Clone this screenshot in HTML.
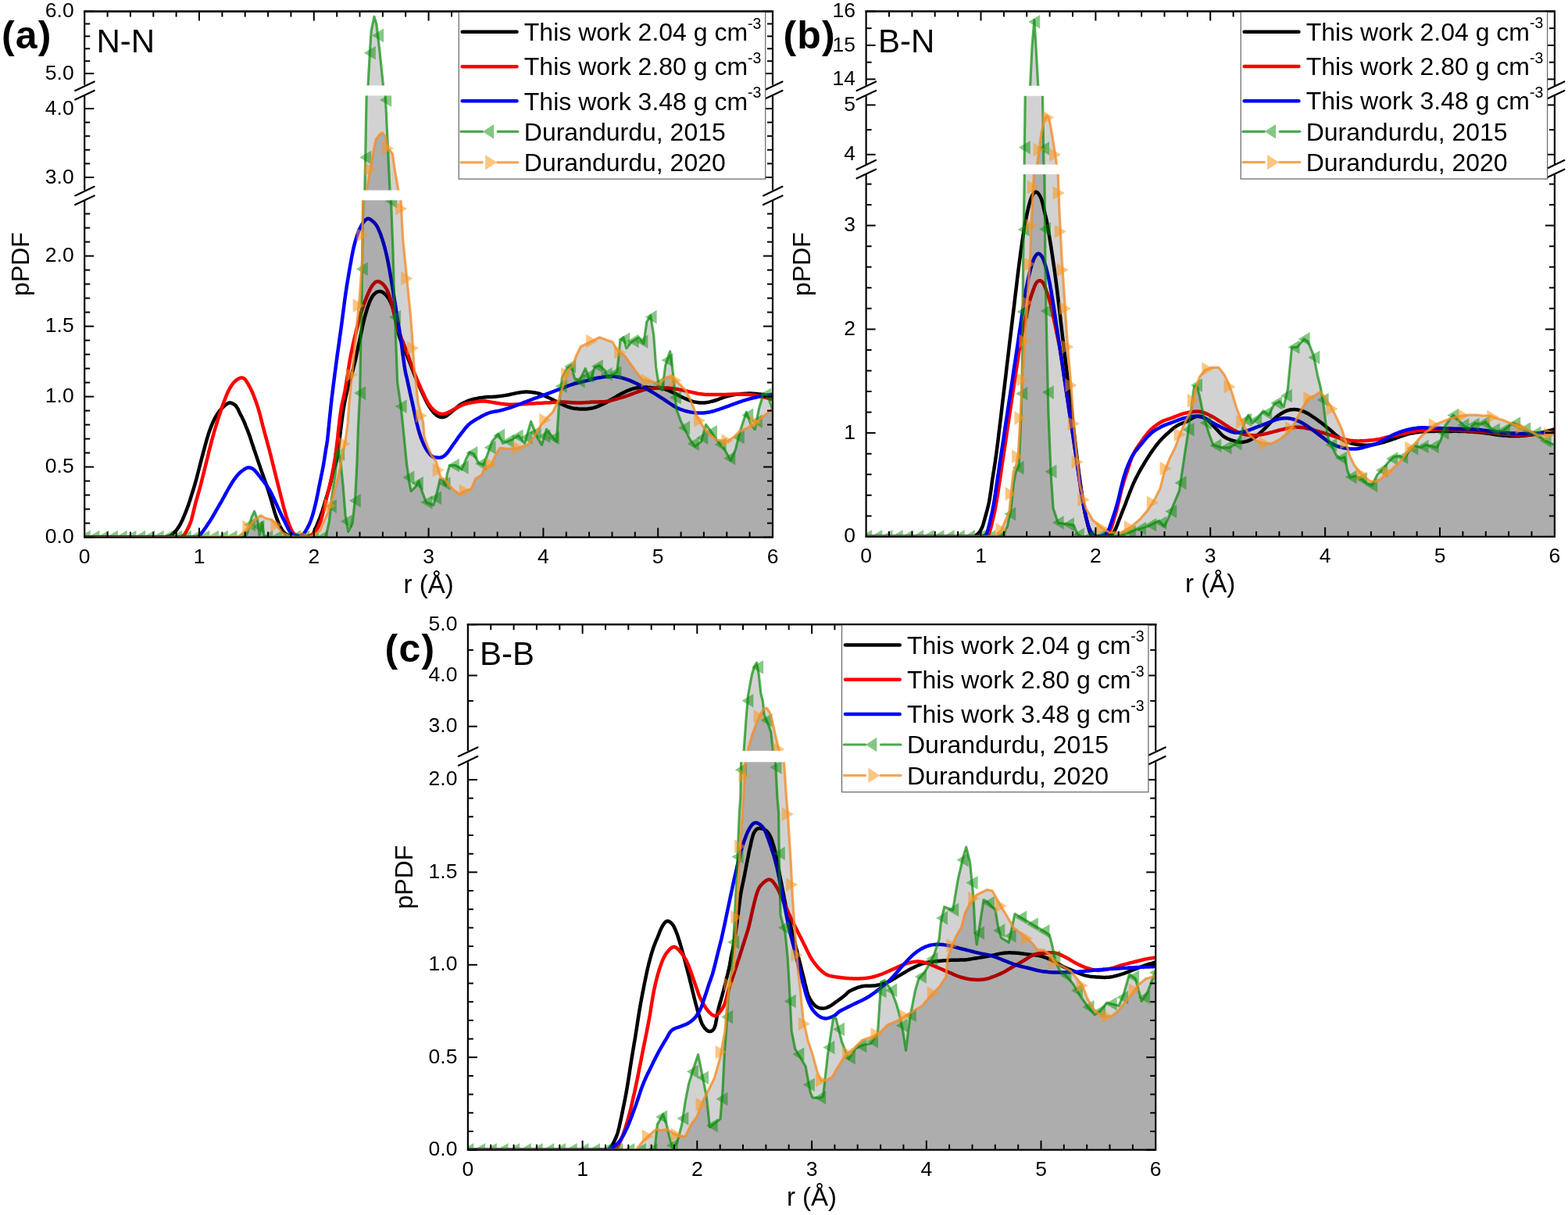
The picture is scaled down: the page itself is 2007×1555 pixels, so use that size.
<!DOCTYPE html><html><head><meta charset="utf-8"><style>html,body{margin:0;padding:0;background:#fff;}svg{display:block}</style></head><body>
<svg width="2007" height="1555" viewBox="0 0 2007 1555" font-family="'Liberation Sans', Arial, sans-serif">
<rect width="2007" height="1555" fill="#fff"/>
<clipPath id="clip0"><rect x="108.2" y="14.6" width="880.8" height="673.0"/></clipPath>
<g clip-path="url(#clip0)">
<polyline fill="none" stroke="#000000" stroke-width="4.5" stroke-linejoin="round" stroke-linecap="round" points="108.2,687.6 115.8,687.6 126.6,687.6 139.4,687.6 153.3,687.6 167.4,687.6 180.5,687.6 191.7,687.6 200.0,687.6 205.4,687.6 208.7,687.5 210.6,687.5 211.3,687.4 211.4,687.4 211.2,687.3 211.3,687.2 212.0,687.0 213.1,686.9 214.1,686.8 214.9,686.8 215.7,686.7 216.5,686.5 217.3,686.1 218.2,685.6 219.2,684.9 220.3,684.0 221.6,682.9 222.9,681.7 224.2,680.3 225.6,678.8 226.9,677.0 228.3,675.1 229.6,673.0 230.9,670.7 232.2,668.1 233.5,665.4 234.8,662.5 236.1,659.4 237.4,656.2 238.7,652.9 240.0,649.4 241.3,645.8 242.6,641.9 243.9,637.9 245.2,633.7 246.5,629.5 247.8,625.3 249.1,621.0 250.3,616.8 251.5,612.6 252.6,608.3 253.7,604.0 254.8,599.7 255.9,595.4 257.0,591.1 258.1,586.9 259.2,582.8 260.3,578.7 261.4,574.6 262.5,570.5 263.6,566.5 264.7,562.6 265.8,558.8 266.9,555.1 268.1,551.7 269.3,548.4 270.5,545.3 271.7,542.3 273.0,539.5 274.3,536.8 275.6,534.2 277.0,531.8 278.4,529.5 280.0,527.3 281.6,525.2 283.4,523.2 285.2,521.4 286.9,519.7 288.7,518.3 290.3,517.1 291.7,516.2 293.0,515.7 294.2,515.5 295.4,515.6 296.4,515.9 297.4,516.3 298.4,516.8 299.2,517.3 300.0,517.8 300.7,518.2 301.3,518.7 301.8,519.2 302.2,519.8 302.6,520.4 303.0,521.0 303.4,521.7 303.9,522.5 304.4,523.3 304.9,524.2 305.3,525.2 305.8,526.2 306.3,527.2 306.7,528.2 307.2,529.2 307.7,530.2 308.2,531.2 308.7,532.1 309.2,533.0 309.7,534.0 310.1,534.9 310.6,535.9 311.1,536.9 311.6,537.9 312.1,539.0 312.6,540.1 313.0,541.2 313.5,542.4 314.0,543.6 314.4,544.8 314.9,546.0 315.4,547.2 315.9,548.4 316.4,549.6 316.9,550.8 317.4,552.1 317.8,553.3 318.3,554.6 318.8,555.9 319.3,557.2 319.8,558.6 320.3,560.0 320.7,561.4 321.2,562.9 321.7,564.4 322.1,565.9 322.6,567.3 323.1,568.8 323.6,570.2 324.1,571.6 324.5,573.0 325.0,574.5 325.5,575.9 326.0,577.3 326.5,578.8 327.0,580.3 327.5,581.8 328.0,583.4 328.5,584.9 329.1,586.5 329.6,588.1 330.2,589.8 330.8,591.6 331.4,593.4 332.1,595.3 332.8,597.3 333.5,599.4 334.3,601.6 335.0,603.7 335.8,605.9 336.6,608.1 337.3,610.2 338.0,612.3 338.8,614.4 339.5,616.5 340.3,618.6 341.0,620.6 341.7,622.7 342.4,624.8 343.1,626.9 343.8,629.0 344.4,631.1 345.0,633.2 345.7,635.2 346.3,637.3 346.9,639.4 347.5,641.5 348.1,643.6 348.7,645.7 349.3,647.9 350.0,650.0 350.6,652.2 351.2,654.3 351.8,656.4 352.5,658.4 353.1,660.3 353.7,662.1 354.4,663.8 355.0,665.5 355.7,667.1 356.3,668.7 356.9,670.1 357.6,671.6 358.2,672.9 358.8,674.2 359.4,675.4 360.0,676.5 360.7,677.6 361.3,678.6 361.9,679.5 362.5,680.4 363.2,681.2 363.9,681.9 364.6,682.6 365.4,683.2 366.1,683.7 366.8,684.2 367.6,684.6 368.3,685.0 369.0,685.4 369.6,685.7 370.2,686.1 370.8,686.3 371.4,686.5 372.0,686.7 372.6,686.9 373.3,687.1 374.0,687.2 374.8,687.3 375.6,687.4 376.5,687.5 377.4,687.5 378.4,687.5 379.4,687.6 380.4,687.6 381.5,687.6 382.7,687.6 383.9,687.6 385.2,687.7 386.6,687.7 387.9,687.7 389.2,687.7 390.4,687.6 391.5,687.6 392.5,687.6 393.4,687.5 394.2,687.5 394.9,687.5 395.6,687.4 396.3,687.3 396.9,687.2 397.5,687.0 398.0,686.8 398.5,686.5 398.8,686.2 399.2,685.9 399.5,685.5 399.8,685.1 400.1,684.6 400.5,684.0 400.9,683.3 401.2,682.6 401.6,681.8 401.9,680.9 402.3,680.0 402.7,679.1 403.1,678.0 403.5,677.0 404.0,675.9 404.5,674.7 405.0,673.5 405.5,672.2 406.1,670.9 406.6,669.6 407.2,668.3 407.7,667.0 408.2,665.7 408.7,664.5 409.2,663.3 409.7,662.0 410.2,660.7 410.7,659.3 411.2,657.8 411.8,656.2 412.4,654.4 413.0,652.4 413.6,650.3 414.3,648.2 415.0,646.0 415.6,643.7 416.3,641.5 416.9,639.4 417.5,637.3 418.2,635.3 418.8,633.3 419.4,631.3 420.0,629.3 420.7,627.2 421.3,625.0 421.9,622.7 422.5,620.3 423.2,617.7 423.8,615.0 424.4,612.2 425.1,609.5 425.7,606.8 426.3,604.2 426.9,601.8 427.5,599.8 428.0,598.3 428.5,597.1 429.0,595.8 429.6,594.2 430.1,592.1 430.8,589.2 431.5,585.1 432.3,579.6 433.2,572.7 434.2,565.0 435.3,556.7 436.3,548.3 437.3,540.2 438.3,532.8 439.2,526.6 440.0,521.4 440.8,516.9 441.6,512.9 442.3,509.3 443.0,506.1 443.7,503.0 444.4,500.0 445.1,497.0 445.8,494.1 446.5,491.5 447.2,489.1 447.9,486.9 448.5,484.7 449.2,482.6 449.8,480.4 450.5,478.0 451.1,475.6 451.8,473.2 452.4,470.8 453.0,468.3 453.6,465.8 454.3,463.3 454.9,460.7 455.5,458.0 456.1,455.2 456.7,452.4 457.3,449.6 457.9,446.6 458.5,443.6 459.2,440.5 459.9,437.3 460.6,433.9 461.4,430.3 462.2,426.4 463.1,422.4 463.9,418.3 464.8,414.2 465.8,410.1 466.7,406.3 467.7,402.8 468.7,399.5 469.7,396.2 470.7,393.0 471.8,389.9 472.8,387.1 473.9,384.5 475.1,382.1 476.2,380.1 477.4,378.4 478.6,376.9 479.8,375.7 481.1,374.7 482.3,373.9 483.6,373.4 484.9,373.1 486.1,373.0 487.4,373.1 488.6,373.5 489.9,374.1 491.2,375.0 492.4,376.0 493.7,377.2 494.9,378.6 496.0,380.1 497.1,381.7 498.2,383.5 499.2,385.4 500.2,387.5 501.2,389.8 502.1,392.3 503.1,395.0 504.0,398.0 504.9,401.4 505.8,405.3 506.7,409.5 507.5,413.8 508.3,418.2 509.2,422.4 510.1,426.4 511.0,429.9 511.9,432.9 512.9,435.6 513.8,438.0 514.8,440.2 515.8,442.4 516.8,444.7 517.9,447.1 519.0,449.8 520.2,452.8 521.4,455.9 522.6,459.2 523.9,462.5 525.2,465.9 526.5,469.2 527.7,472.5 529.0,475.7 530.2,478.8 531.5,481.9 532.8,485.0 534.0,488.0 535.2,491.0 536.5,493.9 537.8,496.8 539.0,499.6 540.3,502.3 541.5,505.1 542.8,507.7 544.0,510.4 545.3,512.9 546.5,515.3 547.8,517.5 549.0,519.6 550.2,521.5 551.5,523.4 552.7,525.1 554.0,526.7 555.2,528.1 556.4,529.4 557.7,530.5 558.9,531.5 560.1,532.3 561.4,532.9 562.6,533.4 563.8,533.7 565.1,533.9 566.3,533.9 567.6,533.8 568.9,533.5 570.2,533.0 571.6,532.2 573.0,531.2 574.4,530.1 575.8,528.9 577.2,527.7 578.6,526.6 579.9,525.5 581.2,524.5 582.4,523.5 583.6,522.4 584.7,521.4 585.9,520.4 587.1,519.4 588.5,518.4 589.9,517.5 591.4,516.6 593.1,515.8 594.7,515.0 596.5,514.2 598.3,513.4 600.1,512.7 601.9,512.1 603.8,511.5 605.7,511.0 607.7,510.5 609.7,510.1 611.7,509.7 613.7,509.3 615.8,509.0 617.8,508.8 619.8,508.5 621.8,508.3 623.8,508.1 625.9,508.0 627.9,507.9 629.9,507.9 631.9,507.8 633.8,507.7 635.7,507.5 637.5,507.3 639.3,507.1 641.1,506.9 642.8,506.6 644.5,506.4 646.3,506.1 648.0,505.8 649.7,505.5 651.5,505.2 653.2,504.8 655.0,504.4 656.8,504.0 658.5,503.6 660.3,503.2 662.0,502.9 663.6,502.6 665.2,502.4 666.7,502.1 668.2,502.0 669.6,501.8 671.0,501.7 672.5,501.6 674.0,501.6 675.6,501.6 677.2,501.7 678.9,501.8 680.7,502.0 682.4,502.2 684.2,502.4 686.0,502.8 687.7,503.1 689.5,503.6 691.3,504.2 693.0,504.8 694.8,505.5 696.6,506.3 698.4,507.1 700.1,507.9 701.8,508.7 703.5,509.5 705.1,510.2 706.6,511.0 708.0,511.7 709.5,512.5 710.9,513.2 712.3,514.0 713.8,514.7 715.4,515.5 717.1,516.3 718.8,517.1 720.5,517.9 722.3,518.8 724.1,519.5 725.9,520.3 727.6,520.9 729.4,521.5 731.1,522.0 732.9,522.4 734.6,522.7 736.4,522.9 738.1,523.1 739.8,523.3 741.6,523.4 743.3,523.5 745.0,523.5 746.8,523.6 748.5,523.5 750.3,523.4 752.1,523.3 753.8,523.1 755.6,522.8 757.3,522.5 759.1,522.1 760.9,521.6 762.7,521.0 764.5,520.3 766.2,519.6 767.9,518.9 769.6,518.2 771.2,517.5 772.7,516.8 774.0,516.1 775.3,515.4 776.6,514.7 777.9,513.9 779.2,513.2 780.5,512.3 782.0,511.5 783.6,510.6 785.3,509.6 787.0,508.6 788.8,507.6 790.5,506.5 792.3,505.5 794.1,504.5 795.9,503.6 797.6,502.7 799.4,501.9 801.1,501.0 802.9,500.2 804.7,499.5 806.4,498.8 808.2,498.1 809.9,497.6 811.6,497.1 813.4,496.7 815.1,496.4 816.9,496.2 818.6,496.0 820.3,495.8 822.1,495.7 823.8,495.6 825.6,495.6 827.3,495.6 829.1,495.8 830.9,495.9 832.7,496.1 834.4,496.3 836.1,496.5 837.8,496.6 839.4,496.7 840.9,496.7 842.3,496.8 843.7,496.8 845.2,496.9 846.6,497.0 848.1,497.2 849.7,497.6 851.4,498.1 853.1,498.8 854.9,499.5 856.7,500.3 858.5,501.1 860.3,502.0 862.0,502.8 863.7,503.6 865.3,504.3 866.8,505.1 868.2,505.9 869.7,506.6 871.1,507.4 872.5,508.1 874.0,508.8 875.6,509.5 877.3,510.2 879.0,510.9 880.8,511.6 882.6,512.3 884.4,513.0 886.2,513.6 887.9,514.1 889.6,514.5 891.2,514.8 892.7,515.1 894.1,515.3 895.6,515.5 897.0,515.6 898.4,515.6 899.9,515.6 901.5,515.5 903.2,515.3 904.9,515.1 906.6,514.8 908.4,514.4 910.2,513.9 912.0,513.5 913.7,513.0 915.5,512.5 917.2,512.0 919.0,511.3 920.7,510.7 922.5,510.0 924.2,509.3 925.9,508.6 927.7,508.0 929.4,507.5 931.1,507.0 932.8,506.6 934.6,506.2 936.3,505.8 938.0,505.5 939.8,505.1 941.6,504.9 943.4,504.6 945.3,504.4 947.3,504.2 949.3,504.0 951.4,503.9 953.4,503.7 955.4,503.7 957.4,503.6 959.3,503.6 961.1,503.6 962.9,503.7 964.6,503.7 966.3,503.9 968.0,504.0 969.7,504.2 971.5,504.4 973.3,504.6 975.3,504.9 977.5,505.3 979.8,505.7 982.1,506.1 984.3,506.5 986.3,506.9 988.0,507.3 989.2,507.5"/>
<polyline fill="none" stroke="#ff0000" stroke-width="4.5" stroke-linejoin="round" stroke-linecap="round" points="108.2,687.6 117.9,687.6 131.7,687.6 148.2,687.7 166.0,687.7 184.0,687.7 200.6,687.7 214.8,687.7 225.0,687.6 231.3,687.5 234.9,687.4 236.5,687.2 236.5,687.1 235.7,686.8 234.6,686.6 233.8,686.2 234.0,685.8 234.8,685.3 235.4,684.8 236.0,684.2 236.4,683.6 236.9,682.9 237.4,682.0 237.9,681.1 238.5,680.0 239.2,678.8 239.9,677.5 240.6,676.1 241.4,674.6 242.1,672.9 242.9,671.1 243.7,669.2 244.4,667.1 245.1,664.8 245.8,662.2 246.5,659.5 247.2,656.6 247.9,653.7 248.6,650.7 249.3,647.8 250.0,645.0 250.7,642.3 251.5,639.6 252.3,637.0 253.0,634.4 253.8,631.7 254.6,628.9 255.5,625.9 256.3,622.8 257.2,619.5 258.1,615.9 259.0,612.2 259.9,608.5 260.9,604.6 261.8,600.8 262.8,597.0 263.7,593.2 264.6,589.5 265.6,585.7 266.5,581.9 267.4,578.1 268.3,574.4 269.3,570.7 270.2,567.1 271.1,563.6 272.0,560.2 273.0,556.9 273.9,553.7 274.8,550.5 275.7,547.4 276.7,544.4 277.6,541.4 278.5,538.4 279.4,535.5 280.4,532.5 281.3,529.7 282.2,526.8 283.1,524.1 284.0,521.4 285.0,518.7 285.9,516.2 286.8,513.7 287.8,511.3 288.7,508.9 289.6,506.6 290.5,504.4 291.4,502.3 292.4,500.3 293.3,498.5 294.2,496.8 295.2,495.2 296.1,493.8 297.0,492.5 297.9,491.2 298.9,490.1 299.8,489.1 300.7,488.1 301.6,487.2 302.6,486.4 303.5,485.8 304.5,485.2 305.4,484.7 306.3,484.3 307.2,483.9 308.0,483.7 308.7,483.5 309.4,483.5 310.0,483.5 310.6,483.6 311.2,483.8 311.8,484.1 312.4,484.5 313.0,485.0 313.7,485.7 314.4,486.5 315.1,487.5 315.8,488.6 316.5,489.7 317.2,490.8 317.9,492.0 318.5,493.1 319.1,494.2 319.7,495.3 320.3,496.5 320.9,497.6 321.5,498.8 322.0,500.0 322.6,501.2 323.1,502.4 323.6,503.6 324.1,504.8 324.6,506.0 325.1,507.3 325.6,508.5 326.0,509.8 326.5,511.1 327.0,512.4 327.5,513.8 328.0,515.2 328.5,516.6 329.0,518.1 329.5,519.6 330.0,521.1 330.5,522.5 330.9,524.0 331.3,525.5 331.7,526.9 332.1,528.4 332.5,529.8 332.9,531.2 333.3,532.7 333.6,534.1 334.0,535.6 334.4,537.1 334.8,538.5 335.1,540.0 335.5,541.4 335.9,542.9 336.2,544.3 336.6,545.8 337.0,547.2 337.4,548.6 337.8,550.1 338.2,551.5 338.5,553.0 338.9,554.4 339.3,555.8 339.7,557.3 340.1,558.7 340.5,560.1 340.9,561.6 341.3,563.0 341.7,564.5 342.0,565.9 342.4,567.4 342.8,568.8 343.2,570.3 343.6,571.8 344.0,573.2 344.4,574.7 344.8,576.1 345.2,577.6 345.5,579.0 345.9,580.5 346.3,581.9 346.7,583.3 347.0,584.7 347.3,586.0 347.6,587.3 348.0,588.7 348.3,590.2 348.7,591.7 349.1,593.4 349.6,595.2 350.1,597.2 350.6,599.3 351.1,601.5 351.7,603.7 352.2,605.9 352.8,608.1 353.3,610.2 353.8,612.3 354.4,614.4 354.9,616.5 355.4,618.6 355.9,620.6 356.4,622.7 357.0,624.8 357.5,626.9 358.0,629.0 358.6,631.1 359.1,633.2 359.6,635.4 360.1,637.5 360.7,639.5 361.2,641.6 361.7,643.6 362.2,645.6 362.7,647.5 363.2,649.5 363.7,651.4 364.3,653.3 364.8,655.1 365.3,656.9 365.8,658.7 366.3,660.4 366.8,662.1 367.4,663.7 367.9,665.3 368.4,666.9 368.9,668.4 369.5,669.8 370.0,671.2 370.5,672.5 371.1,673.8 371.6,675.1 372.1,676.3 372.6,677.5 373.1,678.5 373.7,679.5 374.2,680.4 374.7,681.2 375.2,681.9 375.7,682.4 376.2,683.0 376.7,683.4 377.2,683.8 377.8,684.2 378.4,684.6 379.0,685.0 379.7,685.3 380.4,685.6 381.1,685.8 381.8,686.0 382.6,686.2 383.4,686.4 384.2,686.5 385.1,686.6 386.0,686.7 387.0,686.7 387.9,686.7 388.9,686.7 389.9,686.7 390.9,686.6 391.8,686.5 392.7,686.4 393.6,686.2 394.5,686.0 395.3,685.8 396.2,685.6 397.0,685.3 397.8,685.0 398.5,684.6 399.2,684.2 399.9,683.8 400.5,683.4 401.1,682.9 401.7,682.4 402.3,681.8 402.9,681.1 403.5,680.4 404.1,679.6 404.8,678.8 405.4,677.9 406.0,676.9 406.6,675.9 407.2,674.7 407.9,673.4 408.5,672.0 409.1,670.4 409.8,668.7 410.4,666.8 411.0,664.9 411.6,662.8 412.2,660.7 412.9,658.5 413.5,656.2 414.1,653.8 414.8,651.2 415.4,648.6 416.1,645.8 416.7,643.1 417.3,640.4 417.9,637.8 418.5,635.3 419.1,633.0 419.6,630.9 420.1,628.9 420.7,626.9 421.2,624.9 421.7,622.9 422.2,620.8 422.7,618.5 423.2,616.1 423.8,613.6 424.3,611.0 424.9,608.3 425.4,605.6 425.9,602.9 426.4,600.2 426.9,597.6 427.3,595.2 427.7,593.1 428.1,591.0 428.4,589.0 428.8,586.7 429.2,584.0 429.7,580.7 430.2,576.7 430.8,571.7 431.5,565.7 432.3,559.2 433.0,552.2 433.8,545.2 434.6,538.4 435.4,532.1 436.2,526.6 436.9,522.0 437.7,517.9 438.4,514.3 439.2,511.0 439.9,507.7 440.6,504.4 441.4,500.9 442.1,497.0 442.8,492.7 443.6,488.0 444.3,483.2 445.1,478.3 445.8,473.4 446.6,468.7 447.3,464.2 448.0,460.0 448.7,456.2 449.4,452.8 450.0,449.5 450.7,446.4 451.3,443.4 452.0,440.3 452.7,437.2 453.5,433.9 454.3,430.4 455.2,426.8 456.0,423.1 456.9,419.4 457.9,415.8 458.8,412.2 459.7,408.8 460.6,405.6 461.5,402.6 462.3,399.7 463.2,397.0 464.1,394.4 464.9,391.8 465.8,389.3 466.7,386.9 467.7,384.4 468.7,381.9 469.7,379.3 470.8,376.7 471.9,374.2 473.0,371.8 474.1,369.6 475.2,367.7 476.2,366.0 477.2,364.6 478.2,363.4 479.1,362.4 480.1,361.6 481.0,360.9 482.0,360.5 483.0,360.3 484.0,360.3 485.1,360.5 486.3,360.9 487.4,361.6 488.6,362.4 489.8,363.4 491.0,364.6 492.1,366.0 493.2,367.4 494.2,368.9 495.1,370.5 495.9,372.2 496.7,374.1 497.5,376.2 498.4,378.6 499.3,381.3 500.2,384.4 501.2,388.0 502.2,392.2 503.3,396.8 504.4,401.6 505.5,406.5 506.7,411.3 507.8,415.8 509.0,419.9 510.2,423.6 511.4,427.0 512.7,430.2 513.9,433.3 515.2,436.4 516.5,439.4 517.7,442.5 519.0,445.8 520.2,449.2 521.5,452.7 522.8,456.3 524.0,459.9 525.2,463.4 526.5,467.0 527.8,470.4 529.0,473.7 530.2,476.9 531.5,480.0 532.8,483.1 534.0,486.1 535.2,489.1 536.5,492.0 537.8,494.8 539.0,497.6 540.3,500.4 541.5,503.1 542.8,505.8 544.0,508.5 545.3,511.0 546.5,513.4 547.8,515.6 549.0,517.6 550.2,519.4 551.5,521.0 552.7,522.4 554.0,523.7 555.2,524.9 556.4,525.9 557.7,526.8 558.9,527.6 560.1,528.3 561.3,528.9 562.5,529.3 563.7,529.6 564.9,529.8 566.2,529.9 567.5,529.8 568.9,529.6 570.4,529.2 572.0,528.6 573.6,527.9 575.3,527.1 577.0,526.1 578.6,525.2 580.3,524.3 581.9,523.5 583.4,522.7 584.9,521.9 586.4,521.1 587.8,520.3 589.3,519.5 590.8,518.8 592.3,518.1 593.9,517.5 595.6,517.0 597.3,516.5 599.1,516.1 600.8,515.7 602.6,515.3 604.4,515.0 606.1,514.8 607.8,514.5 609.4,514.3 610.9,514.0 612.4,513.8 613.8,513.7 615.2,513.6 616.7,513.5 618.2,513.5 619.8,513.5 621.4,513.6 623.1,513.8 624.9,514.0 626.6,514.3 628.4,514.6 630.2,514.9 631.9,515.2 633.7,515.5 635.4,515.8 637.1,516.0 638.9,516.3 640.6,516.6 642.3,516.9 644.1,517.1 645.9,517.3 647.7,517.5 649.6,517.6 651.5,517.7 653.5,517.7 655.5,517.7 657.5,517.7 659.6,517.6 661.6,517.6 663.6,517.5 665.6,517.4 667.5,517.3 669.4,517.2 671.4,517.1 673.3,516.9 675.3,516.8 677.4,516.6 679.6,516.5 681.9,516.4 684.3,516.2 686.8,516.1 689.3,516.0 691.9,515.9 694.4,515.8 697.0,515.6 699.5,515.5 702.0,515.4 704.5,515.2 707.0,515.0 709.4,514.9 711.9,514.7 714.4,514.6 716.9,514.5 719.4,514.5 721.9,514.5 724.4,514.7 726.9,514.8 729.4,515.0 731.9,515.2 734.4,515.3 736.9,515.5 739.4,515.5 741.9,515.5 744.5,515.4 747.1,515.2 749.6,515.1 752.1,514.9 754.6,514.8 757.0,514.6 759.3,514.5 761.5,514.4 763.6,514.4 765.7,514.4 767.7,514.3 769.6,514.3 771.5,514.3 773.3,514.2 775.0,514.0 776.6,513.8 778.0,513.6 779.3,513.3 780.6,513.0 781.8,512.6 783.1,512.3 784.4,511.9 785.9,511.5 787.5,511.1 789.1,510.6 790.8,510.2 792.6,509.7 794.4,509.2 796.2,508.7 798.0,508.1 799.9,507.5 801.8,506.8 803.8,506.1 805.8,505.3 807.9,504.6 809.9,503.8 811.9,503.0 813.9,502.3 815.8,501.6 817.6,501.0 819.4,500.4 821.2,499.8 822.9,499.3 824.6,498.8 826.4,498.3 828.1,497.9 829.8,497.6 831.6,497.3 833.3,497.1 835.1,497.0 836.9,496.9 838.6,496.8 840.4,496.7 842.1,496.7 843.7,496.6 845.3,496.5 846.8,496.5 848.3,496.4 849.7,496.4 851.1,496.4 852.6,496.4 854.1,496.5 855.7,496.6 857.3,496.7 859.0,496.9 860.8,497.2 862.5,497.4 864.3,497.7 866.1,498.0 867.8,498.3 869.6,498.6 871.3,498.9 873.0,499.3 874.8,499.7 876.5,500.0 878.2,500.4 880.0,500.8 881.8,501.2 883.6,501.6 885.5,502.0 887.3,502.4 889.2,502.8 891.2,503.3 893.2,503.7 895.2,504.0 897.3,504.3 899.5,504.6 901.8,504.8 904.2,504.9 906.7,505.0 909.2,505.1 911.8,505.1 914.4,505.1 917.0,505.1 919.5,505.1 922.0,505.1 924.5,505.0 927.0,504.9 929.5,504.9 931.9,504.8 934.4,504.7 936.9,504.6 939.4,504.6 941.9,504.6 944.5,504.6 947.0,504.6 949.6,504.7 952.1,504.7 954.6,504.8 957.0,504.9 959.3,505.1 961.5,505.3 963.6,505.5 965.7,505.8 967.7,506.1 969.6,506.4 971.5,506.7 973.4,507.1 975.3,507.5 977.2,508.0 979.2,508.5 981.3,509.1 983.2,509.6 985.1,510.2 986.8,510.7 988.1,511.2 989.2,511.5"/>
<polyline fill="none" stroke="#0000ff" stroke-width="4.5" stroke-linejoin="round" stroke-linecap="round" points="108.2,687.6 119.6,687.6 135.8,687.6 155.1,687.7 176.0,687.7 197.0,687.7 216.5,687.7 233.0,687.7 245.0,687.6 252.3,687.5 256.3,687.6 257.8,687.6 257.7,687.6 256.5,687.4 255.1,687.1 254.3,686.5 254.7,685.6 256.1,684.4 257.5,682.8 258.9,681.1 260.4,679.1 261.9,677.0 263.5,674.8 265.0,672.5 266.6,670.1 268.2,667.7 269.8,665.1 271.5,662.3 273.2,659.5 274.9,656.6 276.5,653.7 278.2,650.8 279.9,647.9 281.6,644.9 283.4,641.8 285.2,638.5 287.0,635.3 288.7,632.2 290.4,629.2 291.9,626.5 293.2,624.2 294.3,622.3 295.3,620.6 296.1,619.3 296.8,618.1 297.5,617.0 298.1,616.0 298.8,615.1 299.5,614.0 300.3,612.9 301.0,611.9 301.8,610.9 302.5,609.9 303.3,609.0 304.0,608.1 304.8,607.3 305.5,606.5 306.2,605.7 307.0,605.0 307.8,604.4 308.5,603.7 309.2,603.1 310.0,602.6 310.8,602.0 311.5,601.5 312.2,601.0 313.0,600.5 313.8,600.0 314.5,599.6 315.2,599.2 316.0,598.9 316.8,598.6 317.5,598.5 318.3,598.4 319.0,598.5 319.8,598.6 320.5,598.7 321.3,598.9 322.0,599.2 322.8,599.6 323.5,600.0 324.2,600.4 324.8,600.9 325.4,601.4 326.0,602.0 326.6,602.7 327.3,603.5 328.1,604.4 329.0,605.5 330.1,606.8 331.3,608.3 332.6,610.0 334.0,611.8 335.4,613.6 336.8,615.4 338.0,617.0 339.1,618.5 340.0,619.8 340.9,620.9 341.6,621.9 342.3,622.9 343.0,623.8 343.6,624.8 344.2,625.8 344.9,626.9 345.6,628.1 346.2,629.3 346.9,630.5 347.5,631.7 348.1,633.0 348.7,634.3 349.4,635.6 350.0,636.9 350.6,638.2 351.3,639.6 351.9,640.9 352.5,642.3 353.1,643.7 353.8,645.1 354.4,646.4 355.0,647.8 355.6,649.2 356.2,650.5 356.9,651.9 357.5,653.3 358.1,654.7 358.8,656.0 359.4,657.4 360.0,658.7 360.6,660.0 361.2,661.3 361.9,662.5 362.5,663.8 363.1,665.0 363.8,666.2 364.4,667.5 365.0,668.7 365.6,670.0 366.3,671.3 366.9,672.7 367.6,674.0 368.2,675.3 368.8,676.6 369.4,677.7 370.0,678.7 370.6,679.6 371.1,680.4 371.6,681.1 372.0,681.7 372.5,682.3 373.0,682.8 373.6,683.3 374.2,683.7 374.9,684.1 375.5,684.5 376.3,684.8 377.0,685.0 377.8,685.2 378.5,685.4 379.3,685.5 380.1,685.6 380.9,685.6 381.8,685.7 382.6,685.7 383.5,685.6 384.4,685.5 385.2,685.3 386.0,685.0 386.8,684.6 387.5,684.1 388.2,683.6 388.8,682.9 389.4,682.2 390.0,681.4 390.6,680.6 391.2,679.7 391.8,678.7 392.4,677.7 393.1,676.5 393.7,675.4 394.3,674.1 395.0,672.8 395.6,671.5 396.2,670.1 396.8,668.7 397.4,667.3 397.9,665.9 398.4,664.4 399.0,662.9 399.5,661.3 400.0,659.7 400.5,658.0 401.0,656.2 401.5,654.3 402.0,652.4 402.5,650.4 403.0,648.3 403.6,646.2 404.1,644.0 404.6,641.7 405.1,639.4 405.6,637.0 406.1,634.5 406.7,631.9 407.2,629.2 407.7,626.5 408.2,623.8 408.8,621.1 409.3,618.5 409.8,615.9 410.4,613.3 410.9,610.7 411.4,608.0 412.0,605.4 412.5,602.8 413.0,600.2 413.5,597.6 414.0,595.0 414.4,592.3 414.9,589.6 415.3,586.9 415.7,584.2 416.1,581.6 416.5,579.1 416.9,576.7 417.2,574.6 417.5,573.0 417.8,571.5 418.0,570.1 418.3,568.4 418.6,566.3 419.0,563.6 419.4,560.0 419.9,555.5 420.4,550.2 421.0,544.4 421.6,538.1 422.3,531.5 423.0,524.8 423.7,518.2 424.4,511.8 425.2,505.4 426.0,498.8 426.8,492.1 427.7,485.4 428.5,478.7 429.4,472.2 430.2,465.9 431.0,460.0 431.7,454.4 432.5,449.2 433.2,444.1 433.9,439.3 434.5,434.5 435.2,429.7 435.9,424.8 436.6,419.7 437.3,414.5 438.0,409.1 438.7,403.6 439.4,398.2 440.1,392.8 440.8,387.5 441.5,382.3 442.2,377.3 442.9,372.5 443.6,367.8 444.3,363.2 445.1,358.7 445.8,354.3 446.5,350.1 447.2,345.9 447.9,341.9 448.6,338.0 449.3,334.2 449.9,330.5 450.6,326.9 451.3,323.4 452.0,320.0 452.7,316.7 453.5,313.6 454.3,310.5 455.1,307.6 456.0,304.7 456.9,302.0 457.8,299.4 458.7,296.9 459.6,294.6 460.6,292.4 461.6,290.4 462.7,288.4 463.7,286.6 464.9,284.9 466.0,283.5 467.0,282.2 468.1,281.2 469.1,280.4 470.1,279.9 471.0,279.8 471.9,279.9 472.7,280.2 473.6,280.6 474.5,281.2 475.3,281.8 476.2,282.5 477.1,283.2 478.0,283.9 478.9,284.8 479.8,285.7 480.6,286.8 481.5,288.0 482.4,289.4 483.3,291.0 484.2,292.8 485.1,294.8 486.0,297.0 486.9,299.3 487.8,301.8 488.6,304.3 489.5,306.8 490.3,309.4 491.1,312.0 491.8,314.6 492.5,317.2 493.2,319.9 493.9,322.7 494.6,325.6 495.3,328.7 496.0,332.0 496.7,335.5 497.4,339.1 498.1,342.9 498.8,346.8 499.5,350.8 500.2,354.9 500.9,359.0 501.6,363.2 502.3,367.4 503.0,371.7 503.7,376.1 504.4,380.6 505.2,385.1 505.9,389.6 506.6,394.1 507.3,398.5 508.0,402.9 508.7,407.3 509.5,411.7 510.2,416.2 510.9,420.6 511.6,425.0 512.3,429.4 513.0,433.9 513.7,438.5 514.3,443.3 514.9,448.1 515.5,452.9 516.2,457.6 516.8,462.1 517.3,466.3 517.9,470.0 518.4,473.2 518.9,475.9 519.4,478.3 519.9,480.4 520.4,482.5 520.9,484.6 521.4,486.9 522.0,489.6 522.6,492.5 523.3,495.6 524.0,498.8 524.7,502.1 525.5,505.5 526.3,509.0 527.1,512.5 527.9,516.2 528.8,520.1 529.6,524.2 530.6,528.5 531.5,532.9 532.5,537.2 533.4,541.3 534.4,545.3 535.3,548.8 536.2,552.0 537.1,555.0 538.0,557.8 538.9,560.4 539.8,562.8 540.7,565.1 541.7,567.3 542.7,569.5 543.8,571.6 544.9,573.6 546.0,575.5 547.2,577.3 548.3,578.9 549.5,580.4 550.6,581.7 551.6,582.8 552.6,583.7 553.5,584.3 554.3,584.7 555.2,585.0 556.0,585.2 556.9,585.3 557.7,585.4 558.6,585.5 559.5,585.6 560.4,585.7 561.4,585.8 562.3,585.7 563.3,585.7 564.2,585.5 565.1,585.3 566.0,585.0 566.8,584.6 567.6,584.2 568.4,583.6 569.1,583.0 569.9,582.3 570.7,581.6 571.5,580.7 572.3,579.8 573.2,578.8 574.1,577.6 574.9,576.4 575.9,575.1 576.8,573.7 577.8,572.3 578.8,570.8 579.9,569.3 581.0,567.7 582.2,566.0 583.5,564.3 584.8,562.4 586.0,560.6 587.3,558.8 588.6,557.1 589.9,555.4 591.1,553.8 592.4,552.2 593.6,550.6 594.8,549.0 596.0,547.5 597.3,546.1 598.6,544.7 599.9,543.4 601.3,542.2 602.7,541.1 604.1,540.1 605.6,539.1 607.1,538.1 608.6,537.2 610.2,536.3 611.8,535.4 613.5,534.5 615.2,533.5 616.9,532.6 618.7,531.6 620.5,530.8 622.3,529.9 624.0,529.2 625.8,528.5 627.5,527.9 629.3,527.5 631.0,527.1 632.8,526.8 634.5,526.5 636.2,526.2 638.0,525.9 639.7,525.5 641.4,525.1 643.1,524.6 644.9,524.2 646.6,523.7 648.3,523.2 650.1,522.7 651.9,522.1 653.7,521.5 655.6,520.8 657.5,520.1 659.5,519.4 661.5,518.6 663.6,517.8 665.6,517.0 667.6,516.3 669.6,515.5 671.6,514.7 673.6,514.0 675.6,513.2 677.5,512.5 679.5,511.7 681.5,511.0 683.5,510.2 685.5,509.5 687.5,508.8 689.5,508.0 691.5,507.3 693.5,506.6 695.5,505.8 697.5,505.1 699.5,504.3 701.5,503.6 703.5,502.9 705.5,502.1 707.5,501.4 709.5,500.6 711.4,499.9 713.4,499.1 715.4,498.4 717.4,497.6 719.4,496.8 721.4,496.1 723.4,495.3 725.4,494.5 727.4,493.7 729.4,493.0 731.4,492.3 733.4,491.6 735.4,491.0 737.4,490.5 739.4,490.0 741.4,489.5 743.3,489.0 745.3,488.6 747.3,488.1 749.3,487.6 751.3,487.1 753.3,486.6 755.3,486.0 757.2,485.5 759.2,485.0 761.2,484.5 763.3,484.0 765.3,483.6 767.4,483.2 769.5,482.9 771.6,482.5 773.8,482.2 775.9,482.0 778.0,481.8 780.0,481.6 782.0,481.6 783.9,481.6 785.7,481.7 787.4,481.9 789.1,482.2 790.8,482.5 792.5,482.8 794.2,483.2 795.9,483.6 797.6,484.1 799.4,484.6 801.1,485.2 802.9,485.8 804.7,486.4 806.4,487.1 808.2,487.9 809.9,488.6 811.6,489.4 813.4,490.2 815.1,491.0 816.9,491.9 818.6,492.8 820.3,493.7 822.1,494.7 823.8,495.6 825.5,496.5 827.3,497.5 829.0,498.5 830.8,499.5 832.6,500.5 834.3,501.5 836.1,502.6 837.8,503.6 839.5,504.7 841.3,505.8 843.0,506.9 844.7,508.0 846.5,509.1 848.2,510.2 850.0,511.4 851.7,512.5 853.4,513.6 855.2,514.8 856.9,516.0 858.7,517.2 860.5,518.4 862.2,519.5 864.0,520.6 865.7,521.5 867.4,522.3 869.2,523.1 870.9,523.8 872.7,524.4 874.4,525.0 876.1,525.6 877.9,526.0 879.6,526.5 881.3,526.9 883.1,527.3 884.8,527.6 886.6,527.9 888.4,528.1 890.1,528.3 891.9,528.4 893.6,528.5 895.3,528.5 897.1,528.5 898.8,528.5 900.6,528.4 902.3,528.2 904.0,528.0 905.8,527.8 907.5,527.5 909.2,527.2 911.0,526.7 912.7,526.3 914.5,525.8 916.3,525.2 918.0,524.6 919.8,524.1 921.5,523.5 923.2,522.9 925.0,522.3 926.7,521.7 928.5,521.1 930.2,520.4 931.9,519.8 933.7,519.1 935.4,518.5 937.1,517.9 938.9,517.2 940.6,516.6 942.4,515.9 944.2,515.3 945.9,514.7 947.7,514.1 949.4,513.5 951.1,512.9 952.9,512.4 954.6,511.9 956.4,511.4 958.1,510.9 959.8,510.4 961.6,509.9 963.3,509.5 965.1,509.1 966.8,508.7 968.6,508.3 970.4,507.9 972.1,507.5 973.9,507.1 975.6,506.8 977.2,506.5 978.9,506.2 980.6,505.9 982.4,505.6 984.1,505.4 985.7,505.1 987.1,504.9 988.3,504.7 989.2,504.6"/>
<polygon fill="#000" fill-opacity="0.175" points="108.2,687.6 108.2,687.6 312.0,687.6 316.0,684.0 322.0,662.0 325.6,654.5 329.5,664.7 332.2,685.0 335.5,668.5 338.0,686.0 342.0,687.6 415.0,687.6 417.0,686.3 421.4,667.1 424.4,637.5 428.8,607.9 432.5,575.4 436.2,593.1 439.2,622.7 442.1,659.7 445.8,680.4 451.0,670.1 454.7,637.5 456.9,593.1 458.4,548.8 460.6,504.4 461.4,460.0 461.8,434.0 462.7,405.6 463.5,334.9 464.9,256.0 466.9,243.0 469.1,121.9 471.0,109.5 473.5,64.5 475.2,39.4 479.0,21.4 481.8,30.5 485.9,64.5 490.5,109.5 493.3,121.9 499.0,243.0 500.5,256.0 503.0,320.7 504.5,377.3 506.6,433.9 508.0,470.0 508.7,489.6 513.1,519.2 517.6,563.6 520.5,593.1 523.5,615.3 526.2,628.7 531.6,623.3 536.2,615.6 540.1,628.7 545.5,642.6 554.7,646.5 557.8,636.5 563.2,613.3 566.3,614.1 570.2,621.0 572.5,605.6 575.6,595.6 583.3,595.6 591.0,601.0 596.4,587.8 601.0,578.6 606.4,580.9 612.6,592.5 618.8,594.8 623.4,583.2 629.7,565.3 637.7,555.4 643.7,567.3 653.7,563.3 663.6,557.4 671.6,567.3 679.6,539.4 687.5,559.4 693.5,569.3 699.5,549.4 707.5,559.4 712.4,565.3 715.4,519.5 719.4,483.6 725.4,471.7 731.4,467.7 735.4,483.6 741.3,487.6 749.3,471.7 755.3,487.6 761.3,469.7 767.3,467.7 774.0,473.7 778.0,483.6 784.0,479.6 789.9,475.7 793.9,435.8 797.9,431.8 801.9,445.8 807.9,437.8 817.8,431.8 823.8,439.8 827.8,411.9 832.8,403.9 836.8,429.8 839.7,469.7 843.7,495.6 847.7,499.6 851.7,467.7 857.7,449.7 861.7,479.6 865.7,523.5 871.6,539.4 877.6,551.4 883.6,563.3 889.6,571.3 897.5,565.3 903.5,543.4 909.5,551.4 917.5,563.3 927.4,575.3 935.4,589.2 941.4,575.3 947.4,551.4 955.3,527.5 961.3,543.4 966.3,549.4 971.3,523.5 977.2,503.6 983.2,507.5 989.2,525.5 989.0,687.6"/>
<polygon fill="#000" fill-opacity="0.175" points="108.2,687.6 108.2,687.6 300.0,687.6 306.4,686.6 314.7,678.4 322.9,668.5 333.8,659.7 339.3,663.0 347.5,665.2 353.0,670.7 361.3,681.7 369.5,686.0 377.7,687.3 395.0,687.6 399.2,686.3 409.6,678.9 419.9,655.3 425.9,637.5 430.3,619.8 434.7,602.0 439.2,578.3 442.1,563.6 445.1,541.4 446.6,519.2 449.5,489.6 452.5,460.0 455.0,433.9 458.5,398.5 460.6,377.3 463.5,334.9 464.5,256.0 469.4,243.0 477.7,195.2 481.0,178.7 485.9,172.1 489.2,169.7 493.3,175.4 495.8,188.6 502.4,196.8 505.7,219.9 509.8,243.0 513.0,256.0 515.8,306.6 520.0,349.0 522.9,377.3 525.7,405.6 527.8,433.9 530.0,470.0 532.4,489.6 535.3,516.2 539.8,534.0 541.6,540.0 543.1,559.3 547.0,570.9 552.4,583.2 557.8,589.4 560.9,600.2 564.0,611.0 570.2,614.1 574.0,620.2 580.2,626.4 587.9,632.6 594.1,628.7 603.3,625.6 608.7,612.5 616.4,607.9 620.3,598.6 628.0,595.6 635.7,580.1 639.7,573.3 649.7,574.3 663.6,573.3 675.6,569.3 683.6,559.4 691.5,545.4 699.5,535.4 707.5,527.5 715.4,511.5 721.4,491.6 727.4,473.7 733.4,467.7 737.4,455.7 743.3,443.8 751.3,439.8 759.3,435.8 767.3,431.8 778.0,435.8 784.0,437.8 789.9,447.8 799.9,455.7 809.9,469.7 821.8,485.6 831.8,487.6 843.7,491.6 851.7,483.6 859.7,481.6 867.6,489.6 877.6,499.6 883.6,511.5 891.6,531.5 899.5,545.4 907.5,555.4 917.5,563.3 931.4,564.3 939.4,559.4 947.4,551.4 957.3,547.4 969.3,539.4 981.2,529.5 989.2,522.5 989.0,687.6"/>
<polyline fill="none" stroke="rgb(0,135,0)" stroke-opacity="0.68" stroke-width="3.2" stroke-linejoin="round" points="108.2,687.6 312.0,687.6 316.0,684.0 322.0,662.0 325.6,654.5 329.5,664.7 332.2,685.0 335.5,668.5 338.0,686.0 342.0,687.6 415.0,687.6 417.0,686.3 421.4,667.1 424.4,637.5 428.8,607.9 432.5,575.4 436.2,593.1 439.2,622.7 442.1,659.7 445.8,680.4 451.0,670.1 454.7,637.5 456.9,593.1 458.4,548.8 460.6,504.4 461.4,460.0 461.8,434.0 462.7,405.6 463.5,334.9 464.9,256.0 466.9,243.0 469.1,121.9 471.0,109.5 473.5,64.5 475.2,39.4 479.0,21.4 481.8,30.5 485.9,64.5 490.5,109.5 493.3,121.9 499.0,243.0 500.5,256.0 503.0,320.7 504.5,377.3 506.6,433.9 508.0,470.0 508.7,489.6 513.1,519.2 517.6,563.6 520.5,593.1 523.5,615.3 526.2,628.7 531.6,623.3 536.2,615.6 540.1,628.7 545.5,642.6 554.7,646.5 557.8,636.5 563.2,613.3 566.3,614.1 570.2,621.0 572.5,605.6 575.6,595.6 583.3,595.6 591.0,601.0 596.4,587.8 601.0,578.6 606.4,580.9 612.6,592.5 618.8,594.8 623.4,583.2 629.7,565.3 637.7,555.4 643.7,567.3 653.7,563.3 663.6,557.4 671.6,567.3 679.6,539.4 687.5,559.4 693.5,569.3 699.5,549.4 707.5,559.4 712.4,565.3 715.4,519.5 719.4,483.6 725.4,471.7 731.4,467.7 735.4,483.6 741.3,487.6 749.3,471.7 755.3,487.6 761.3,469.7 767.3,467.7 774.0,473.7 778.0,483.6 784.0,479.6 789.9,475.7 793.9,435.8 797.9,431.8 801.9,445.8 807.9,437.8 817.8,431.8 823.8,439.8 827.8,411.9 832.8,403.9 836.8,429.8 839.7,469.7 843.7,495.6 847.7,499.6 851.7,467.7 857.7,449.7 861.7,479.6 865.7,523.5 871.6,539.4 877.6,551.4 883.6,563.3 889.6,571.3 897.5,565.3 903.5,543.4 909.5,551.4 917.5,563.3 927.4,575.3 935.4,589.2 941.4,575.3 947.4,551.4 955.3,527.5 961.3,543.4 966.3,549.4 971.3,523.5 977.2,503.6 983.2,507.5 989.2,525.5"/>
<g fill="rgb(0,140,0)" fill-opacity="0.48"><polygon points="100.7,687.6 115.7,678.8 115.7,696.4"/><polygon points="112.4,687.6 127.4,678.8 127.4,696.4"/><polygon points="124.2,687.6 139.2,678.8 139.2,696.4"/><polygon points="135.9,687.6 150.9,678.8 150.9,696.4"/><polygon points="147.7,687.6 162.7,678.8 162.7,696.4"/><polygon points="159.4,687.6 174.4,678.8 174.4,696.4"/><polygon points="171.1,687.6 186.1,678.8 186.1,696.4"/><polygon points="182.9,687.6 197.9,678.8 197.9,696.4"/><polygon points="194.6,687.6 209.6,678.8 209.6,696.4"/><polygon points="206.4,687.6 221.4,678.8 221.4,696.4"/><polygon points="218.1,687.6 233.1,678.8 233.1,696.4"/><polygon points="229.8,687.6 244.8,678.8 244.8,696.4"/><polygon points="241.6,687.6 256.6,678.8 256.6,696.4"/><polygon points="253.3,687.6 268.3,678.8 268.3,696.4"/><polygon points="265.1,687.6 280.1,678.8 280.1,696.4"/><polygon points="276.8,687.6 291.8,678.8 291.8,696.4"/><polygon points="288.5,687.6 303.5,678.8 303.5,696.4"/><polygon points="300.3,687.6 315.3,678.8 315.3,696.4"/><polygon points="311.9,671.5 326.9,662.7 326.9,680.3"/><polygon points="323.3,674.3 338.3,665.5 338.3,683.1"/><polygon points="334.3,687.5 349.3,678.7 349.3,696.3"/><polygon points="346.1,687.6 361.1,678.8 361.1,696.4"/><polygon points="357.8,687.6 372.8,678.8 372.8,696.4"/><polygon points="369.5,687.6 384.5,678.8 384.5,696.4"/><polygon points="381.3,687.6 396.3,678.8 396.3,696.4"/><polygon points="393.0,687.6 408.0,678.8 408.0,696.4"/><polygon points="404.8,687.6 419.8,678.8 419.8,696.4"/><polygon points="415.9,647.9 430.9,639.1 430.9,656.7"/><polygon points="426.1,580.9 441.1,572.1 441.1,589.7"/><polygon points="435.9,667.2 450.9,658.4 450.9,676.0"/><polygon points="446.8,640.7 461.8,631.9 461.8,649.5"/><polygon points="453.1,503.1 468.1,494.3 468.1,511.9"/><polygon points="455.9,344.2 470.9,335.4 470.9,353.0"/><polygon points="460.2,201.5 475.2,192.7 475.2,210.3"/><polygon points="465.8,67.8 480.8,59.0 480.8,76.6"/><polygon points="476.1,45.4 491.1,36.6 491.1,54.2"/><polygon points="486.1,127.9 501.1,119.1 501.1,136.7"/><polygon points="493.1,257.6 508.1,248.8 508.1,266.4"/><polygon points="498.1,405.9 513.1,397.1 513.1,414.7"/><polygon points="505.7,520.1 520.7,511.3 520.7,528.9"/><polygon points="515.4,611.1 530.4,602.3 530.4,619.9"/><polygon points="526.9,618.6 541.9,609.8 541.9,627.4"/><polygon points="538.4,642.8 553.4,634.0 553.4,651.6"/><polygon points="550.1,637.2 565.1,628.4 565.1,646.0"/><polygon points="561.6,619.0 576.6,610.2 576.6,627.8"/><polygon points="573.0,595.6 588.0,586.8 588.0,604.4"/><polygon points="584.7,598.1 599.7,589.3 599.7,606.9"/><polygon points="596.3,579.8 611.3,571.0 611.3,588.6"/><polygon points="608.0,593.6 623.0,584.8 623.0,602.4"/><polygon points="619.6,572.8 634.6,564.0 634.6,581.6"/><polygon points="631.2,557.4 646.2,548.6 646.2,566.2"/><polygon points="642.9,564.6 657.9,555.8 657.9,573.4"/><polygon points="654.6,558.3 669.6,549.5 669.6,567.1"/><polygon points="666.3,559.7 681.3,550.9 681.3,568.5"/><polygon points="677.7,553.7 692.7,544.9 692.7,562.5"/><polygon points="689.3,558.3 704.3,549.5 704.3,567.1"/><polygon points="700.9,560.5 715.9,551.7 715.9,569.3"/><polygon points="710.7,494.3 725.7,485.5 725.7,503.1"/><polygon points="722.2,468.9 737.2,460.1 737.2,477.7"/><polygon points="733.7,487.6 748.7,478.8 748.7,496.4"/><polygon points="745.3,481.0 760.3,472.2 760.3,489.8"/><polygon points="756.9,468.7 771.9,459.9 771.9,477.5"/><polygon points="768.6,478.8 783.6,470.0 783.6,487.6"/><polygon points="780.3,477.1 795.3,468.3 795.3,485.9"/><polygon points="791.1,434.2 806.1,425.4 806.1,443.0"/><polygon points="802.7,436.4 817.7,427.6 817.7,445.2"/><polygon points="814.4,437.3 829.4,428.5 829.4,446.1"/><polygon points="825.6,405.8 840.6,397.0 840.6,414.6"/><polygon points="835.5,490.8 850.5,482.0 850.5,499.6"/><polygon points="846.5,460.9 861.5,452.1 861.5,469.7"/><polygon points="856.9,508.8 871.9,500.0 871.9,517.6"/><polygon points="868.1,547.4 883.1,538.6 883.1,556.2"/><polygon points="879.7,568.1 894.7,559.3 894.7,576.9"/><polygon points="891.4,560.2 906.4,551.4 906.4,569.0"/><polygon points="903.0,552.8 918.0,544.0 918.0,561.6"/><polygon points="914.6,568.9 929.6,560.1 929.6,577.7"/><polygon points="926.3,586.4 941.3,577.6 941.3,595.2"/><polygon points="937.8,559.8 952.8,551.0 952.8,568.6"/><polygon points="949.3,531.3 964.3,522.5 964.3,540.1"/><polygon points="960.8,539.2 975.8,530.4 975.8,548.0"/><polygon points="972.1,505.2 987.1,496.4 987.1,514.0"/></g>
<polyline fill="none" stroke="rgb(243,140,40)" stroke-opacity="0.8" stroke-width="3.2" stroke-linejoin="round" points="108.2,687.6 300.0,687.6 306.4,686.6 314.7,678.4 322.9,668.5 333.8,659.7 339.3,663.0 347.5,665.2 353.0,670.7 361.3,681.7 369.5,686.0 377.7,687.3 395.0,687.6 399.2,686.3 409.6,678.9 419.9,655.3 425.9,637.5 430.3,619.8 434.7,602.0 439.2,578.3 442.1,563.6 445.1,541.4 446.6,519.2 449.5,489.6 452.5,460.0 455.0,433.9 458.5,398.5 460.6,377.3 463.5,334.9 464.5,256.0 469.4,243.0 477.7,195.2 481.0,178.7 485.9,172.1 489.2,169.7 493.3,175.4 495.8,188.6 502.4,196.8 505.7,219.9 509.8,243.0 513.0,256.0 515.8,306.6 520.0,349.0 522.9,377.3 525.7,405.6 527.8,433.9 530.0,470.0 532.4,489.6 535.3,516.2 539.8,534.0 541.6,540.0 543.1,559.3 547.0,570.9 552.4,583.2 557.8,589.4 560.9,600.2 564.0,611.0 570.2,614.1 574.0,620.2 580.2,626.4 587.9,632.6 594.1,628.7 603.3,625.6 608.7,612.5 616.4,607.9 620.3,598.6 628.0,595.6 635.7,580.1 639.7,573.3 649.7,574.3 663.6,573.3 675.6,569.3 683.6,559.4 691.5,545.4 699.5,535.4 707.5,527.5 715.4,511.5 721.4,491.6 727.4,473.7 733.4,467.7 737.4,455.7 743.3,443.8 751.3,439.8 759.3,435.8 767.3,431.8 778.0,435.8 784.0,437.8 789.9,447.8 799.9,455.7 809.9,469.7 821.8,485.6 831.8,487.6 843.7,491.6 851.7,483.6 859.7,481.6 867.6,489.6 877.6,499.6 883.6,511.5 891.6,531.5 899.5,545.4 907.5,555.4 917.5,563.3 931.4,564.3 939.4,559.4 947.4,551.4 957.3,547.4 969.3,539.4 981.2,529.5 989.2,522.5"/>
<g fill="rgb(250,150,30)" fill-opacity="0.55"><polygon points="325.4,674.5 310.4,665.7 310.4,683.3"/><polygon points="361.4,671.9 346.4,663.1 346.4,680.7"/><polygon points="398.2,687.5 383.2,678.7 383.2,696.3"/><polygon points="430.1,647.2 415.1,638.4 415.1,656.0"/><polygon points="448.7,568.0 433.7,559.2 433.7,576.8"/><polygon points="458.0,479.8 443.0,471.0 443.0,488.6"/><polygon points="466.7,391.1 451.7,382.3 451.7,399.9"/><polygon points="471.4,300.8 456.4,292.0 456.4,309.6"/><polygon points="481.5,216.4 466.5,207.6 466.5,225.2"/><polygon points="504.1,189.7 489.1,180.9 489.1,198.5"/><polygon points="521.1,266.9 506.1,258.1 506.1,275.7"/><polygon points="528.3,356.4 513.3,347.6 513.3,365.2"/><polygon points="536.0,445.6 521.0,436.8 521.0,454.4"/><polygon points="546.8,532.1 531.8,523.3 531.8,540.9"/><polygon points="568.8,601.6 553.8,592.8 553.8,610.4"/><polygon points="602.7,628.3 587.7,619.5 587.7,637.1"/><polygon points="636.2,594.2 621.2,585.4 621.2,603.0"/><polygon points="671.1,573.3 656.1,564.5 656.1,582.1"/><polygon points="705.3,537.5 690.3,528.7 690.3,546.3"/><polygon points="733.2,478.8 718.2,470.0 718.2,487.6"/><polygon points="765.2,436.6 750.2,427.8 750.2,445.4"/><polygon points="801.2,450.8 786.2,442.0 786.2,459.6"/><polygon points="835.6,486.9 820.6,478.1 820.6,495.7"/><polygon points="872.3,486.8 857.3,478.0 857.3,495.6"/><polygon points="903.0,538.3 888.0,529.5 888.0,547.1"/><polygon points="938.5,564.3 923.5,555.5 923.5,573.1"/><polygon points="975.0,540.6 960.0,531.8 960.0,549.4"/></g>
<rect x="108.2" y="109.4" width="880.8" height="13.0" fill="#fff"/>
<rect x="108.2" y="243.5" width="880.8" height="12.800000000000011" fill="#fff"/>
</g>
<line x1="108.2" y1="14.6" x2="108.2" y2="108.7" stroke="#000" stroke-width="2.2"/>
<line x1="989.0" y1="14.6" x2="989.0" y2="108.7" stroke="#000" stroke-width="2.2"/>
<line x1="108.2" y1="122.6" x2="108.2" y2="243.5" stroke="#000" stroke-width="2.2"/>
<line x1="989.0" y1="122.6" x2="989.0" y2="243.5" stroke="#000" stroke-width="2.2"/>
<line x1="108.2" y1="256.3" x2="108.2" y2="687.6" stroke="#000" stroke-width="2.2"/>
<line x1="989.0" y1="256.3" x2="989.0" y2="687.6" stroke="#000" stroke-width="2.2"/>
<line x1="107.10000000000001" y1="14.6" x2="990.1" y2="14.6" stroke="#000" stroke-width="2.2"/>
<line x1="107.10000000000001" y1="687.6" x2="990.1" y2="687.6" stroke="#000" stroke-width="2.2"/>
<line x1="96.2" y1="116.0" x2="120.7" y2="104.4" stroke="#000" stroke-width="2.2" stroke-linecap="round"/>
<line x1="977.0" y1="116.0" x2="1001.5" y2="104.4" stroke="#000" stroke-width="2.2" stroke-linecap="round"/>
<line x1="96.2" y1="127.6" x2="120.7" y2="116.0" stroke="#000" stroke-width="2.2" stroke-linecap="round"/>
<line x1="977.0" y1="127.6" x2="1001.5" y2="116.0" stroke="#000" stroke-width="2.2" stroke-linecap="round"/>
<line x1="96.2" y1="250.4" x2="120.7" y2="238.79999999999998" stroke="#000" stroke-width="2.2" stroke-linecap="round"/>
<line x1="977.0" y1="250.4" x2="1001.5" y2="238.79999999999998" stroke="#000" stroke-width="2.2" stroke-linecap="round"/>
<line x1="96.2" y1="262.0" x2="120.7" y2="250.39999999999998" stroke="#000" stroke-width="2.2" stroke-linecap="round"/>
<line x1="977.0" y1="262.0" x2="1001.5" y2="250.39999999999998" stroke="#000" stroke-width="2.2" stroke-linecap="round"/>
<text x="108.2" y="720.6" font-size="26.5" text-anchor="middle">0</text>
<line x1="137.6" y1="687.6" x2="137.6" y2="680.6" stroke="#000" stroke-width="2"/>
<line x1="137.6" y1="14.6" x2="137.6" y2="21.6" stroke="#000" stroke-width="2"/>
<line x1="166.9" y1="687.6" x2="166.9" y2="680.6" stroke="#000" stroke-width="2"/>
<line x1="166.9" y1="14.6" x2="166.9" y2="21.6" stroke="#000" stroke-width="2"/>
<line x1="196.3" y1="687.6" x2="196.3" y2="680.6" stroke="#000" stroke-width="2"/>
<line x1="196.3" y1="14.6" x2="196.3" y2="21.6" stroke="#000" stroke-width="2"/>
<line x1="225.6" y1="687.6" x2="225.6" y2="680.6" stroke="#000" stroke-width="2"/>
<line x1="225.6" y1="14.6" x2="225.6" y2="21.6" stroke="#000" stroke-width="2"/>
<line x1="255.0" y1="687.6" x2="255.0" y2="675.6" stroke="#000" stroke-width="2"/>
<line x1="255.0" y1="14.6" x2="255.0" y2="26.6" stroke="#000" stroke-width="2"/>
<text x="255.0" y="720.6" font-size="26.5" text-anchor="middle">1</text>
<line x1="284.4" y1="687.6" x2="284.4" y2="680.6" stroke="#000" stroke-width="2"/>
<line x1="284.4" y1="14.6" x2="284.4" y2="21.6" stroke="#000" stroke-width="2"/>
<line x1="313.7" y1="687.6" x2="313.7" y2="680.6" stroke="#000" stroke-width="2"/>
<line x1="313.7" y1="14.6" x2="313.7" y2="21.6" stroke="#000" stroke-width="2"/>
<line x1="343.1" y1="687.6" x2="343.1" y2="680.6" stroke="#000" stroke-width="2"/>
<line x1="343.1" y1="14.6" x2="343.1" y2="21.6" stroke="#000" stroke-width="2"/>
<line x1="372.4" y1="687.6" x2="372.4" y2="680.6" stroke="#000" stroke-width="2"/>
<line x1="372.4" y1="14.6" x2="372.4" y2="21.6" stroke="#000" stroke-width="2"/>
<line x1="401.8" y1="687.6" x2="401.8" y2="675.6" stroke="#000" stroke-width="2"/>
<line x1="401.8" y1="14.6" x2="401.8" y2="26.6" stroke="#000" stroke-width="2"/>
<text x="401.8" y="720.6" font-size="26.5" text-anchor="middle">2</text>
<line x1="431.2" y1="687.6" x2="431.2" y2="680.6" stroke="#000" stroke-width="2"/>
<line x1="431.2" y1="14.6" x2="431.2" y2="21.6" stroke="#000" stroke-width="2"/>
<line x1="460.5" y1="687.6" x2="460.5" y2="680.6" stroke="#000" stroke-width="2"/>
<line x1="460.5" y1="14.6" x2="460.5" y2="21.6" stroke="#000" stroke-width="2"/>
<line x1="489.9" y1="687.6" x2="489.9" y2="680.6" stroke="#000" stroke-width="2"/>
<line x1="489.9" y1="14.6" x2="489.9" y2="21.6" stroke="#000" stroke-width="2"/>
<line x1="519.2" y1="687.6" x2="519.2" y2="680.6" stroke="#000" stroke-width="2"/>
<line x1="519.2" y1="14.6" x2="519.2" y2="21.6" stroke="#000" stroke-width="2"/>
<line x1="548.6" y1="687.6" x2="548.6" y2="675.6" stroke="#000" stroke-width="2"/>
<line x1="548.6" y1="14.6" x2="548.6" y2="26.6" stroke="#000" stroke-width="2"/>
<text x="548.6" y="720.6" font-size="26.5" text-anchor="middle">3</text>
<line x1="578.0" y1="687.6" x2="578.0" y2="680.6" stroke="#000" stroke-width="2"/>
<line x1="578.0" y1="14.6" x2="578.0" y2="21.6" stroke="#000" stroke-width="2"/>
<line x1="607.3" y1="687.6" x2="607.3" y2="680.6" stroke="#000" stroke-width="2"/>
<line x1="607.3" y1="14.6" x2="607.3" y2="21.6" stroke="#000" stroke-width="2"/>
<line x1="636.7" y1="687.6" x2="636.7" y2="680.6" stroke="#000" stroke-width="2"/>
<line x1="636.7" y1="14.6" x2="636.7" y2="21.6" stroke="#000" stroke-width="2"/>
<line x1="666.0" y1="687.6" x2="666.0" y2="680.6" stroke="#000" stroke-width="2"/>
<line x1="666.0" y1="14.6" x2="666.0" y2="21.6" stroke="#000" stroke-width="2"/>
<line x1="695.4" y1="687.6" x2="695.4" y2="675.6" stroke="#000" stroke-width="2"/>
<line x1="695.4" y1="14.6" x2="695.4" y2="26.6" stroke="#000" stroke-width="2"/>
<text x="695.4" y="720.6" font-size="26.5" text-anchor="middle">4</text>
<line x1="724.8" y1="687.6" x2="724.8" y2="680.6" stroke="#000" stroke-width="2"/>
<line x1="724.8" y1="14.6" x2="724.8" y2="21.6" stroke="#000" stroke-width="2"/>
<line x1="754.1" y1="687.6" x2="754.1" y2="680.6" stroke="#000" stroke-width="2"/>
<line x1="754.1" y1="14.6" x2="754.1" y2="21.6" stroke="#000" stroke-width="2"/>
<line x1="783.5" y1="687.6" x2="783.5" y2="680.6" stroke="#000" stroke-width="2"/>
<line x1="783.5" y1="14.6" x2="783.5" y2="21.6" stroke="#000" stroke-width="2"/>
<line x1="812.8" y1="687.6" x2="812.8" y2="680.6" stroke="#000" stroke-width="2"/>
<line x1="812.8" y1="14.6" x2="812.8" y2="21.6" stroke="#000" stroke-width="2"/>
<line x1="842.2" y1="687.6" x2="842.2" y2="675.6" stroke="#000" stroke-width="2"/>
<line x1="842.2" y1="14.6" x2="842.2" y2="26.6" stroke="#000" stroke-width="2"/>
<text x="842.2" y="720.6" font-size="26.5" text-anchor="middle">5</text>
<line x1="871.6" y1="687.6" x2="871.6" y2="680.6" stroke="#000" stroke-width="2"/>
<line x1="871.6" y1="14.6" x2="871.6" y2="21.6" stroke="#000" stroke-width="2"/>
<line x1="900.9" y1="687.6" x2="900.9" y2="680.6" stroke="#000" stroke-width="2"/>
<line x1="900.9" y1="14.6" x2="900.9" y2="21.6" stroke="#000" stroke-width="2"/>
<line x1="930.3" y1="687.6" x2="930.3" y2="680.6" stroke="#000" stroke-width="2"/>
<line x1="930.3" y1="14.6" x2="930.3" y2="21.6" stroke="#000" stroke-width="2"/>
<line x1="959.6" y1="687.6" x2="959.6" y2="680.6" stroke="#000" stroke-width="2"/>
<line x1="959.6" y1="14.6" x2="959.6" y2="21.6" stroke="#000" stroke-width="2"/>
<text x="989.0" y="720.6" font-size="26.5" text-anchor="middle">6</text>
<line x1="108.2" y1="669.6" x2="115.2" y2="669.6" stroke="#000" stroke-width="2"/>
<line x1="989.0" y1="669.6" x2="982.0" y2="669.6" stroke="#000" stroke-width="2"/>
<line x1="108.2" y1="651.6" x2="115.2" y2="651.6" stroke="#000" stroke-width="2"/>
<line x1="989.0" y1="651.6" x2="982.0" y2="651.6" stroke="#000" stroke-width="2"/>
<line x1="108.2" y1="633.6" x2="115.2" y2="633.6" stroke="#000" stroke-width="2"/>
<line x1="989.0" y1="633.6" x2="982.0" y2="633.6" stroke="#000" stroke-width="2"/>
<line x1="108.2" y1="615.6" x2="115.2" y2="615.6" stroke="#000" stroke-width="2"/>
<line x1="989.0" y1="615.6" x2="982.0" y2="615.6" stroke="#000" stroke-width="2"/>
<line x1="108.2" y1="597.6" x2="120.2" y2="597.6" stroke="#000" stroke-width="2"/>
<line x1="989.0" y1="597.6" x2="977.0" y2="597.6" stroke="#000" stroke-width="2"/>
<text x="94.7" y="605.1" font-size="26.5" text-anchor="end">0.5</text>
<line x1="108.2" y1="579.6" x2="115.2" y2="579.6" stroke="#000" stroke-width="2"/>
<line x1="989.0" y1="579.6" x2="982.0" y2="579.6" stroke="#000" stroke-width="2"/>
<line x1="108.2" y1="561.6" x2="115.2" y2="561.6" stroke="#000" stroke-width="2"/>
<line x1="989.0" y1="561.6" x2="982.0" y2="561.6" stroke="#000" stroke-width="2"/>
<line x1="108.2" y1="543.6" x2="115.2" y2="543.6" stroke="#000" stroke-width="2"/>
<line x1="989.0" y1="543.6" x2="982.0" y2="543.6" stroke="#000" stroke-width="2"/>
<line x1="108.2" y1="525.6" x2="115.2" y2="525.6" stroke="#000" stroke-width="2"/>
<line x1="989.0" y1="525.6" x2="982.0" y2="525.6" stroke="#000" stroke-width="2"/>
<line x1="108.2" y1="507.6" x2="120.2" y2="507.6" stroke="#000" stroke-width="2"/>
<line x1="989.0" y1="507.6" x2="977.0" y2="507.6" stroke="#000" stroke-width="2"/>
<text x="94.7" y="515.1" font-size="26.5" text-anchor="end">1.0</text>
<line x1="108.2" y1="489.6" x2="115.2" y2="489.6" stroke="#000" stroke-width="2"/>
<line x1="989.0" y1="489.6" x2="982.0" y2="489.6" stroke="#000" stroke-width="2"/>
<line x1="108.2" y1="471.6" x2="115.2" y2="471.6" stroke="#000" stroke-width="2"/>
<line x1="989.0" y1="471.6" x2="982.0" y2="471.6" stroke="#000" stroke-width="2"/>
<line x1="108.2" y1="453.6" x2="115.2" y2="453.6" stroke="#000" stroke-width="2"/>
<line x1="989.0" y1="453.6" x2="982.0" y2="453.6" stroke="#000" stroke-width="2"/>
<line x1="108.2" y1="435.6" x2="115.2" y2="435.6" stroke="#000" stroke-width="2"/>
<line x1="989.0" y1="435.6" x2="982.0" y2="435.6" stroke="#000" stroke-width="2"/>
<line x1="108.2" y1="417.6" x2="120.2" y2="417.6" stroke="#000" stroke-width="2"/>
<line x1="989.0" y1="417.6" x2="977.0" y2="417.6" stroke="#000" stroke-width="2"/>
<text x="94.7" y="425.1" font-size="26.5" text-anchor="end">1.5</text>
<line x1="108.2" y1="399.6" x2="115.2" y2="399.6" stroke="#000" stroke-width="2"/>
<line x1="989.0" y1="399.6" x2="982.0" y2="399.6" stroke="#000" stroke-width="2"/>
<line x1="108.2" y1="381.6" x2="115.2" y2="381.6" stroke="#000" stroke-width="2"/>
<line x1="989.0" y1="381.6" x2="982.0" y2="381.6" stroke="#000" stroke-width="2"/>
<line x1="108.2" y1="363.6" x2="115.2" y2="363.6" stroke="#000" stroke-width="2"/>
<line x1="989.0" y1="363.6" x2="982.0" y2="363.6" stroke="#000" stroke-width="2"/>
<line x1="108.2" y1="345.6" x2="115.2" y2="345.6" stroke="#000" stroke-width="2"/>
<line x1="989.0" y1="345.6" x2="982.0" y2="345.6" stroke="#000" stroke-width="2"/>
<line x1="108.2" y1="327.6" x2="120.2" y2="327.6" stroke="#000" stroke-width="2"/>
<line x1="989.0" y1="327.6" x2="977.0" y2="327.6" stroke="#000" stroke-width="2"/>
<text x="94.7" y="335.1" font-size="26.5" text-anchor="end">2.0</text>
<line x1="108.2" y1="309.6" x2="115.2" y2="309.6" stroke="#000" stroke-width="2"/>
<line x1="989.0" y1="309.6" x2="982.0" y2="309.6" stroke="#000" stroke-width="2"/>
<line x1="108.2" y1="291.6" x2="115.2" y2="291.6" stroke="#000" stroke-width="2"/>
<line x1="989.0" y1="291.6" x2="982.0" y2="291.6" stroke="#000" stroke-width="2"/>
<line x1="108.2" y1="273.6" x2="115.2" y2="273.6" stroke="#000" stroke-width="2"/>
<line x1="989.0" y1="273.6" x2="982.0" y2="273.6" stroke="#000" stroke-width="2"/>
<line x1="108.2" y1="687.6" x2="120.2" y2="687.6" stroke="#000" stroke-width="2"/>
<line x1="989.0" y1="687.6" x2="977.0" y2="687.6" stroke="#000" stroke-width="2"/>
<text x="94.7" y="695.1" font-size="26.5" text-anchor="end">0.0</text>
<line x1="108.2" y1="227.0" x2="120.2" y2="227.0" stroke="#000" stroke-width="2"/>
<line x1="989.0" y1="227.0" x2="977.0" y2="227.0" stroke="#000" stroke-width="2"/>
<text x="94.7" y="234.5" font-size="26.5" text-anchor="end">3.0</text>
<line x1="108.2" y1="209.4" x2="115.2" y2="209.4" stroke="#000" stroke-width="2"/>
<line x1="989.0" y1="209.4" x2="982.0" y2="209.4" stroke="#000" stroke-width="2"/>
<line x1="108.2" y1="191.8" x2="115.2" y2="191.8" stroke="#000" stroke-width="2"/>
<line x1="989.0" y1="191.8" x2="982.0" y2="191.8" stroke="#000" stroke-width="2"/>
<line x1="108.2" y1="174.2" x2="115.2" y2="174.2" stroke="#000" stroke-width="2"/>
<line x1="989.0" y1="174.2" x2="982.0" y2="174.2" stroke="#000" stroke-width="2"/>
<line x1="108.2" y1="156.6" x2="115.2" y2="156.6" stroke="#000" stroke-width="2"/>
<line x1="989.0" y1="156.6" x2="982.0" y2="156.6" stroke="#000" stroke-width="2"/>
<line x1="108.2" y1="139.0" x2="120.2" y2="139.0" stroke="#000" stroke-width="2"/>
<line x1="989.0" y1="139.0" x2="977.0" y2="139.0" stroke="#000" stroke-width="2"/>
<text x="94.7" y="146.5" font-size="26.5" text-anchor="end">4.0</text>
<line x1="108.2" y1="94.1" x2="120.2" y2="94.1" stroke="#000" stroke-width="2"/>
<line x1="989.0" y1="94.1" x2="977.0" y2="94.1" stroke="#000" stroke-width="2"/>
<text x="94.7" y="101.6" font-size="26.5" text-anchor="end">5.0</text>
<line x1="108.2" y1="78.2" x2="115.2" y2="78.2" stroke="#000" stroke-width="2"/>
<line x1="989.0" y1="78.2" x2="982.0" y2="78.2" stroke="#000" stroke-width="2"/>
<line x1="108.2" y1="62.3" x2="115.2" y2="62.3" stroke="#000" stroke-width="2"/>
<line x1="989.0" y1="62.3" x2="982.0" y2="62.3" stroke="#000" stroke-width="2"/>
<line x1="108.2" y1="46.4" x2="115.2" y2="46.4" stroke="#000" stroke-width="2"/>
<line x1="989.0" y1="46.4" x2="982.0" y2="46.4" stroke="#000" stroke-width="2"/>
<line x1="108.2" y1="30.5" x2="115.2" y2="30.5" stroke="#000" stroke-width="2"/>
<line x1="989.0" y1="30.5" x2="982.0" y2="30.5" stroke="#000" stroke-width="2"/>
<line x1="108.2" y1="14.6" x2="120.2" y2="14.6" stroke="#000" stroke-width="2"/>
<line x1="989.0" y1="14.6" x2="977.0" y2="14.6" stroke="#000" stroke-width="2"/>
<text x="94.7" y="22.1" font-size="26.5" text-anchor="end">6.0</text>
<text x="2" y="62.2" font-size="50" font-weight="bold" letter-spacing="1.2">(a)</text>
<text x="123.5" y="66.8" font-size="42">N-N</text>
<text x="548.6" y="759.1" font-size="33" text-anchor="middle">r (Å)</text>
<text transform="translate(37,338) rotate(-90)" font-size="32" text-anchor="middle">pPDF</text>
<rect x="587.3" y="14.6" width="392.4" height="214.5" fill="#fff" stroke="#6f6f6f" stroke-width="1.3"/>
<line x1="107.10000000000001" y1="14.6" x2="990.1" y2="14.6" stroke="#000" stroke-width="2.2"/>
<line x1="591.6999999999999" y1="40.8" x2="661.5" y2="40.8" stroke="#000" stroke-width="4.5" stroke-linecap="round"/>
<text x="670.8" y="52.0" font-size="32">This work 2.04 g cm<tspan dy="-15.5" font-size="19.5">-3</tspan></text>
<line x1="591.6999999999999" y1="85.19999999999999" x2="661.5" y2="85.19999999999999" stroke="#ff0000" stroke-width="4.5" stroke-linecap="round"/>
<text x="670.8" y="96.39999999999999" font-size="32">This work 2.80 g cm<tspan dy="-15.5" font-size="19.5">-3</tspan></text>
<line x1="591.6999999999999" y1="129.3" x2="661.5" y2="129.3" stroke="#0000ff" stroke-width="4.5" stroke-linecap="round"/>
<text x="670.8" y="140.5" font-size="32">This work 3.48 g cm<tspan dy="-15.5" font-size="19.5">-3</tspan></text>
<line x1="590.0" y1="168.4" x2="617.5999999999999" y2="168.4" stroke="#4ea84e" stroke-width="3.2" stroke-linecap="round"/>
<line x1="637.3" y1="168.4" x2="662.8" y2="168.4" stroke="#4ea84e" stroke-width="3.2" stroke-linecap="round"/>
<polygon fill="#82c882" points="617.9,168.4 632.0999999999999,159.1 632.0999999999999,177.70000000000002"/>
<text x="670.8" y="179.6" font-size="32">Durandurdu, 2015</text>
<line x1="590.0" y1="207.79999999999998" x2="617.3" y2="207.79999999999998" stroke="#f6a556" stroke-width="3.2" stroke-linecap="round"/>
<line x1="636.8" y1="207.79999999999998" x2="662.8" y2="207.79999999999998" stroke="#f6a556" stroke-width="3.2" stroke-linecap="round"/>
<polygon fill="#fcc680" points="636.0999999999999,207.79999999999998 621.1999999999999,198.2 621.1999999999999,217.39999999999998"/>
<text x="670.8" y="218.99999999999997" font-size="32">Durandurdu, 2020</text>
<clipPath id="clip1"><rect x="1108.6" y="14.5" width="881.3000000000002" height="672.4"/></clipPath>
<g clip-path="url(#clip1)">
<polyline fill="none" stroke="#000000" stroke-width="4.5" stroke-linejoin="round" stroke-linecap="round" points="1108.6,686.9 1119.6,686.9 1135.1,687.0 1153.6,687.0 1173.7,687.1 1193.8,687.1 1212.6,687.1 1228.5,687.0 1240.0,686.9 1247.1,686.8 1251.1,686.6 1252.8,686.4 1252.8,686.2 1251.8,686.0 1250.6,685.6 1249.7,685.1 1250.0,684.5 1251.0,683.8 1252.0,682.9 1252.9,682.0 1253.7,680.9 1254.5,679.8 1255.3,678.6 1256.0,677.3 1256.7,675.9 1257.3,674.5 1257.9,673.0 1258.4,671.4 1258.9,669.7 1259.4,668.0 1259.9,666.1 1260.4,664.1 1261.0,662.0 1261.6,659.8 1262.3,657.5 1262.9,655.1 1263.6,652.6 1264.3,649.9 1264.9,647.2 1265.6,644.2 1266.2,641.2 1266.8,638.0 1267.3,634.6 1267.8,631.1 1268.4,627.4 1268.9,623.7 1269.4,619.8 1269.9,615.9 1270.5,612.0 1271.1,608.3 1271.6,604.9 1272.2,601.6 1272.7,598.2 1273.3,594.4 1274.0,589.9 1274.7,584.6 1275.6,578.2 1276.6,570.5 1277.7,561.7 1278.8,551.9 1280.1,541.6 1281.4,530.9 1282.6,520.2 1283.9,509.6 1285.1,499.4 1286.3,489.5 1287.5,479.7 1288.6,469.8 1289.8,460.0 1291.0,450.1 1292.1,440.3 1293.3,430.4 1294.5,420.6 1295.7,410.5 1297.0,399.9 1298.3,389.2 1299.5,378.6 1300.8,368.3 1301.9,358.5 1303.0,349.6 1304.0,341.8 1304.8,335.1 1305.6,329.4 1306.2,324.5 1306.8,320.1 1307.4,316.2 1307.9,312.5 1308.4,308.8 1309.0,305.0 1309.6,301.2 1310.1,297.7 1310.6,294.4 1311.2,291.2 1311.7,288.1 1312.3,285.0 1312.9,282.0 1313.5,278.8 1314.2,275.5 1314.9,272.0 1315.7,268.5 1316.5,265.1 1317.4,261.7 1318.2,258.7 1319.0,255.9 1319.8,253.6 1320.6,251.7 1321.4,250.0 1322.2,248.7 1322.9,247.6 1323.7,246.7 1324.5,246.2 1325.3,245.8 1326.1,245.7 1326.9,245.9 1327.7,246.4 1328.6,247.2 1329.4,248.2 1330.2,249.4 1331.0,250.7 1331.7,252.1 1332.4,253.6 1333.0,255.1 1333.6,256.7 1334.0,258.4 1334.5,260.2 1335.0,262.2 1335.4,264.3 1335.9,266.5 1336.5,269.0 1337.1,271.4 1337.6,273.8 1338.2,276.2 1338.8,278.8 1339.5,281.7 1340.2,285.2 1340.9,289.4 1341.8,294.5 1342.8,300.5 1343.9,307.3 1345.1,314.7 1346.3,322.7 1347.6,331.1 1348.8,339.8 1350.1,348.7 1351.3,357.6 1352.5,366.7 1353.7,376.2 1354.8,386.0 1356.0,396.0 1357.2,406.2 1358.3,416.3 1359.5,426.4 1360.7,436.4 1361.9,446.2 1363.1,456.1 1364.3,465.9 1365.5,475.8 1366.6,485.6 1367.8,495.5 1369.0,505.4 1370.2,515.2 1371.4,525.3 1372.7,535.9 1373.9,546.6 1375.2,557.3 1376.4,567.6 1377.6,577.3 1378.6,586.2 1379.6,594.0 1380.4,600.6 1381.1,606.2 1381.8,611.0 1382.3,615.2 1382.9,619.0 1383.4,622.6 1383.9,626.2 1384.5,630.0 1385.1,633.8 1385.6,637.4 1386.2,640.9 1386.7,644.2 1387.3,647.4 1387.8,650.6 1388.4,653.8 1389.1,657.0 1389.8,660.4 1390.6,663.9 1391.4,667.5 1392.2,671.0 1393.0,674.4 1393.8,677.4 1394.6,680.1 1395.4,682.2 1396.1,683.8 1396.8,684.9 1397.4,685.6 1398.0,686.0 1398.7,686.2 1399.4,686.3 1400.1,686.4 1401.0,686.6 1402.0,686.8 1403.0,686.9 1404.2,686.9 1405.3,686.9 1406.5,686.8 1407.7,686.7 1408.9,686.6 1410.0,686.6 1411.1,686.6 1412.2,686.6 1413.2,686.6 1414.3,686.6 1415.3,686.5 1416.3,686.5 1417.2,686.4 1418.0,686.3 1418.7,686.2 1419.3,686.0 1419.8,685.9 1420.2,685.7 1420.6,685.5 1421.0,685.2 1421.5,684.9 1422.0,684.5 1422.6,684.1 1423.1,683.6 1423.7,683.1 1424.3,682.6 1424.9,681.9 1425.6,681.1 1426.2,680.2 1426.9,679.0 1427.6,677.6 1428.3,676.0 1429.1,674.1 1429.9,672.2 1430.6,670.2 1431.4,668.1 1432.2,666.0 1433.0,664.0 1433.8,662.1 1434.5,660.3 1435.1,658.6 1435.8,656.8 1436.6,654.9 1437.4,652.7 1438.4,650.3 1439.5,647.5 1440.8,644.3 1442.1,640.6 1443.6,636.6 1445.2,632.5 1446.9,628.2 1448.6,624.0 1450.3,619.9 1452.1,616.0 1453.9,612.3 1455.8,608.5 1457.8,604.8 1459.8,601.2 1461.8,597.6 1463.9,594.2 1465.9,590.8 1467.9,587.6 1469.9,584.5 1471.8,581.5 1473.8,578.6 1475.7,575.8 1477.7,573.1 1479.6,570.5 1481.6,568.0 1483.6,565.6 1485.7,563.3 1487.8,561.0 1490.0,558.8 1492.2,556.7 1494.4,554.8 1496.4,552.9 1498.3,551.3 1500.0,549.8 1501.5,548.5 1502.8,547.5 1503.9,546.6 1505.0,545.9 1505.9,545.3 1506.9,544.7 1507.9,544.1 1509.0,543.5 1510.1,542.9 1511.2,542.5 1512.2,542.1 1513.3,541.7 1514.3,541.3 1515.5,540.9 1516.7,540.4 1518.1,539.8 1519.6,539.0 1521.3,538.0 1523.0,537.0 1524.8,535.8 1526.6,534.8 1528.5,533.9 1530.2,533.2 1531.9,532.8 1533.5,532.7 1535.1,532.7 1536.6,533.0 1538.1,533.3 1539.6,533.9 1541.1,534.6 1542.6,535.4 1544.1,536.3 1545.6,537.4 1547.2,538.8 1548.8,540.3 1550.3,542.0 1551.9,543.7 1553.4,545.4 1554.9,547.0 1556.3,548.5 1557.7,549.9 1559.0,551.3 1560.3,552.8 1561.5,554.1 1562.8,555.5 1564.0,556.7 1565.3,557.9 1566.7,558.9 1568.1,559.8 1569.6,560.6 1571.1,561.4 1572.6,562.0 1574.2,562.6 1575.7,563.2 1577.3,563.7 1578.8,564.1 1580.3,564.5 1581.8,564.9 1583.3,565.3 1584.8,565.6 1586.3,565.8 1587.8,565.9 1589.4,565.9 1591.0,565.8 1592.7,565.5 1594.4,565.1 1596.1,564.7 1597.8,564.1 1599.6,563.4 1601.4,562.5 1603.2,561.6 1604.9,560.6 1606.6,559.4 1608.4,558.1 1610.1,556.6 1611.9,555.1 1613.6,553.5 1615.3,551.8 1617.1,550.1 1618.8,548.5 1620.5,546.8 1622.3,545.0 1624.0,543.2 1625.7,541.3 1627.4,539.5 1629.1,537.8 1630.9,536.1 1632.6,534.6 1634.3,533.2 1636.1,531.9 1637.9,530.6 1639.6,529.5 1641.4,528.4 1643.1,527.5 1644.8,526.6 1646.5,525.9 1648.1,525.3 1649.7,524.9 1651.2,524.5 1652.7,524.3 1654.2,524.2 1655.7,524.1 1657.2,524.1 1658.7,524.2 1660.2,524.3 1661.7,524.6 1663.2,524.9 1664.6,525.2 1666.1,525.7 1667.7,526.3 1669.2,526.9 1670.8,527.6 1672.4,528.4 1674.1,529.3 1675.8,530.3 1677.5,531.4 1679.3,532.6 1681.1,533.8 1682.9,535.0 1684.7,536.3 1686.6,537.7 1688.6,539.1 1690.6,540.7 1692.7,542.2 1694.7,543.8 1696.7,545.4 1698.6,546.9 1700.4,548.4 1702.1,549.8 1703.7,551.2 1705.2,552.6 1706.7,554.0 1708.2,555.3 1709.6,556.6 1711.1,557.8 1712.6,558.9 1714.1,560.0 1715.5,561.0 1717.0,561.9 1718.4,562.8 1719.9,563.6 1721.4,564.4 1723.0,565.1 1724.7,565.8 1726.5,566.4 1728.4,567.0 1730.3,567.5 1732.3,568.0 1734.3,568.4 1736.3,568.8 1738.3,569.1 1740.3,569.3 1742.3,569.5 1744.2,569.6 1746.2,569.7 1748.1,569.7 1750.1,569.7 1752.1,569.6 1754.0,569.5 1756.0,569.3 1758.0,569.0 1759.9,568.7 1761.9,568.3 1763.8,567.9 1765.8,567.4 1767.7,566.9 1769.7,566.3 1771.6,565.8 1773.5,565.2 1775.5,564.6 1777.4,564.0 1779.4,563.3 1781.3,562.6 1783.3,561.9 1785.2,561.3 1787.2,560.6 1789.2,559.9 1791.1,559.2 1793.0,558.5 1795.0,557.8 1797.0,557.2 1798.9,556.5 1800.9,555.9 1802.8,555.4 1804.7,554.9 1806.7,554.5 1808.6,554.2 1810.6,553.8 1812.5,553.5 1814.5,553.3 1816.4,553.0 1818.4,552.8 1820.3,552.6 1822.3,552.4 1824.2,552.3 1826.1,552.2 1828.1,552.1 1830.1,552.0 1832.1,552.0 1834.1,551.9 1836.2,551.9 1838.3,551.8 1840.5,551.8 1842.6,551.8 1844.8,551.9 1847.0,551.9 1849.2,551.9 1851.4,551.9 1853.6,551.9 1855.7,551.9 1857.9,551.9 1860.1,551.8 1862.3,551.8 1864.5,551.8 1866.6,551.9 1868.8,551.9 1871.0,552.0 1873.1,552.0 1875.3,552.1 1877.5,552.2 1879.6,552.4 1881.8,552.5 1883.9,552.6 1886.1,552.8 1888.3,553.0 1890.4,553.1 1892.6,553.3 1894.8,553.5 1897.0,553.8 1899.1,554.0 1901.3,554.2 1903.5,554.5 1905.7,554.8 1907.9,555.1 1910.0,555.5 1912.2,555.9 1914.4,556.2 1916.6,556.5 1918.7,556.9 1920.9,557.1 1923.1,557.3 1925.2,557.5 1927.4,557.6 1929.6,557.8 1931.7,557.9 1933.9,557.9 1936.0,558.0 1938.2,558.0 1940.4,558.0 1942.5,558.0 1944.7,557.9 1946.9,557.8 1949.1,557.7 1951.3,557.5 1953.4,557.3 1955.6,557.1 1957.8,556.8 1959.9,556.4 1962.1,556.1 1964.3,555.6 1966.4,555.2 1968.6,554.7 1970.8,554.2 1972.9,553.7 1975.2,553.2 1977.6,552.6 1980.0,551.9 1982.5,551.3 1984.8,550.7 1986.9,550.1 1988.6,549.6 1989.9,549.3"/>
<polyline fill="none" stroke="#ff0000" stroke-width="4.5" stroke-linejoin="round" stroke-linecap="round" points="1108.6,686.9 1121.1,686.9 1138.9,686.9 1160.1,686.9 1183.0,686.9 1206.1,686.9 1227.4,686.9 1245.3,686.9 1258.0,686.9 1265.5,686.9 1269.2,686.9 1270.1,687.0 1269.1,687.0 1266.9,687.0 1264.4,686.9 1262.5,686.7 1262.0,686.5 1262.5,686.2 1263.0,686.0 1263.6,685.7 1264.1,685.3 1264.6,684.9 1265.1,684.2 1265.7,683.3 1266.2,682.2 1266.7,680.8 1267.2,679.2 1267.8,677.4 1268.3,675.4 1268.8,673.2 1269.4,670.9 1269.9,668.5 1270.5,666.0 1271.1,663.6 1271.6,661.3 1272.2,659.0 1272.7,656.5 1273.3,653.7 1274.0,650.3 1274.7,646.2 1275.6,641.2 1276.6,635.2 1277.7,628.1 1278.8,620.4 1280.1,612.1 1281.4,603.5 1282.6,594.8 1283.9,586.3 1285.1,578.2 1286.3,570.3 1287.5,562.5 1288.6,554.6 1289.8,546.7 1291.0,538.8 1292.1,531.0 1293.3,523.1 1294.5,515.2 1295.7,507.1 1297.0,498.6 1298.3,489.9 1299.6,481.3 1300.8,473.1 1302.0,465.3 1303.1,458.2 1304.0,452.1 1304.8,447.0 1305.5,442.9 1306.0,439.4 1306.5,436.4 1307.0,433.8 1307.5,431.3 1307.9,428.8 1308.5,426.0 1309.1,423.1 1309.7,420.3 1310.4,417.7 1311.0,415.1 1311.6,412.5 1312.3,410.0 1312.9,407.4 1313.5,404.9 1314.1,402.3 1314.7,399.7 1315.2,397.1 1315.8,394.6 1316.3,392.0 1316.9,389.6 1317.4,387.2 1318.0,385.0 1318.6,382.9 1319.2,380.8 1319.9,378.8 1320.5,376.9 1321.1,375.0 1321.8,373.3 1322.3,371.7 1322.9,370.2 1323.4,368.8 1323.9,367.6 1324.3,366.4 1324.7,365.4 1325.2,364.4 1325.6,363.5 1326.0,362.7 1326.5,362.0 1327.0,361.4 1327.5,360.8 1328.1,360.3 1328.6,359.9 1329.2,359.6 1329.7,359.4 1330.3,359.2 1330.8,359.2 1331.3,359.2 1331.9,359.4 1332.4,359.6 1332.9,359.9 1333.5,360.3 1334.0,360.8 1334.5,361.4 1335.0,362.0 1335.5,362.7 1335.9,363.5 1336.4,364.4 1336.8,365.3 1337.3,366.4 1337.7,367.6 1338.2,368.8 1338.7,370.2 1339.2,371.7 1339.8,373.3 1340.4,375.0 1341.0,376.9 1341.7,378.8 1342.3,380.8 1342.9,382.9 1343.5,385.0 1344.1,387.2 1344.7,389.6 1345.2,392.0 1345.8,394.6 1346.4,397.1 1347.0,399.7 1347.5,402.3 1348.1,404.9 1348.7,407.4 1349.2,410.0 1349.7,412.5 1350.3,415.1 1350.8,417.7 1351.4,420.3 1351.9,423.1 1352.5,426.0 1353.1,428.8 1353.6,431.3 1354.2,433.8 1354.7,436.4 1355.3,439.4 1356.0,442.9 1356.8,447.0 1357.6,452.1 1358.6,458.2 1359.6,465.3 1360.8,473.1 1362.0,481.3 1363.3,489.9 1364.5,498.6 1365.8,507.1 1367.0,515.2 1368.2,523.3 1369.5,531.6 1370.8,540.1 1372.0,548.5 1373.3,556.6 1374.4,564.4 1375.5,571.7 1376.5,578.2 1377.3,583.9 1378.1,589.0 1378.7,593.6 1379.3,597.8 1379.9,601.7 1380.4,605.4 1380.9,609.2 1381.5,613.0 1382.1,616.9 1382.6,620.6 1383.2,624.3 1383.7,627.9 1384.3,631.3 1384.8,634.7 1385.3,638.0 1385.9,641.2 1386.5,644.4 1387.0,647.5 1387.6,650.5 1388.2,653.4 1388.7,656.3 1389.3,659.0 1389.9,661.6 1390.5,664.0 1391.1,666.3 1391.7,668.5 1392.3,670.6 1392.9,672.5 1393.5,674.3 1394.1,676.0 1394.8,677.6 1395.4,679.0 1396.0,680.3 1396.7,681.4 1397.3,682.3 1397.9,683.2 1398.6,683.9 1399.3,684.5 1400.1,685.0 1401.0,685.5 1402.0,685.9 1403.1,686.2 1404.2,686.5 1405.4,686.6 1406.6,686.6 1407.9,686.5 1409.2,686.3 1410.4,686.0 1411.7,685.5 1413.0,684.9 1414.4,684.1 1415.8,683.3 1417.2,682.3 1418.4,681.3 1419.6,680.2 1420.6,679.0 1421.4,677.8 1422.1,676.5 1422.6,675.1 1423.1,673.6 1423.6,672.1 1424.0,670.5 1424.5,668.8 1425.0,667.0 1425.6,665.2 1426.2,663.3 1426.8,661.3 1427.4,659.3 1428.0,657.2 1428.7,654.9 1429.3,652.5 1430.0,650.0 1430.7,647.2 1431.4,644.2 1432.2,641.0 1432.9,637.8 1433.7,634.4 1434.4,631.2 1435.2,628.0 1436.0,625.0 1436.8,622.2 1437.6,619.5 1438.3,616.9 1439.1,614.3 1439.9,611.8 1440.8,609.2 1441.6,606.6 1442.5,604.0 1443.4,601.2 1444.3,598.4 1445.3,595.5 1446.2,592.6 1447.2,589.8 1448.2,587.0 1449.2,584.4 1450.3,582.0 1451.4,579.8 1452.4,577.8 1453.5,576.0 1454.5,574.2 1455.7,572.5 1456.9,570.7 1458.1,568.9 1459.5,567.0 1461.0,564.9 1462.5,562.7 1464.2,560.5 1465.9,558.2 1467.7,556.0 1469.4,553.8 1471.2,551.8 1472.9,550.0 1474.6,548.4 1476.3,546.9 1478.1,545.5 1479.8,544.2 1481.6,543.0 1483.3,541.8 1485.1,540.8 1486.8,539.8 1488.5,538.9 1490.3,538.1 1492.0,537.5 1493.8,536.9 1495.5,536.3 1497.2,535.8 1499.0,535.2 1500.7,534.6 1502.4,533.9 1504.2,533.2 1505.9,532.5 1507.7,531.8 1509.4,531.2 1511.1,530.5 1512.9,529.9 1514.6,529.4 1516.4,528.9 1518.2,528.5 1520.0,528.1 1521.8,527.7 1523.5,527.4 1525.3,527.1 1526.9,526.9 1528.5,526.8 1530.0,526.7 1531.3,526.7 1532.6,526.7 1533.8,526.7 1535.0,526.8 1536.3,527.0 1537.5,527.3 1538.9,527.6 1540.3,528.0 1541.8,528.5 1543.2,529.1 1544.7,529.7 1546.3,530.4 1547.8,531.2 1549.4,532.0 1551.0,532.8 1552.7,533.7 1554.3,534.7 1556.1,535.8 1557.8,536.9 1559.6,538.1 1561.4,539.2 1563.2,540.4 1564.9,541.5 1566.6,542.6 1568.4,543.8 1570.2,544.9 1572.0,546.1 1573.7,547.2 1575.4,548.3 1577.1,549.3 1578.8,550.2 1580.4,551.0 1581.9,551.8 1583.4,552.6 1584.9,553.2 1586.4,553.9 1587.9,554.4 1589.4,554.9 1591.0,555.4 1592.7,555.8 1594.4,556.2 1596.1,556.5 1597.8,556.7 1599.6,556.9 1601.4,557.1 1603.2,557.2 1604.9,557.2 1606.6,557.2 1608.4,557.0 1610.1,556.9 1611.9,556.6 1613.6,556.4 1615.3,556.1 1617.1,555.7 1618.8,555.4 1620.5,555.0 1622.3,554.6 1624.0,554.2 1625.7,553.7 1627.4,553.3 1629.1,552.8 1630.9,552.3 1632.6,551.9 1634.3,551.5 1636.1,551.0 1637.8,550.5 1639.5,550.1 1641.3,549.7 1643.0,549.2 1644.8,548.8 1646.5,548.5 1648.2,548.2 1650.0,547.9 1651.7,547.5 1653.5,547.3 1655.2,547.0 1656.9,546.9 1658.7,546.7 1660.4,546.7 1662.1,546.7 1663.9,546.9 1665.7,547.0 1667.5,547.3 1669.2,547.5 1670.9,547.9 1672.6,548.2 1674.3,548.5 1675.9,548.8 1677.3,549.2 1678.8,549.6 1680.2,550.0 1681.6,550.4 1683.1,550.9 1684.7,551.4 1686.5,551.9 1688.5,552.5 1690.6,553.1 1692.8,553.8 1695.1,554.4 1697.4,555.1 1699.7,555.8 1701.9,556.5 1703.9,557.1 1705.8,557.7 1707.6,558.3 1709.4,558.9 1711.1,559.5 1712.7,560.0 1714.4,560.5 1716.1,561.0 1717.8,561.5 1719.5,561.9 1721.2,562.3 1722.9,562.7 1724.6,563.1 1726.4,563.4 1728.1,563.7 1729.9,563.9 1731.7,564.1 1733.6,564.2 1735.5,564.3 1737.4,564.4 1739.4,564.4 1741.4,564.3 1743.4,564.3 1745.3,564.2 1747.3,564.1 1749.2,564.0 1751.2,563.8 1753.1,563.6 1755.1,563.4 1757.0,563.2 1759.0,562.9 1760.9,562.6 1762.9,562.3 1764.9,562.0 1766.8,561.6 1768.8,561.1 1770.7,560.7 1772.7,560.3 1774.6,559.8 1776.6,559.3 1778.5,558.9 1780.4,558.5 1782.4,558.0 1784.3,557.6 1786.2,557.2 1788.1,556.7 1790.1,556.3 1792.1,555.8 1794.1,555.4 1796.2,555.0 1798.3,554.5 1800.5,554.0 1802.7,553.5 1804.9,553.1 1807.1,552.6 1809.3,552.3 1811.5,551.9 1813.7,551.6 1815.9,551.3 1818.0,551.1 1820.2,550.9 1822.4,550.7 1824.6,550.5 1826.7,550.3 1828.9,550.2 1831.1,550.1 1833.2,550.0 1835.4,549.9 1837.6,549.9 1839.7,549.8 1841.9,549.8 1844.0,549.8 1846.2,549.8 1848.4,549.8 1850.5,549.9 1852.7,550.0 1854.9,550.1 1857.1,550.2 1859.3,550.3 1861.4,550.4 1863.6,550.5 1865.8,550.6 1867.9,550.7 1870.1,550.9 1872.2,551.0 1874.4,551.2 1876.6,551.3 1878.7,551.5 1880.9,551.6 1883.1,551.7 1885.2,551.9 1887.4,552.0 1889.6,552.2 1891.8,552.3 1893.9,552.5 1896.1,552.6 1898.3,552.8 1900.5,553.0 1902.7,553.2 1904.8,553.4 1907.0,553.6 1909.2,553.8 1911.4,554.1 1913.5,554.3 1915.7,554.5 1917.9,554.7 1920.0,555.0 1922.2,555.2 1924.4,555.5 1926.5,555.7 1928.7,555.9 1930.8,556.1 1933.0,556.3 1935.2,556.5 1937.3,556.6 1939.5,556.8 1941.7,556.9 1943.9,557.0 1946.1,557.1 1948.2,557.1 1950.4,557.1 1952.5,557.0 1954.6,556.9 1956.7,556.7 1958.8,556.5 1960.9,556.2 1963.0,555.9 1965.3,555.7 1967.7,555.4 1970.4,555.1 1973.4,554.8 1976.6,554.4 1979.9,554.0 1983.0,553.6 1985.8,553.3 1988.2,553.0 1989.9,552.8"/>
<polyline fill="none" stroke="#0000ff" stroke-width="4.5" stroke-linejoin="round" stroke-linecap="round" points="1108.6,686.9 1120.6,686.9 1137.6,686.9 1157.9,686.9 1179.9,686.9 1202.0,686.9 1222.4,686.9 1239.7,686.9 1252.0,686.9 1259.3,686.9 1263.2,686.9 1264.4,686.9 1263.7,686.9 1261.9,686.8 1259.8,686.7 1258.2,686.5 1258.0,686.3 1258.7,686.0 1259.3,685.8 1260.0,685.6 1260.6,685.2 1261.2,684.8 1261.8,684.2 1262.4,683.3 1263.0,682.2 1263.6,680.8 1264.1,679.2 1264.7,677.4 1265.2,675.4 1265.8,673.2 1266.4,670.9 1266.9,668.5 1267.5,666.0 1268.1,663.6 1268.6,661.3 1269.1,659.0 1269.7,656.5 1270.3,653.7 1270.9,650.3 1271.7,646.2 1272.5,641.2 1273.5,635.2 1274.5,628.1 1275.7,620.4 1276.9,612.1 1278.2,603.5 1279.4,594.8 1280.7,586.3 1281.9,578.2 1283.1,570.3 1284.3,562.5 1285.5,554.6 1286.6,546.7 1287.8,538.8 1289.0,531.0 1290.2,523.1 1291.4,515.2 1292.6,507.3 1293.8,499.4 1295.0,491.5 1296.2,483.7 1297.3,475.8 1298.5,467.9 1299.7,460.0 1300.9,452.1 1302.1,444.0 1303.4,435.5 1304.6,426.9 1305.9,418.4 1307.1,410.1 1308.3,402.3 1309.4,395.3 1310.3,389.1 1311.1,383.9 1311.8,379.6 1312.4,376.0 1312.9,372.9 1313.4,370.1 1313.9,367.4 1314.4,364.8 1315.0,362.0 1315.6,359.1 1316.2,356.3 1316.8,353.6 1317.4,351.0 1318.0,348.5 1318.6,346.2 1319.2,343.9 1319.8,341.8 1320.4,339.8 1321.0,337.9 1321.6,336.1 1322.2,334.4 1322.7,332.9 1323.3,331.4 1323.9,330.2 1324.5,329.0 1325.1,328.0 1325.7,327.1 1326.3,326.3 1326.8,325.7 1327.4,325.2 1328.0,324.8 1328.6,324.6 1329.2,324.5 1329.8,324.6 1330.4,324.8 1331.0,325.2 1331.6,325.7 1332.2,326.3 1332.8,327.1 1333.4,328.0 1334.0,329.0 1334.6,330.2 1335.2,331.4 1335.8,332.9 1336.4,334.4 1336.9,336.1 1337.5,337.9 1338.1,339.8 1338.7,341.8 1339.3,343.9 1339.9,346.2 1340.5,348.5 1341.1,351.0 1341.7,353.6 1342.3,356.3 1342.9,359.1 1343.5,362.0 1344.1,364.8 1344.5,367.4 1345.0,370.1 1345.5,372.9 1346.0,376.0 1346.6,379.6 1347.3,383.9 1348.1,389.1 1349.1,395.3 1350.1,402.3 1351.3,410.1 1352.5,418.3 1353.8,426.9 1355.1,435.5 1356.4,444.0 1357.6,452.1 1358.8,460.0 1360.0,467.9 1361.1,475.8 1362.3,483.7 1363.5,491.5 1364.6,499.4 1365.8,507.3 1367.0,515.2 1368.2,523.3 1369.5,531.6 1370.8,540.1 1372.0,548.5 1373.3,556.6 1374.4,564.4 1375.5,571.7 1376.5,578.2 1377.3,583.9 1378.1,589.0 1378.7,593.6 1379.3,597.8 1379.9,601.7 1380.4,605.4 1380.9,609.2 1381.5,613.0 1382.1,616.9 1382.6,620.6 1383.2,624.3 1383.7,627.9 1384.3,631.3 1384.8,634.7 1385.3,638.0 1385.9,641.2 1386.5,644.4 1387.0,647.5 1387.6,650.5 1388.2,653.4 1388.7,656.3 1389.3,659.0 1389.9,661.6 1390.5,664.0 1391.1,666.3 1391.7,668.5 1392.3,670.6 1392.9,672.5 1393.5,674.3 1394.1,676.0 1394.8,677.6 1395.4,679.0 1396.1,680.3 1396.7,681.4 1397.4,682.3 1398.1,683.1 1398.8,683.9 1399.5,684.5 1400.2,685.0 1401.0,685.5 1401.8,685.9 1402.7,686.2 1403.6,686.3 1404.5,686.4 1405.5,686.4 1406.4,686.4 1407.2,686.4 1408.0,686.3 1408.7,686.2 1409.4,686.1 1410.0,685.9 1410.6,685.7 1411.2,685.5 1411.8,685.2 1412.4,684.9 1413.0,684.5 1413.6,684.1 1414.3,683.7 1414.9,683.3 1415.5,682.8 1416.1,682.2 1416.7,681.6 1417.3,680.8 1417.9,680.0 1418.4,679.1 1418.9,678.2 1419.3,677.3 1419.8,676.3 1420.2,675.1 1420.7,673.7 1421.3,672.0 1422.0,670.0 1422.8,667.7 1423.7,665.1 1424.6,662.2 1425.6,659.1 1426.7,655.8 1427.8,652.4 1428.8,648.8 1429.9,645.0 1431.0,640.9 1432.1,636.5 1433.2,631.8 1434.3,626.9 1435.5,622.1 1436.7,617.4 1437.8,613.0 1439.0,609.0 1440.2,605.4 1441.3,601.9 1442.5,598.7 1443.7,595.7 1444.9,592.8 1446.1,590.1 1447.3,587.5 1448.6,585.0 1449.9,582.7 1451.2,580.6 1452.5,578.7 1453.8,576.9 1455.2,575.2 1456.6,573.5 1458.0,571.8 1459.5,570.0 1461.1,568.1 1462.7,566.1 1464.3,564.1 1466.0,562.1 1467.7,560.2 1469.5,558.3 1471.2,556.6 1472.9,555.0 1474.6,553.6 1476.3,552.2 1478.1,551.0 1479.8,549.9 1481.6,548.9 1483.3,547.9 1485.1,546.9 1486.8,546.0 1488.5,545.1 1490.3,544.4 1492.0,543.7 1493.8,543.0 1495.5,542.4 1497.2,541.8 1499.0,541.1 1500.7,540.5 1502.4,539.8 1504.2,539.2 1505.9,538.5 1507.7,537.8 1509.4,537.2 1511.1,536.6 1512.9,536.0 1514.6,535.5 1516.3,535.0 1518.1,534.6 1519.9,534.1 1521.7,533.7 1523.4,533.4 1525.2,533.1 1526.8,532.9 1528.5,532.8 1530.1,532.8 1531.6,532.8 1533.2,532.9 1534.7,533.1 1536.1,533.4 1537.6,533.7 1539.1,534.1 1540.6,534.6 1542.1,535.2 1543.6,536.0 1545.1,536.8 1546.6,537.7 1548.1,538.7 1549.6,539.6 1551.2,540.6 1552.8,541.5 1554.5,542.4 1556.2,543.3 1557.9,544.2 1559.6,545.1 1561.4,546.0 1563.2,546.9 1565.0,547.7 1566.7,548.5 1568.4,549.3 1570.2,550.1 1571.9,550.9 1573.7,551.6 1575.4,552.3 1577.1,552.9 1578.9,553.4 1580.6,553.7 1582.3,553.8 1584.1,553.8 1585.8,553.7 1587.5,553.5 1589.2,553.1 1590.9,552.8 1592.7,552.3 1594.4,551.9 1596.1,551.4 1597.9,550.8 1599.6,550.2 1601.3,549.5 1603.1,548.8 1604.8,548.1 1606.6,547.4 1608.3,546.7 1610.0,546.1 1611.8,545.4 1613.5,544.8 1615.2,544.1 1617.0,543.5 1618.7,542.8 1620.5,542.2 1622.2,541.5 1623.9,540.8 1625.7,540.1 1627.4,539.4 1629.2,538.6 1630.9,537.9 1632.6,537.3 1634.4,536.7 1636.1,536.3 1637.8,536.0 1639.6,535.7 1641.3,535.5 1643.0,535.3 1644.8,535.2 1646.5,535.2 1648.3,535.3 1650.0,535.5 1651.7,535.8 1653.5,536.1 1655.2,536.5 1657.0,537.1 1658.7,537.6 1660.4,538.3 1662.2,539.0 1663.9,539.8 1665.6,540.7 1667.4,541.6 1669.1,542.7 1670.9,543.8 1672.6,544.9 1674.3,546.1 1676.1,547.3 1677.8,548.5 1679.5,549.7 1681.3,551.0 1683.1,552.4 1684.9,553.7 1686.6,555.1 1688.3,556.4 1690.0,557.7 1691.7,558.9 1693.3,560.1 1694.8,561.3 1696.3,562.4 1697.8,563.5 1699.3,564.6 1700.8,565.6 1702.3,566.6 1703.9,567.5 1705.5,568.3 1707.2,569.1 1708.8,569.9 1710.5,570.6 1712.3,571.2 1714.0,571.8 1715.9,572.3 1717.8,572.8 1719.8,573.2 1721.9,573.6 1724.1,573.9 1726.3,574.2 1728.6,574.4 1730.8,574.5 1733.0,574.6 1735.1,574.5 1737.1,574.3 1739.1,574.0 1741.1,573.6 1743.1,573.2 1745.0,572.7 1746.9,572.1 1748.9,571.6 1750.8,571.0 1752.8,570.5 1754.7,569.9 1756.7,569.3 1758.6,568.7 1760.6,568.1 1762.5,567.4 1764.5,566.6 1766.4,565.8 1768.4,564.9 1770.3,563.8 1772.2,562.7 1774.2,561.5 1776.2,560.3 1778.1,559.2 1780.1,558.1 1782.0,557.1 1783.9,556.2 1785.9,555.4 1787.8,554.5 1789.7,553.8 1791.6,553.0 1793.6,552.4 1795.6,551.7 1797.6,551.1 1799.7,550.5 1801.8,550.0 1804.0,549.5 1806.2,549.0 1808.4,548.5 1810.6,548.2 1812.8,547.9 1815.0,547.6 1817.2,547.4 1819.3,547.3 1821.5,547.3 1823.6,547.3 1825.8,547.4 1828.0,547.5 1830.1,547.5 1832.3,547.6 1834.5,547.7 1836.6,547.8 1838.8,547.9 1841.0,548.0 1843.2,548.1 1845.3,548.2 1847.5,548.3 1849.7,548.4 1851.9,548.5 1854.1,548.5 1856.2,548.6 1858.4,548.6 1860.6,548.7 1862.8,548.7 1864.9,548.7 1867.1,548.8 1869.3,548.8 1871.4,548.9 1873.6,548.9 1875.7,549.0 1877.9,549.0 1880.1,549.1 1882.2,549.2 1884.4,549.3 1886.6,549.5 1888.7,549.6 1890.9,549.9 1893.1,550.1 1895.3,550.3 1897.5,550.6 1899.6,550.8 1901.8,551.1 1904.0,551.4 1906.1,551.6 1908.3,551.9 1910.5,552.2 1912.6,552.5 1914.8,552.8 1916.9,553.1 1919.1,553.3 1921.3,553.5 1923.4,553.7 1925.6,553.9 1927.8,554.0 1930.0,554.1 1932.2,554.3 1934.3,554.4 1936.5,554.5 1938.7,554.6 1940.8,554.7 1943.0,554.8 1945.1,554.9 1947.3,554.9 1949.5,555.0 1951.6,555.0 1953.8,555.0 1956.0,555.0 1958.1,555.0 1960.3,554.9 1962.4,554.8 1964.6,554.8 1966.8,554.7 1969.0,554.6 1971.2,554.5 1973.6,554.4 1976.2,554.3 1978.9,554.2 1981.6,554.1 1984.2,554.0 1986.5,553.9 1988.4,553.8 1989.9,553.7"/>
<polygon fill="#000" fill-opacity="0.175" points="1108.6,686.9 1108.6,686.9 1280.0,686.9 1284.8,683.0 1289.4,673.8 1294.1,650.6 1297.2,619.8 1300.2,604.3 1304.1,596.6 1307.2,527.2 1308.7,450.0 1309.5,343.5 1311.3,222.3 1311.1,210.6 1312.2,122.8 1318.6,109.8 1321.0,60.0 1323.9,25.5 1326.0,60.0 1328.8,109.8 1334.5,122.8 1336.0,210.6 1336.9,222.3 1338.0,343.5 1340.3,460.0 1341.9,527.2 1345.0,604.3 1348.1,650.6 1354.3,669.1 1365.1,670.7 1374.3,672.2 1379.0,683.0 1383.6,686.9 1420.0,686.9 1434.7,685.6 1452.1,678.7 1469.4,673.5 1483.3,666.5 1490.3,673.5 1495.5,663.1 1500.7,649.2 1509.4,628.3 1514.6,593.6 1519.8,558.9 1525.0,520.7 1528.5,494.7 1531.9,492.9 1535.4,506.8 1540.6,532.8 1547.6,555.4 1552.8,569.3 1563.2,572.8 1573.6,572.8 1582.3,567.6 1587.5,558.9 1592.7,541.5 1597.9,531.1 1603.1,541.5 1610.1,534.6 1617.0,525.9 1624.0,531.1 1630.9,517.2 1637.8,513.8 1643.1,520.7 1648.3,498.1 1653.5,444.3 1660.4,444.3 1669.1,433.9 1674.3,437.4 1681.3,454.7 1686.5,480.8 1690.0,494.6 1693.5,513.7 1696.9,541.5 1700.4,562.3 1705.6,572.8 1710.8,583.2 1716.0,586.6 1721.2,584.9 1724.7,602.3 1728.2,610.9 1735.1,609.2 1742.1,612.7 1749.0,617.9 1756.0,621.4 1762.9,607.5 1769.8,600.5 1776.8,591.8 1783.7,584.9 1790.7,583.2 1797.6,586.6 1804.6,576.2 1811.5,571.0 1818.4,572.8 1825.4,569.3 1832.3,571.0 1839.3,572.8 1844.5,562.3 1849.7,545.0 1854.9,538.0 1860.1,531.1 1867.1,538.0 1874.0,545.0 1880.9,548.4 1887.9,541.5 1894.8,543.2 1901.8,539.8 1908.7,548.4 1915.7,551.9 1922.6,551.9 1929.5,546.7 1936.5,541.5 1943.4,543.2 1950.4,548.4 1957.3,551.9 1964.3,553.7 1971.2,558.9 1978.1,564.1 1985.1,567.5 1989.9,569.3 1989.9,686.9"/>
<polygon fill="#000" fill-opacity="0.175" points="1108.6,686.9 1108.6,686.9 1265.0,686.9 1272.6,685.5 1275.6,684.6 1281.7,678.4 1286.3,668.0 1291.8,654.8 1295.1,621.9 1297.3,603.3 1300.2,596.6 1303.3,581.2 1305.6,542.6 1308.0,496.3 1311.0,450.0 1312.6,420.7 1315.6,374.4 1318.7,328.0 1320.3,281.7 1323.4,222.3 1327.5,210.6 1330.0,192.0 1333.0,170.0 1336.5,155.0 1339.5,148.0 1342.5,151.0 1345.0,163.0 1347.5,178.0 1350.0,194.0 1352.5,210.6 1354.2,222.3 1355.8,266.3 1358.9,328.0 1362.0,374.4 1365.0,420.7 1367.5,455.0 1371.2,496.3 1374.3,542.6 1377.4,573.5 1382.0,619.8 1389.8,650.6 1399.0,666.0 1409.8,675.3 1420.0,681.5 1434.7,682.2 1448.6,673.5 1459.0,664.8 1469.4,652.6 1478.1,638.8 1485.1,624.9 1490.3,604.0 1497.2,586.7 1504.2,572.8 1511.1,553.7 1518.1,538.1 1525.0,524.2 1530.2,498.1 1535.4,482.5 1542.4,473.8 1551.0,470.3 1559.7,470.3 1566.7,479.0 1571.9,489.4 1577.1,503.3 1582.3,520.7 1587.5,534.6 1592.7,546.7 1599.7,557.2 1608.3,564.1 1617.0,567.6 1627.4,567.6 1637.8,562.4 1646.5,555.4 1655.2,545.0 1663.9,527.6 1674.3,510.3 1684.7,505.1 1690.0,501.6 1696.9,510.3 1703.9,520.7 1710.8,534.6 1717.8,550.2 1723.0,567.5 1728.2,584.9 1733.4,595.3 1740.3,604.0 1747.3,610.9 1754.2,616.2 1761.2,616.2 1768.1,612.7 1775.1,605.7 1782.0,600.5 1788.9,593.6 1795.9,586.6 1802.8,576.2 1811.5,567.5 1820.2,557.1 1828.9,550.2 1837.5,543.2 1846.2,539.8 1854.9,536.3 1863.6,533.7 1872.3,532.0 1880.9,531.1 1889.6,531.1 1898.3,532.0 1907.0,532.0 1915.7,535.4 1924.3,538.0 1933.0,541.5 1941.7,545.0 1950.4,548.4 1959.0,551.9 1967.7,557.1 1976.4,557.1 1985.1,555.4 1989.9,555.4 1989.9,686.9"/>
<polyline fill="none" stroke="rgb(0,135,0)" stroke-opacity="0.68" stroke-width="3.2" stroke-linejoin="round" points="1108.6,686.9 1280.0,686.9 1284.8,683.0 1289.4,673.8 1294.1,650.6 1297.2,619.8 1300.2,604.3 1304.1,596.6 1307.2,527.2 1308.7,450.0 1309.5,343.5 1311.3,222.3 1311.1,210.6 1312.2,122.8 1318.6,109.8 1321.0,60.0 1323.9,25.5 1326.0,60.0 1328.8,109.8 1334.5,122.8 1336.0,210.6 1336.9,222.3 1338.0,343.5 1340.3,460.0 1341.9,527.2 1345.0,604.3 1348.1,650.6 1354.3,669.1 1365.1,670.7 1374.3,672.2 1379.0,683.0 1383.6,686.9 1420.0,686.9 1434.7,685.6 1452.1,678.7 1469.4,673.5 1483.3,666.5 1490.3,673.5 1495.5,663.1 1500.7,649.2 1509.4,628.3 1514.6,593.6 1519.8,558.9 1525.0,520.7 1528.5,494.7 1531.9,492.9 1535.4,506.8 1540.6,532.8 1547.6,555.4 1552.8,569.3 1563.2,572.8 1573.6,572.8 1582.3,567.6 1587.5,558.9 1592.7,541.5 1597.9,531.1 1603.1,541.5 1610.1,534.6 1617.0,525.9 1624.0,531.1 1630.9,517.2 1637.8,513.8 1643.1,520.7 1648.3,498.1 1653.5,444.3 1660.4,444.3 1669.1,433.9 1674.3,437.4 1681.3,454.7 1686.5,480.8 1690.0,494.6 1693.5,513.7 1696.9,541.5 1700.4,562.3 1705.6,572.8 1710.8,583.2 1716.0,586.6 1721.2,584.9 1724.7,602.3 1728.2,610.9 1735.1,609.2 1742.1,612.7 1749.0,617.9 1756.0,621.4 1762.9,607.5 1769.8,600.5 1776.8,591.8 1783.7,584.9 1790.7,583.2 1797.6,586.6 1804.6,576.2 1811.5,571.0 1818.4,572.8 1825.4,569.3 1832.3,571.0 1839.3,572.8 1844.5,562.3 1849.7,545.0 1854.9,538.0 1860.1,531.1 1867.1,538.0 1874.0,545.0 1880.9,548.4 1887.9,541.5 1894.8,543.2 1901.8,539.8 1908.7,548.4 1915.7,551.9 1922.6,551.9 1929.5,546.7 1936.5,541.5 1943.4,543.2 1950.4,548.4 1957.3,551.9 1964.3,553.7 1971.2,558.9 1978.1,564.1 1985.1,567.5 1989.9,569.3"/>
<g fill="rgb(0,140,0)" fill-opacity="0.48"><polygon points="1101.1,686.9 1116.1,678.1 1116.1,695.7"/><polygon points="1114.3,686.9 1129.3,678.1 1129.3,695.7"/><polygon points="1127.5,686.9 1142.5,678.1 1142.5,695.7"/><polygon points="1140.7,686.9 1155.7,678.1 1155.7,695.7"/><polygon points="1153.9,686.9 1168.9,678.1 1168.9,695.7"/><polygon points="1167.1,686.9 1182.1,678.1 1182.1,695.7"/><polygon points="1180.3,686.9 1195.3,678.1 1195.3,695.7"/><polygon points="1193.5,686.9 1208.5,678.1 1208.5,695.7"/><polygon points="1206.7,686.9 1221.7,678.1 1221.7,695.7"/><polygon points="1219.9,686.9 1234.9,678.1 1234.9,695.7"/><polygon points="1233.1,686.9 1248.1,678.1 1248.1,695.7"/><polygon points="1246.3,686.9 1261.3,678.1 1261.3,695.7"/><polygon points="1259.5,686.9 1274.5,678.1 1274.5,695.7"/><polygon points="1272.7,686.7 1287.7,677.9 1287.7,695.5"/><polygon points="1285.2,657.7 1300.2,648.9 1300.2,666.5"/><polygon points="1295.6,598.6 1310.6,589.8 1310.6,607.4"/><polygon points="1300.2,503.7 1315.2,494.9 1315.2,512.5"/><polygon points="1301.6,398.9 1316.6,390.1 1316.6,407.7"/><polygon points="1302.7,293.7 1317.7,284.9 1317.7,302.5"/><polygon points="1303.9,188.8 1318.9,180.0 1318.9,197.6"/><polygon points="1316.2,27.9 1331.2,19.1 1331.2,36.7"/><polygon points="1328.1,190.0 1343.1,181.2 1343.1,198.8"/><polygon points="1330.0,293.2 1345.0,284.4 1345.0,302.0"/><polygon points="1331.6,398.0 1346.6,389.2 1346.6,406.8"/><polygon points="1333.8,502.1 1348.8,493.3 1348.8,510.9"/><polygon points="1337.5,603.4 1352.5,594.6 1352.5,612.2"/><polygon points="1346.7,668.8 1361.7,660.0 1361.7,677.6"/><polygon points="1359.9,671.1 1374.9,662.3 1374.9,679.9"/><polygon points="1372.9,684.2 1387.9,675.4 1387.9,693.0"/><polygon points="1386.1,686.9 1401.1,678.1 1401.1,695.7"/><polygon points="1399.3,686.9 1414.3,678.1 1414.3,695.7"/><polygon points="1412.5,686.9 1427.5,678.1 1427.5,695.7"/><polygon points="1425.7,685.7 1440.7,676.9 1440.7,694.5"/><polygon points="1438.9,681.0 1453.9,672.2 1453.9,689.8"/><polygon points="1452.0,676.5 1467.0,667.7 1467.0,685.3"/><polygon points="1465.2,671.8 1480.2,663.0 1480.2,680.6"/><polygon points="1478.4,669.1 1493.4,660.3 1493.4,677.9"/><polygon points="1491.2,654.5 1506.2,645.7 1506.2,663.3"/><polygon points="1503.5,617.9 1518.5,609.1 1518.5,626.7"/><polygon points="1513.5,549.7 1528.5,540.9 1528.5,558.5"/><polygon points="1524.0,493.1 1539.0,484.3 1539.0,501.9"/><polygon points="1535.7,541.2 1550.7,532.4 1550.7,550.0"/><polygon points="1548.3,570.3 1563.3,561.5 1563.3,579.1"/><polygon points="1561.5,572.8 1576.5,564.0 1576.5,581.6"/><polygon points="1574.6,567.7 1589.6,558.9 1589.6,576.5"/><polygon points="1587.2,537.4 1602.2,528.6 1602.2,546.2"/><polygon points="1600.1,537.0 1615.1,528.2 1615.1,545.8"/><polygon points="1613.2,528.7 1628.2,519.9 1628.2,537.5"/><polygon points="1626.2,515.8 1641.2,507.0 1641.2,524.6"/><polygon points="1638.9,506.5 1653.9,497.7 1653.9,515.3"/><polygon points="1648.5,444.3 1663.5,435.5 1663.5,453.1"/><polygon points="1661.6,433.9 1676.6,425.1 1676.6,442.7"/><polygon points="1674.3,457.5 1689.3,448.7 1689.3,466.3"/><polygon points="1685.6,511.8 1700.6,503.0 1700.6,520.6"/><polygon points="1696.3,569.2 1711.3,560.4 1711.3,578.0"/><polygon points="1709.3,586.3 1724.3,577.5 1724.3,595.1"/><polygon points="1721.7,610.6 1736.7,601.8 1736.7,619.4"/><polygon points="1734.9,612.9 1749.9,604.1 1749.9,621.7"/><polygon points="1748.1,621.2 1763.1,612.4 1763.1,630.0"/><polygon points="1761.0,601.8 1776.0,593.0 1776.0,610.6"/><polygon points="1774.1,587.0 1789.1,578.2 1789.1,595.8"/><polygon points="1787.2,585.2 1802.2,576.4 1802.2,594.0"/><polygon points="1800.3,573.8 1815.3,565.0 1815.3,582.6"/><polygon points="1813.5,571.5 1828.5,562.7 1828.5,580.3"/><polygon points="1826.7,571.5 1841.7,562.7 1841.7,580.3"/><polygon points="1839.5,554.0 1854.5,545.2 1854.5,562.8"/><polygon points="1852.3,531.5 1867.3,522.7 1867.3,540.3"/><polygon points="1865.4,543.9 1880.4,535.1 1880.4,552.7"/><polygon points="1878.6,543.3 1893.6,534.5 1893.6,552.1"/><polygon points="1891.7,541.0 1906.7,532.2 1906.7,549.8"/><polygon points="1904.8,550.2 1919.8,541.4 1919.8,559.0"/><polygon points="1918.0,549.7 1933.0,540.9 1933.0,558.5"/><polygon points="1931.2,542.0 1946.2,533.2 1946.2,550.8"/><polygon points="1944.3,549.1 1959.3,540.3 1959.3,557.9"/><polygon points="1957.5,554.2 1972.5,545.4 1972.5,563.0"/><polygon points="1970.7,564.1 1985.7,555.3 1985.7,572.9"/></g>
<polyline fill="none" stroke="rgb(243,140,40)" stroke-opacity="0.8" stroke-width="3.2" stroke-linejoin="round" points="1108.6,686.9 1265.0,686.9 1272.6,685.5 1275.6,684.6 1281.7,678.4 1286.3,668.0 1291.8,654.8 1295.1,621.9 1297.3,603.3 1300.2,596.6 1303.3,581.2 1305.6,542.6 1308.0,496.3 1311.0,450.0 1312.6,420.7 1315.6,374.4 1318.7,328.0 1320.3,281.7 1323.4,222.3 1327.5,210.6 1330.0,192.0 1333.0,170.0 1336.5,155.0 1339.5,148.0 1342.5,151.0 1345.0,163.0 1347.5,178.0 1350.0,194.0 1352.5,210.6 1354.2,222.3 1355.8,266.3 1358.9,328.0 1362.0,374.4 1365.0,420.7 1367.5,455.0 1371.2,496.3 1374.3,542.6 1377.4,573.5 1382.0,619.8 1389.8,650.6 1399.0,666.0 1409.8,675.3 1420.0,681.5 1434.7,682.2 1448.6,673.5 1459.0,664.8 1469.4,652.6 1478.1,638.8 1485.1,624.9 1490.3,604.0 1497.2,586.7 1504.2,572.8 1511.1,553.7 1518.1,538.1 1525.0,524.2 1530.2,498.1 1535.4,482.5 1542.4,473.8 1551.0,470.3 1559.7,470.3 1566.7,479.0 1571.9,489.4 1577.1,503.3 1582.3,520.7 1587.5,534.6 1592.7,546.7 1599.7,557.2 1608.3,564.1 1617.0,567.6 1627.4,567.6 1637.8,562.4 1646.5,555.4 1655.2,545.0 1663.9,527.6 1674.3,510.3 1684.7,505.1 1690.0,501.6 1696.9,510.3 1703.9,520.7 1710.8,534.6 1717.8,550.2 1723.0,567.5 1728.2,584.9 1733.4,595.3 1740.3,604.0 1747.3,610.9 1754.2,616.2 1761.2,616.2 1768.1,612.7 1775.1,605.7 1782.0,600.5 1788.9,593.6 1795.9,586.6 1802.8,576.2 1811.5,567.5 1820.2,557.1 1828.9,550.2 1837.5,543.2 1846.2,539.8 1854.9,536.3 1863.6,533.7 1872.3,532.0 1880.9,531.1 1889.6,531.1 1898.3,532.0 1907.0,532.0 1915.7,535.4 1924.3,538.0 1933.0,541.5 1941.7,545.0 1950.4,548.4 1959.0,551.9 1967.7,557.1 1976.4,557.1 1985.1,555.4 1989.9,555.4"/>
<g fill="rgb(250,150,30)" fill-opacity="0.55"><polygon points="1289.5,677.8 1274.5,669.0 1274.5,686.6"/><polygon points="1301.6,631.9 1286.6,623.1 1286.6,640.7"/><polygon points="1310.2,584.3 1295.2,575.5 1295.2,593.1"/><polygon points="1313.5,535.1 1298.5,526.3 1298.5,543.9"/><polygon points="1316.2,485.8 1301.2,477.0 1301.2,494.6"/><polygon points="1319.2,436.6 1304.2,427.8 1304.2,445.4"/><polygon points="1322.3,387.3 1307.3,378.5 1307.3,396.1"/><polygon points="1325.5,338.1 1310.5,329.3 1310.5,346.9"/><polygon points="1327.6,288.8 1312.6,280.0 1312.6,297.6"/><polygon points="1330.0,239.5 1315.0,230.7 1315.0,248.3"/><polygon points="1337.6,191.6 1322.6,182.8 1322.6,200.4"/><polygon points="1349.3,150.3 1334.3,141.5 1334.3,159.1"/><polygon points="1358.1,198.1 1343.1,189.3 1343.1,206.9"/><polygon points="1362.6,247.0 1347.6,238.2 1347.6,255.8"/><polygon points="1364.8,296.3 1349.8,287.5 1349.8,305.1"/><polygon points="1367.6,345.6 1352.6,336.8 1352.6,354.4"/><polygon points="1370.8,394.8 1355.8,386.0 1355.8,403.6"/><polygon points="1374.2,444.0 1359.2,435.2 1359.2,452.8"/><polygon points="1378.4,493.1 1363.4,484.3 1363.4,501.9"/><polygon points="1381.8,542.3 1366.8,533.5 1366.8,551.1"/><polygon points="1386.7,591.3 1371.7,582.5 1371.7,600.1"/><polygon points="1394.5,639.4 1379.5,630.6 1379.5,648.2"/><polygon points="1418.2,675.9 1403.2,667.1 1403.2,684.7"/><polygon points="1453.9,674.9 1438.9,666.1 1438.9,683.7"/><polygon points="1482.8,643.3 1467.8,634.5 1467.8,652.1"/><polygon points="1499.6,599.6 1484.6,590.8 1484.6,608.4"/><polygon points="1517.7,556.3 1502.7,547.5 1502.7,565.1"/><polygon points="1534.8,512.6 1519.8,503.8 1519.8,521.4"/><polygon points="1553.4,472.4 1538.4,463.6 1538.4,481.2"/><polygon points="1581.5,495.0 1566.5,486.2 1566.5,503.8"/><polygon points="1597.3,539.9 1582.3,531.1 1582.3,548.7"/><polygon points="1626.6,567.6 1611.6,558.8 1611.6,576.4"/><polygon points="1660.1,548.1 1645.1,539.3 1645.1,556.9"/><polygon points="1683.3,509.5 1668.3,500.7 1668.3,518.3"/><polygon points="1712.6,523.2 1697.6,514.4 1697.6,532.0"/><polygon points="1730.3,566.8 1715.3,558.0 1715.3,575.6"/><polygon points="1750.9,607.0 1735.9,598.2 1735.9,615.8"/><polygon points="1784.2,604.5 1769.2,595.7 1769.2,613.3"/><polygon points="1813.3,573.2 1798.3,564.4 1798.3,582.0"/><polygon points="1843.8,544.1 1828.8,535.3 1828.8,552.9"/><polygon points="1880.5,531.9 1865.5,523.1 1865.5,540.7"/><polygon points="1918.3,533.5 1903.3,524.7 1903.3,542.3"/><polygon points="1954.8,547.2 1939.8,538.4 1939.8,556.0"/><polygon points="1991.3,555.7 1976.3,546.9 1976.3,564.5"/></g>
<rect x="1108.6" y="109.8" width="881.3000000000002" height="13.0" fill="#fff"/>
<rect x="1108.6" y="210.6" width="881.3000000000002" height="12.5" fill="#fff"/>
</g>
<line x1="1108.6" y1="14.5" x2="1108.6" y2="109.8" stroke="#000" stroke-width="2.2"/>
<line x1="1989.9" y1="14.5" x2="1989.9" y2="109.8" stroke="#000" stroke-width="2.2"/>
<line x1="1108.6" y1="122.8" x2="1108.6" y2="210.6" stroke="#000" stroke-width="2.2"/>
<line x1="1989.9" y1="122.8" x2="1989.9" y2="210.6" stroke="#000" stroke-width="2.2"/>
<line x1="1108.6" y1="223.1" x2="1108.6" y2="686.9" stroke="#000" stroke-width="2.2"/>
<line x1="1989.9" y1="223.1" x2="1989.9" y2="686.9" stroke="#000" stroke-width="2.2"/>
<line x1="1107.5" y1="14.5" x2="1991.0" y2="14.5" stroke="#000" stroke-width="2.2"/>
<line x1="1107.5" y1="686.9" x2="1991.0" y2="686.9" stroke="#000" stroke-width="2.2"/>
<line x1="1096.6" y1="116.0" x2="1121.1" y2="104.4" stroke="#000" stroke-width="2.2" stroke-linecap="round"/>
<line x1="1977.9" y1="116.0" x2="2002.4" y2="104.4" stroke="#000" stroke-width="2.2" stroke-linecap="round"/>
<line x1="1096.6" y1="127.6" x2="1121.1" y2="116.0" stroke="#000" stroke-width="2.2" stroke-linecap="round"/>
<line x1="1977.9" y1="127.6" x2="2002.4" y2="116.0" stroke="#000" stroke-width="2.2" stroke-linecap="round"/>
<line x1="1096.6" y1="216.7" x2="1121.1" y2="205.09999999999997" stroke="#000" stroke-width="2.2" stroke-linecap="round"/>
<line x1="1977.9" y1="216.7" x2="2002.4" y2="205.09999999999997" stroke="#000" stroke-width="2.2" stroke-linecap="round"/>
<line x1="1096.6" y1="228.3" x2="1121.1" y2="216.7" stroke="#000" stroke-width="2.2" stroke-linecap="round"/>
<line x1="1977.9" y1="228.3" x2="2002.4" y2="216.7" stroke="#000" stroke-width="2.2" stroke-linecap="round"/>
<text x="1108.6" y="719.9" font-size="26.5" text-anchor="middle">0</text>
<line x1="1138.0" y1="686.9" x2="1138.0" y2="679.9" stroke="#000" stroke-width="2"/>
<line x1="1138.0" y1="14.5" x2="1138.0" y2="21.5" stroke="#000" stroke-width="2"/>
<line x1="1167.4" y1="686.9" x2="1167.4" y2="679.9" stroke="#000" stroke-width="2"/>
<line x1="1167.4" y1="14.5" x2="1167.4" y2="21.5" stroke="#000" stroke-width="2"/>
<line x1="1196.7" y1="686.9" x2="1196.7" y2="679.9" stroke="#000" stroke-width="2"/>
<line x1="1196.7" y1="14.5" x2="1196.7" y2="21.5" stroke="#000" stroke-width="2"/>
<line x1="1226.1" y1="686.9" x2="1226.1" y2="679.9" stroke="#000" stroke-width="2"/>
<line x1="1226.1" y1="14.5" x2="1226.1" y2="21.5" stroke="#000" stroke-width="2"/>
<line x1="1255.5" y1="686.9" x2="1255.5" y2="674.9" stroke="#000" stroke-width="2"/>
<line x1="1255.5" y1="14.5" x2="1255.5" y2="26.5" stroke="#000" stroke-width="2"/>
<text x="1255.5" y="719.9" font-size="26.5" text-anchor="middle">1</text>
<line x1="1284.9" y1="686.9" x2="1284.9" y2="679.9" stroke="#000" stroke-width="2"/>
<line x1="1284.9" y1="14.5" x2="1284.9" y2="21.5" stroke="#000" stroke-width="2"/>
<line x1="1314.2" y1="686.9" x2="1314.2" y2="679.9" stroke="#000" stroke-width="2"/>
<line x1="1314.2" y1="14.5" x2="1314.2" y2="21.5" stroke="#000" stroke-width="2"/>
<line x1="1343.6" y1="686.9" x2="1343.6" y2="679.9" stroke="#000" stroke-width="2"/>
<line x1="1343.6" y1="14.5" x2="1343.6" y2="21.5" stroke="#000" stroke-width="2"/>
<line x1="1373.0" y1="686.9" x2="1373.0" y2="679.9" stroke="#000" stroke-width="2"/>
<line x1="1373.0" y1="14.5" x2="1373.0" y2="21.5" stroke="#000" stroke-width="2"/>
<line x1="1402.4" y1="686.9" x2="1402.4" y2="674.9" stroke="#000" stroke-width="2"/>
<line x1="1402.4" y1="14.5" x2="1402.4" y2="26.5" stroke="#000" stroke-width="2"/>
<text x="1402.4" y="719.9" font-size="26.5" text-anchor="middle">2</text>
<line x1="1431.7" y1="686.9" x2="1431.7" y2="679.9" stroke="#000" stroke-width="2"/>
<line x1="1431.7" y1="14.5" x2="1431.7" y2="21.5" stroke="#000" stroke-width="2"/>
<line x1="1461.1" y1="686.9" x2="1461.1" y2="679.9" stroke="#000" stroke-width="2"/>
<line x1="1461.1" y1="14.5" x2="1461.1" y2="21.5" stroke="#000" stroke-width="2"/>
<line x1="1490.5" y1="686.9" x2="1490.5" y2="679.9" stroke="#000" stroke-width="2"/>
<line x1="1490.5" y1="14.5" x2="1490.5" y2="21.5" stroke="#000" stroke-width="2"/>
<line x1="1519.9" y1="686.9" x2="1519.9" y2="679.9" stroke="#000" stroke-width="2"/>
<line x1="1519.9" y1="14.5" x2="1519.9" y2="21.5" stroke="#000" stroke-width="2"/>
<line x1="1549.2" y1="686.9" x2="1549.2" y2="674.9" stroke="#000" stroke-width="2"/>
<line x1="1549.2" y1="14.5" x2="1549.2" y2="26.5" stroke="#000" stroke-width="2"/>
<text x="1549.2" y="719.9" font-size="26.5" text-anchor="middle">3</text>
<line x1="1578.6" y1="686.9" x2="1578.6" y2="679.9" stroke="#000" stroke-width="2"/>
<line x1="1578.6" y1="14.5" x2="1578.6" y2="21.5" stroke="#000" stroke-width="2"/>
<line x1="1608.0" y1="686.9" x2="1608.0" y2="679.9" stroke="#000" stroke-width="2"/>
<line x1="1608.0" y1="14.5" x2="1608.0" y2="21.5" stroke="#000" stroke-width="2"/>
<line x1="1637.4" y1="686.9" x2="1637.4" y2="679.9" stroke="#000" stroke-width="2"/>
<line x1="1637.4" y1="14.5" x2="1637.4" y2="21.5" stroke="#000" stroke-width="2"/>
<line x1="1666.7" y1="686.9" x2="1666.7" y2="679.9" stroke="#000" stroke-width="2"/>
<line x1="1666.7" y1="14.5" x2="1666.7" y2="21.5" stroke="#000" stroke-width="2"/>
<line x1="1696.1" y1="686.9" x2="1696.1" y2="674.9" stroke="#000" stroke-width="2"/>
<line x1="1696.1" y1="14.5" x2="1696.1" y2="26.5" stroke="#000" stroke-width="2"/>
<text x="1696.1" y="719.9" font-size="26.5" text-anchor="middle">4</text>
<line x1="1725.5" y1="686.9" x2="1725.5" y2="679.9" stroke="#000" stroke-width="2"/>
<line x1="1725.5" y1="14.5" x2="1725.5" y2="21.5" stroke="#000" stroke-width="2"/>
<line x1="1754.9" y1="686.9" x2="1754.9" y2="679.9" stroke="#000" stroke-width="2"/>
<line x1="1754.9" y1="14.5" x2="1754.9" y2="21.5" stroke="#000" stroke-width="2"/>
<line x1="1784.2" y1="686.9" x2="1784.2" y2="679.9" stroke="#000" stroke-width="2"/>
<line x1="1784.2" y1="14.5" x2="1784.2" y2="21.5" stroke="#000" stroke-width="2"/>
<line x1="1813.6" y1="686.9" x2="1813.6" y2="679.9" stroke="#000" stroke-width="2"/>
<line x1="1813.6" y1="14.5" x2="1813.6" y2="21.5" stroke="#000" stroke-width="2"/>
<line x1="1843.0" y1="686.9" x2="1843.0" y2="674.9" stroke="#000" stroke-width="2"/>
<line x1="1843.0" y1="14.5" x2="1843.0" y2="26.5" stroke="#000" stroke-width="2"/>
<text x="1843.0" y="719.9" font-size="26.5" text-anchor="middle">5</text>
<line x1="1872.4" y1="686.9" x2="1872.4" y2="679.9" stroke="#000" stroke-width="2"/>
<line x1="1872.4" y1="14.5" x2="1872.4" y2="21.5" stroke="#000" stroke-width="2"/>
<line x1="1901.8" y1="686.9" x2="1901.8" y2="679.9" stroke="#000" stroke-width="2"/>
<line x1="1901.8" y1="14.5" x2="1901.8" y2="21.5" stroke="#000" stroke-width="2"/>
<line x1="1931.1" y1="686.9" x2="1931.1" y2="679.9" stroke="#000" stroke-width="2"/>
<line x1="1931.1" y1="14.5" x2="1931.1" y2="21.5" stroke="#000" stroke-width="2"/>
<line x1="1960.5" y1="686.9" x2="1960.5" y2="679.9" stroke="#000" stroke-width="2"/>
<line x1="1960.5" y1="14.5" x2="1960.5" y2="21.5" stroke="#000" stroke-width="2"/>
<text x="1989.9" y="719.9" font-size="26.5" text-anchor="middle">6</text>
<line x1="1108.6" y1="660.4" x2="1115.6" y2="660.4" stroke="#000" stroke-width="2"/>
<line x1="1989.9" y1="660.4" x2="1982.9" y2="660.4" stroke="#000" stroke-width="2"/>
<line x1="1108.6" y1="633.8" x2="1115.6" y2="633.8" stroke="#000" stroke-width="2"/>
<line x1="1989.9" y1="633.8" x2="1982.9" y2="633.8" stroke="#000" stroke-width="2"/>
<line x1="1108.6" y1="607.2" x2="1115.6" y2="607.2" stroke="#000" stroke-width="2"/>
<line x1="1989.9" y1="607.2" x2="1982.9" y2="607.2" stroke="#000" stroke-width="2"/>
<line x1="1108.6" y1="580.7" x2="1115.6" y2="580.7" stroke="#000" stroke-width="2"/>
<line x1="1989.9" y1="580.7" x2="1982.9" y2="580.7" stroke="#000" stroke-width="2"/>
<line x1="1108.6" y1="554.1" x2="1120.6" y2="554.1" stroke="#000" stroke-width="2"/>
<line x1="1989.9" y1="554.1" x2="1977.9" y2="554.1" stroke="#000" stroke-width="2"/>
<text x="1095.1" y="561.6" font-size="26.5" text-anchor="end">1</text>
<line x1="1108.6" y1="527.6" x2="1115.6" y2="527.6" stroke="#000" stroke-width="2"/>
<line x1="1989.9" y1="527.6" x2="1982.9" y2="527.6" stroke="#000" stroke-width="2"/>
<line x1="1108.6" y1="501.0" x2="1115.6" y2="501.0" stroke="#000" stroke-width="2"/>
<line x1="1989.9" y1="501.0" x2="1982.9" y2="501.0" stroke="#000" stroke-width="2"/>
<line x1="1108.6" y1="474.5" x2="1115.6" y2="474.5" stroke="#000" stroke-width="2"/>
<line x1="1989.9" y1="474.5" x2="1982.9" y2="474.5" stroke="#000" stroke-width="2"/>
<line x1="1108.6" y1="447.9" x2="1115.6" y2="447.9" stroke="#000" stroke-width="2"/>
<line x1="1989.9" y1="447.9" x2="1982.9" y2="447.9" stroke="#000" stroke-width="2"/>
<line x1="1108.6" y1="421.4" x2="1120.6" y2="421.4" stroke="#000" stroke-width="2"/>
<line x1="1989.9" y1="421.4" x2="1977.9" y2="421.4" stroke="#000" stroke-width="2"/>
<text x="1095.1" y="428.9" font-size="26.5" text-anchor="end">2</text>
<line x1="1108.6" y1="394.8" x2="1115.6" y2="394.8" stroke="#000" stroke-width="2"/>
<line x1="1989.9" y1="394.8" x2="1982.9" y2="394.8" stroke="#000" stroke-width="2"/>
<line x1="1108.6" y1="368.3" x2="1115.6" y2="368.3" stroke="#000" stroke-width="2"/>
<line x1="1989.9" y1="368.3" x2="1982.9" y2="368.3" stroke="#000" stroke-width="2"/>
<line x1="1108.6" y1="341.7" x2="1115.6" y2="341.7" stroke="#000" stroke-width="2"/>
<line x1="1989.9" y1="341.7" x2="1982.9" y2="341.7" stroke="#000" stroke-width="2"/>
<line x1="1108.6" y1="315.2" x2="1115.6" y2="315.2" stroke="#000" stroke-width="2"/>
<line x1="1989.9" y1="315.2" x2="1982.9" y2="315.2" stroke="#000" stroke-width="2"/>
<line x1="1108.6" y1="288.6" x2="1120.6" y2="288.6" stroke="#000" stroke-width="2"/>
<line x1="1989.9" y1="288.6" x2="1977.9" y2="288.6" stroke="#000" stroke-width="2"/>
<text x="1095.1" y="296.1" font-size="26.5" text-anchor="end">3</text>
<line x1="1108.6" y1="262.1" x2="1115.6" y2="262.1" stroke="#000" stroke-width="2"/>
<line x1="1989.9" y1="262.1" x2="1982.9" y2="262.1" stroke="#000" stroke-width="2"/>
<line x1="1108.6" y1="235.6" x2="1115.6" y2="235.6" stroke="#000" stroke-width="2"/>
<line x1="1989.9" y1="235.6" x2="1982.9" y2="235.6" stroke="#000" stroke-width="2"/>
<line x1="1108.6" y1="686.9" x2="1120.6" y2="686.9" stroke="#000" stroke-width="2"/>
<line x1="1989.9" y1="686.9" x2="1977.9" y2="686.9" stroke="#000" stroke-width="2"/>
<text x="1095.1" y="694.4" font-size="26.5" text-anchor="end">0</text>
<line x1="1108.6" y1="197.8" x2="1120.6" y2="197.8" stroke="#000" stroke-width="2"/>
<line x1="1989.9" y1="197.8" x2="1977.9" y2="197.8" stroke="#000" stroke-width="2"/>
<text x="1095.1" y="205.3" font-size="26.5" text-anchor="end">4</text>
<line x1="1108.6" y1="166.1" x2="1115.6" y2="166.1" stroke="#000" stroke-width="2"/>
<line x1="1989.9" y1="166.1" x2="1982.9" y2="166.1" stroke="#000" stroke-width="2"/>
<line x1="1108.6" y1="134.4" x2="1120.6" y2="134.4" stroke="#000" stroke-width="2"/>
<line x1="1989.9" y1="134.4" x2="1977.9" y2="134.4" stroke="#000" stroke-width="2"/>
<text x="1095.1" y="141.9" font-size="26.5" text-anchor="end">5</text>
<line x1="1108.6" y1="101.4" x2="1120.6" y2="101.4" stroke="#000" stroke-width="2"/>
<line x1="1989.9" y1="101.4" x2="1977.9" y2="101.4" stroke="#000" stroke-width="2"/>
<text x="1095.1" y="108.9" font-size="26.5" text-anchor="end">14</text>
<line x1="1108.6" y1="79.7" x2="1115.6" y2="79.7" stroke="#000" stroke-width="2"/>
<line x1="1989.9" y1="79.7" x2="1982.9" y2="79.7" stroke="#000" stroke-width="2"/>
<line x1="1108.6" y1="58.0" x2="1120.6" y2="58.0" stroke="#000" stroke-width="2"/>
<line x1="1989.9" y1="58.0" x2="1977.9" y2="58.0" stroke="#000" stroke-width="2"/>
<text x="1095.1" y="65.5" font-size="26.5" text-anchor="end">15</text>
<line x1="1108.6" y1="36.2" x2="1115.6" y2="36.2" stroke="#000" stroke-width="2"/>
<line x1="1989.9" y1="36.2" x2="1982.9" y2="36.2" stroke="#000" stroke-width="2"/>
<line x1="1108.6" y1="14.5" x2="1120.6" y2="14.5" stroke="#000" stroke-width="2"/>
<line x1="1989.9" y1="14.5" x2="1977.9" y2="14.5" stroke="#000" stroke-width="2"/>
<text x="1095.1" y="22.0" font-size="26.5" text-anchor="end">16</text>
<text x="1002.4" y="62.2" font-size="50" font-weight="bold" letter-spacing="1.2">(b)</text>
<text x="1123.9" y="66.8" font-size="42">B-N</text>
<text x="1549.2" y="758.4" font-size="33" text-anchor="middle">r (Å)</text>
<text transform="translate(1037.4,338) rotate(-90)" font-size="32" text-anchor="middle">pPDF</text>
<rect x="1588.2" y="14.5" width="392.4" height="214.5" fill="#fff" stroke="#6f6f6f" stroke-width="1.3"/>
<line x1="1107.5" y1="14.5" x2="1991.0" y2="14.5" stroke="#000" stroke-width="2.2"/>
<line x1="1592.6000000000001" y1="40.7" x2="1662.4" y2="40.7" stroke="#000" stroke-width="4.5" stroke-linecap="round"/>
<text x="1671.7" y="51.900000000000006" font-size="32">This work 2.04 g cm<tspan dy="-15.5" font-size="19.5">-3</tspan></text>
<line x1="1592.6000000000001" y1="85.1" x2="1662.4" y2="85.1" stroke="#ff0000" stroke-width="4.5" stroke-linecap="round"/>
<text x="1671.7" y="96.3" font-size="32">This work 2.80 g cm<tspan dy="-15.5" font-size="19.5">-3</tspan></text>
<line x1="1592.6000000000001" y1="129.2" x2="1662.4" y2="129.2" stroke="#0000ff" stroke-width="4.5" stroke-linecap="round"/>
<text x="1671.7" y="140.39999999999998" font-size="32">This work 3.48 g cm<tspan dy="-15.5" font-size="19.5">-3</tspan></text>
<line x1="1590.9" y1="168.3" x2="1618.5" y2="168.3" stroke="#4ea84e" stroke-width="3.2" stroke-linecap="round"/>
<line x1="1638.2" y1="168.3" x2="1663.7" y2="168.3" stroke="#4ea84e" stroke-width="3.2" stroke-linecap="round"/>
<polygon fill="#82c882" points="1618.8,168.3 1633.0,159.0 1633.0,177.60000000000002"/>
<text x="1671.7" y="179.5" font-size="32">Durandurdu, 2015</text>
<line x1="1590.9" y1="207.7" x2="1618.2" y2="207.7" stroke="#f6a556" stroke-width="3.2" stroke-linecap="round"/>
<line x1="1637.7" y1="207.7" x2="1663.7" y2="207.7" stroke="#f6a556" stroke-width="3.2" stroke-linecap="round"/>
<polygon fill="#fcc680" points="1637.0,207.7 1622.1000000000001,198.1 1622.1000000000001,217.29999999999998"/>
<text x="1671.7" y="218.89999999999998" font-size="32">Durandurdu, 2020</text>
<clipPath id="clip2"><rect x="598.9" y="799.2" width="880.3000000000001" height="672.5"/></clipPath>
<g clip-path="url(#clip2)">
<polyline fill="none" stroke="#000000" stroke-width="4.5" stroke-linejoin="round" stroke-linecap="round" points="598.9,1471.7 613.6,1471.7 634.5,1471.8 659.5,1471.9 686.5,1471.9 713.6,1472.0 738.8,1472.0 759.9,1471.9 775.0,1471.7 784.0,1471.4 788.7,1471.1 790.0,1470.8 789.1,1470.4 786.8,1469.9 784.2,1469.3 782.2,1468.7 781.8,1468.0 782.5,1467.2 783.1,1466.4 783.7,1465.5 784.3,1464.5 784.8,1463.5 785.4,1462.4 785.9,1461.2 786.5,1460.0 787.1,1458.8 787.6,1457.6 788.2,1456.3 788.8,1455.0 789.3,1453.6 789.9,1451.9 790.5,1450.1 791.1,1448.0 791.7,1445.6 792.4,1443.0 793.0,1440.2 793.7,1437.1 794.4,1434.0 795.1,1430.7 795.8,1427.4 796.5,1424.0 797.2,1420.6 797.9,1417.0 798.7,1413.3 799.4,1409.6 800.2,1405.7 800.9,1401.8 801.7,1397.8 802.4,1393.7 803.1,1389.5 803.8,1385.1 804.5,1380.7 805.2,1376.1 805.9,1371.6 806.6,1367.0 807.3,1362.5 808.0,1358.0 808.7,1353.5 809.5,1349.0 810.2,1344.5 811.0,1340.0 811.7,1335.5 812.5,1331.2 813.2,1327.0 813.8,1323.0 814.4,1319.2 815.0,1315.6 815.5,1312.2 816.0,1308.8 816.5,1305.6 817.0,1302.4 817.5,1299.2 818.0,1296.0 818.5,1292.8 819.1,1289.7 819.6,1286.6 820.1,1283.6 820.7,1280.6 821.2,1277.7 821.8,1274.8 822.3,1272.0 822.8,1269.2 823.4,1266.5 823.9,1263.8 824.4,1261.2 824.9,1258.6 825.5,1256.0 826.0,1253.5 826.5,1251.0 827.0,1248.6 827.5,1246.2 828.0,1243.8 828.5,1241.5 829.0,1239.3 829.6,1237.0 830.1,1234.7 830.7,1232.4 831.3,1230.1 831.9,1227.7 832.6,1225.4 833.2,1223.0 833.9,1220.7 834.6,1218.4 835.3,1216.2 836.0,1214.0 836.7,1211.9 837.5,1209.9 838.3,1207.8 839.0,1205.9 839.8,1204.0 840.6,1202.1 841.4,1200.3 842.1,1198.5 842.8,1196.8 843.5,1195.0 844.1,1193.4 844.8,1191.7 845.4,1190.2 846.1,1188.7 846.8,1187.3 847.5,1186.0 848.2,1184.8 849.0,1183.6 849.7,1182.5 850.5,1181.4 851.3,1180.5 852.1,1179.8 852.9,1179.2 853.7,1178.9 854.5,1178.8 855.4,1179.0 856.3,1179.3 857.2,1179.8 858.1,1180.5 859.0,1181.2 859.8,1182.0 860.6,1182.9 861.3,1183.8 862.0,1184.8 862.6,1186.0 863.2,1187.2 863.8,1188.5 864.4,1189.8 865.0,1191.3 865.6,1192.8 866.2,1194.4 866.9,1196.1 867.5,1197.9 868.1,1199.8 868.7,1201.7 869.4,1203.7 870.0,1205.8 870.6,1207.8 871.2,1209.9 871.9,1212.0 872.5,1214.3 873.1,1216.5 873.7,1218.8 874.4,1221.1 875.0,1223.4 875.6,1225.7 876.2,1228.0 876.9,1230.4 877.5,1232.7 878.1,1235.1 878.7,1237.5 879.4,1239.9 880.0,1242.3 880.6,1244.7 881.2,1247.1 881.9,1249.6 882.5,1252.1 883.1,1254.6 883.7,1257.1 884.4,1259.6 885.0,1262.1 885.6,1264.6 886.2,1267.1 886.8,1269.7 887.5,1272.3 888.1,1274.8 888.7,1277.4 889.3,1279.8 889.9,1282.2 890.5,1284.5 891.1,1286.7 891.7,1288.8 892.2,1290.8 892.8,1292.7 893.3,1294.6 893.9,1296.5 894.4,1298.2 895.0,1300.0 895.6,1301.7 896.1,1303.4 896.6,1305.1 897.1,1306.7 897.7,1308.2 898.2,1309.6 898.9,1311.0 899.6,1312.3 900.4,1313.5 901.3,1314.8 902.2,1316.0 903.2,1317.1 904.2,1318.1 905.2,1318.9 906.1,1319.5 907.1,1319.8 908.0,1319.9 909.0,1320.0 910.0,1319.8 911.0,1319.5 911.9,1318.9 912.8,1318.0 913.7,1316.8 914.5,1315.3 915.2,1313.3 915.9,1310.8 916.4,1308.0 917.0,1304.9 917.5,1301.6 918.1,1298.3 918.7,1295.1 919.4,1292.0 920.1,1289.1 920.9,1286.1 921.7,1283.2 922.6,1280.3 923.4,1277.3 924.3,1274.3 925.1,1271.2 926.0,1268.0 926.9,1264.6 927.8,1261.0 928.8,1257.2 929.7,1253.4 930.6,1249.7 931.5,1246.2 932.2,1243.0 932.9,1240.2 933.4,1237.9 933.8,1236.0 934.1,1234.3 934.3,1232.9 934.6,1231.6 934.8,1230.1 935.1,1228.6 935.4,1226.7 935.8,1224.6 936.3,1222.4 936.8,1220.2 937.3,1217.8 937.8,1215.4 938.3,1212.8 938.8,1210.2 939.3,1207.4 939.8,1204.4 940.3,1201.3 940.8,1197.9 941.3,1194.5 941.8,1191.1 942.3,1187.7 942.8,1184.6 943.2,1181.6 943.6,1178.9 943.9,1176.3 944.2,1173.9 944.5,1171.5 944.8,1169.3 945.1,1167.0 945.4,1164.7 945.7,1162.3 946.0,1159.9 946.3,1157.5 946.6,1155.1 946.9,1152.7 947.2,1150.2 947.6,1147.8 947.9,1145.4 948.3,1143.0 948.7,1140.6 949.2,1138.2 949.7,1135.8 950.2,1133.3 950.7,1130.9 951.2,1128.5 951.7,1126.1 952.2,1123.7 952.7,1121.3 953.2,1118.9 953.6,1116.5 954.1,1114.1 954.6,1111.6 955.0,1109.2 955.5,1106.8 956.0,1104.4 956.5,1102.0 956.9,1099.6 957.4,1097.2 957.9,1094.8 958.3,1092.3 958.8,1089.9 959.3,1087.5 959.9,1085.1 960.5,1082.6 961.1,1079.9 961.6,1077.2 962.3,1074.5 962.9,1072.0 963.6,1069.6 964.3,1067.5 965.1,1065.7 965.9,1064.3 966.8,1063.1 967.6,1062.1 968.6,1061.3 969.5,1060.7 970.5,1060.4 971.6,1060.1 972.7,1060.1 973.9,1060.2 975.2,1060.5 976.7,1060.9 978.1,1061.5 979.5,1062.4 980.9,1063.4 982.3,1064.7 983.5,1066.2 984.6,1067.9 985.6,1069.8 986.6,1071.9 987.5,1074.2 988.4,1076.8 989.3,1079.6 990.3,1082.8 991.2,1086.3 992.2,1090.2 993.1,1094.6 994.1,1099.4 995.1,1104.4 996.1,1109.6 997.1,1114.8 998.0,1119.9 999.0,1124.9 1000.0,1129.8 1000.9,1134.7 1001.9,1139.7 1002.9,1144.7 1003.8,1149.6 1004.8,1154.4 1005.7,1159.0 1006.7,1163.5 1007.7,1167.7 1008.6,1171.8 1009.6,1175.7 1010.6,1179.4 1011.5,1183.2 1012.5,1186.9 1013.4,1190.6 1014.4,1194.4 1015.4,1198.3 1016.3,1202.1 1017.3,1206.0 1018.2,1209.9 1019.2,1213.7 1020.2,1217.6 1021.1,1221.4 1022.1,1225.3 1023.1,1229.2 1024.1,1233.3 1025.1,1237.4 1026.1,1241.5 1027.1,1245.5 1028.1,1249.3 1029.0,1252.9 1029.8,1256.2 1030.5,1259.2 1031.2,1261.9 1031.8,1264.4 1032.4,1266.7 1032.9,1268.9 1033.6,1271.0 1034.2,1273.0 1035.0,1274.9 1035.9,1276.8 1036.8,1278.6 1037.8,1280.3 1038.8,1281.8 1039.9,1283.3 1041.0,1284.6 1042.0,1285.8 1043.1,1286.9 1044.2,1287.8 1045.3,1288.5 1046.4,1289.2 1047.5,1289.6 1048.6,1290.0 1049.7,1290.3 1050.9,1290.5 1052.0,1290.6 1053.1,1290.6 1054.2,1290.6 1055.4,1290.4 1056.5,1290.1 1057.6,1289.8 1058.7,1289.4 1059.9,1288.9 1061.0,1288.4 1062.1,1287.8 1063.2,1287.2 1064.3,1286.5 1065.4,1285.7 1066.6,1284.9 1067.7,1284.1 1068.8,1283.2 1070.0,1282.4 1071.2,1281.5 1072.5,1280.6 1073.7,1279.7 1075.0,1278.8 1076.3,1277.8 1077.6,1276.9 1078.8,1275.9 1080.0,1275.0 1081.1,1274.1 1082.1,1273.2 1083.0,1272.3 1083.9,1271.4 1084.8,1270.5 1085.9,1269.6 1087.0,1268.8 1088.4,1268.0 1090.0,1267.2 1091.7,1266.4 1093.5,1265.6 1095.5,1264.8 1097.5,1264.0 1099.6,1263.4 1101.6,1262.8 1103.7,1262.3 1105.8,1262.0 1108.0,1261.8 1110.2,1261.7 1112.5,1261.7 1114.7,1261.7 1116.9,1261.6 1119.1,1261.5 1121.2,1261.2 1123.2,1260.8 1125.2,1260.4 1127.1,1260.0 1129.0,1259.5 1130.9,1258.9 1132.7,1258.3 1134.6,1257.6 1136.5,1256.8 1138.4,1255.9 1140.3,1254.9 1142.2,1253.9 1144.1,1252.7 1146.1,1251.6 1148.0,1250.4 1149.9,1249.2 1151.8,1248.1 1153.7,1247.0 1155.6,1245.9 1157.6,1244.7 1159.5,1243.6 1161.4,1242.4 1163.4,1241.3 1165.3,1240.3 1167.2,1239.3 1169.1,1238.4 1171.0,1237.4 1172.8,1236.5 1174.7,1235.7 1176.6,1234.9 1178.5,1234.1 1180.5,1233.4 1182.5,1232.8 1184.6,1232.3 1186.7,1231.8 1188.9,1231.4 1191.1,1231.1 1193.3,1230.8 1195.6,1230.6 1197.8,1230.3 1200.0,1230.1 1202.2,1229.9 1204.4,1229.7 1206.5,1229.5 1208.7,1229.3 1210.9,1229.2 1213.0,1229.0 1215.2,1228.9 1217.4,1228.8 1219.6,1228.7 1221.8,1228.7 1224.1,1228.7 1226.3,1228.7 1228.5,1228.6 1230.7,1228.6 1232.8,1228.5 1234.9,1228.4 1236.9,1228.2 1238.9,1228.0 1240.8,1227.7 1242.7,1227.4 1244.6,1227.1 1246.4,1226.8 1248.3,1226.5 1250.2,1226.2 1252.1,1225.9 1253.9,1225.6 1255.8,1225.3 1257.6,1225.0 1259.5,1224.7 1261.4,1224.4 1263.5,1224.0 1265.6,1223.6 1267.9,1223.1 1270.3,1222.6 1272.9,1222.1 1275.5,1221.5 1278.1,1220.9 1280.6,1220.4 1283.1,1220.0 1285.4,1219.7 1287.5,1219.5 1289.6,1219.4 1291.5,1219.3 1293.4,1219.3 1295.3,1219.4 1297.1,1219.5 1299.0,1219.6 1300.9,1219.7 1302.8,1219.8 1304.8,1220.0 1306.7,1220.3 1308.6,1220.5 1310.5,1220.8 1312.4,1221.1 1314.4,1221.3 1316.3,1221.6 1318.2,1221.8 1320.2,1222.0 1322.1,1222.1 1324.0,1222.3 1326.0,1222.5 1327.9,1222.8 1329.9,1223.1 1331.8,1223.5 1333.7,1224.0 1335.7,1224.6 1337.7,1225.3 1339.6,1226.0 1341.6,1226.8 1343.5,1227.6 1345.4,1228.5 1347.2,1229.3 1349.0,1230.2 1350.7,1231.1 1352.4,1232.1 1354.1,1233.2 1355.7,1234.2 1357.4,1235.2 1359.0,1236.1 1360.7,1237.0 1362.4,1237.8 1364.0,1238.6 1365.7,1239.3 1367.3,1240.0 1369.0,1240.7 1370.7,1241.4 1372.4,1242.1 1374.2,1242.8 1376.0,1243.6 1377.9,1244.3 1379.9,1245.1 1381.8,1245.9 1383.8,1246.7 1385.8,1247.4 1387.8,1248.1 1389.7,1248.6 1391.6,1249.0 1393.6,1249.4 1395.5,1249.7 1397.4,1249.9 1399.3,1250.1 1401.3,1250.2 1403.2,1250.4 1405.1,1250.5 1407.0,1250.6 1408.9,1250.7 1410.9,1250.8 1412.8,1250.9 1414.7,1250.9 1416.6,1250.8 1418.6,1250.7 1420.5,1250.5 1422.4,1250.2 1424.4,1249.9 1426.3,1249.4 1428.2,1249.0 1430.2,1248.4 1432.1,1247.9 1434.1,1247.3 1436.0,1246.7 1437.9,1246.1 1439.9,1245.4 1441.8,1244.7 1443.7,1243.9 1445.6,1243.2 1447.5,1242.4 1449.5,1241.6 1451.4,1240.9 1453.4,1240.2 1455.3,1239.4 1457.3,1238.6 1459.3,1237.9 1461.3,1237.1 1463.2,1236.4 1465.1,1235.7 1466.9,1235.1 1468.7,1234.5 1470.5,1233.9 1472.4,1233.3 1474.1,1232.8 1475.8,1232.3 1477.2,1231.9 1478.5,1231.5 1479.4,1231.2"/>
<polyline fill="none" stroke="#ff0000" stroke-width="4.5" stroke-linejoin="round" stroke-linecap="round" points="598.9,1471.7 614.2,1471.7 636.0,1471.7 662.0,1471.7 690.1,1471.7 718.3,1471.8 744.4,1471.7 766.4,1471.7 782.0,1471.7 791.2,1471.7 795.8,1471.8 797.0,1472.0 795.7,1472.1 793.1,1472.1 790.2,1472.0 787.9,1471.6 787.5,1471.0 788.3,1470.1 789.2,1469.1 790.1,1467.9 791.0,1466.5 791.9,1465.0 792.9,1463.2 793.9,1461.1 794.9,1458.8 795.9,1456.2 797.0,1453.4 798.2,1450.3 799.3,1446.9 800.5,1443.4 801.6,1439.7 802.8,1435.9 803.9,1431.9 805.0,1427.8 806.1,1423.5 807.3,1419.0 808.4,1414.3 809.5,1409.5 810.6,1404.6 811.8,1399.6 812.9,1394.5 814.0,1389.3 815.2,1383.8 816.3,1378.2 817.4,1372.6 818.5,1366.8 819.7,1361.1 820.8,1355.4 821.9,1349.7 823.0,1344.0 824.2,1338.3 825.4,1332.4 826.5,1326.7 827.7,1320.9 828.8,1315.3 829.8,1309.9 830.8,1304.8 831.7,1299.9 832.5,1295.1 833.2,1290.4 833.9,1285.9 834.6,1281.6 835.3,1277.4 836.0,1273.4 836.7,1269.6 837.4,1265.9 838.2,1262.5 838.9,1259.2 839.7,1256.0 840.4,1253.0 841.2,1250.1 841.9,1247.4 842.7,1244.7 843.5,1242.1 844.2,1239.7 845.0,1237.4 845.7,1235.3 846.5,1233.2 847.2,1231.3 848.0,1229.4 848.7,1227.7 849.4,1226.1 850.2,1224.6 850.9,1223.3 851.6,1222.1 852.3,1220.9 853.1,1219.8 853.9,1218.8 854.7,1217.8 855.6,1216.8 856.5,1215.7 857.5,1214.7 858.5,1213.8 859.5,1213.0 860.6,1212.4 861.6,1211.9 862.6,1211.8 863.6,1211.9 864.6,1212.3 865.6,1212.9 866.6,1213.7 867.6,1214.6 868.6,1215.6 869.6,1216.7 870.6,1217.8 871.6,1219.0 872.6,1220.3 873.7,1221.7 874.7,1223.2 875.7,1224.8 876.7,1226.4 877.7,1228.0 878.6,1229.7 879.4,1231.4 880.2,1233.1 881.0,1234.9 881.7,1236.7 882.4,1238.6 883.1,1240.5 883.8,1242.6 884.6,1244.7 885.4,1247.0 886.3,1249.5 887.2,1252.1 888.1,1254.8 889.0,1257.4 889.9,1260.0 890.7,1262.4 891.5,1264.6 892.2,1266.6 892.8,1268.3 893.4,1270.0 893.9,1271.6 894.5,1273.1 895.1,1274.6 895.8,1276.2 896.6,1277.9 897.5,1279.7 898.6,1281.7 899.7,1283.7 900.9,1285.8 902.1,1287.8 903.3,1289.7 904.5,1291.4 905.6,1292.9 906.7,1294.3 907.9,1295.5 909.0,1296.7 910.1,1297.7 911.3,1298.6 912.4,1299.3 913.5,1299.8 914.5,1300.0 915.5,1299.9 916.5,1299.6 917.5,1299.0 918.4,1298.3 919.4,1297.4 920.3,1296.4 921.1,1295.4 922.0,1294.4 922.8,1293.4 923.6,1292.3 924.4,1291.1 925.1,1289.9 925.8,1288.6 926.5,1287.1 927.2,1285.6 927.9,1283.9 928.5,1282.0 929.1,1280.0 929.7,1277.8 930.3,1275.5 930.8,1273.2 931.4,1270.9 932.0,1268.6 932.6,1266.4 933.2,1264.3 933.9,1262.3 934.6,1260.2 935.2,1258.2 935.9,1256.2 936.6,1254.2 937.3,1252.1 938.0,1250.0 938.7,1247.9 939.4,1245.8 940.1,1243.7 940.8,1241.6 941.6,1239.4 942.3,1237.2 943.1,1234.8 943.9,1232.4 944.7,1229.8 945.6,1227.1 946.5,1224.4 947.4,1221.5 948.3,1218.6 949.2,1215.7 950.1,1212.9 951.0,1210.0 951.9,1207.2 952.8,1204.4 953.7,1201.5 954.6,1198.7 955.5,1195.8 956.4,1193.0 957.3,1190.1 958.1,1187.1 958.9,1184.1 959.6,1180.9 960.4,1177.7 961.1,1174.5 961.8,1171.3 962.5,1168.2 963.1,1165.1 963.8,1162.3 964.5,1159.6 965.1,1156.9 965.7,1154.3 966.4,1151.8 967.0,1149.3 967.6,1147.1 968.3,1144.9 968.9,1143.0 969.5,1141.3 970.1,1139.7 970.7,1138.3 971.2,1137.0 971.9,1135.9 972.6,1134.7 973.4,1133.7 974.3,1132.6 975.4,1131.5 976.7,1130.2 978.0,1129.0 979.5,1127.9 980.9,1126.9 982.4,1126.2 983.8,1125.7 985.1,1125.7 986.3,1126.1 987.5,1126.8 988.7,1127.8 989.8,1129.0 990.9,1130.5 992.0,1132.1 993.2,1133.9 994.3,1135.7 995.5,1137.7 996.6,1140.0 997.8,1142.5 998.9,1145.1 1000.1,1147.8 1001.3,1150.5 1002.4,1153.2 1003.6,1155.8 1004.8,1158.3 1005.9,1160.9 1007.1,1163.4 1008.2,1165.9 1009.3,1168.5 1010.5,1171.0 1011.6,1173.5 1012.8,1175.9 1014.0,1178.3 1015.2,1180.7 1016.4,1183.1 1017.5,1185.4 1018.7,1187.8 1019.9,1190.0 1021.0,1192.2 1022.1,1194.4 1023.1,1196.5 1024.1,1198.5 1025.1,1200.4 1026.0,1202.3 1027.0,1204.2 1027.9,1206.0 1028.8,1207.9 1029.8,1209.8 1030.8,1211.8 1031.7,1213.8 1032.7,1215.8 1033.7,1217.8 1034.7,1219.8 1035.7,1221.8 1036.6,1223.6 1037.6,1225.3 1038.6,1226.9 1039.5,1228.4 1040.5,1229.8 1041.5,1231.2 1042.4,1232.5 1043.4,1233.7 1044.3,1234.9 1045.3,1236.1 1046.3,1237.2 1047.2,1238.3 1048.2,1239.4 1049.2,1240.3 1050.1,1241.3 1051.1,1242.2 1052.0,1243.0 1053.0,1243.8 1053.9,1244.5 1054.7,1245.2 1055.5,1245.8 1056.3,1246.4 1057.1,1246.9 1058.1,1247.4 1059.3,1247.9 1060.7,1248.4 1062.4,1248.9 1064.2,1249.3 1066.3,1249.7 1068.5,1250.1 1070.7,1250.4 1073.0,1250.7 1075.3,1251.0 1077.5,1251.3 1079.7,1251.5 1081.8,1251.8 1084.0,1251.9 1086.2,1252.1 1088.4,1252.2 1090.6,1252.3 1092.8,1252.4 1095.0,1252.4 1097.2,1252.4 1099.4,1252.4 1101.7,1252.3 1103.9,1252.2 1106.1,1252.0 1108.3,1251.9 1110.4,1251.6 1112.5,1251.3 1114.5,1250.9 1116.5,1250.5 1118.4,1250.0 1120.3,1249.5 1122.2,1248.9 1124.0,1248.3 1125.9,1247.7 1127.8,1247.0 1129.7,1246.3 1131.6,1245.5 1133.5,1244.7 1135.4,1243.8 1137.4,1243.0 1139.3,1242.1 1141.2,1241.2 1143.1,1240.4 1145.0,1239.6 1146.9,1238.7 1148.8,1237.8 1150.8,1236.9 1152.7,1236.0 1154.6,1235.2 1156.5,1234.5 1158.4,1233.8 1160.3,1233.2 1162.3,1232.6 1164.2,1232.1 1166.2,1231.6 1168.1,1231.3 1170.0,1230.9 1171.9,1230.7 1173.7,1230.6 1175.4,1230.6 1177.1,1230.7 1178.8,1230.9 1180.4,1231.2 1182.0,1231.5 1183.6,1231.9 1185.2,1232.3 1186.8,1232.8 1188.4,1233.3 1190.1,1233.9 1191.7,1234.6 1193.4,1235.3 1195.1,1236.0 1196.7,1236.8 1198.4,1237.5 1200.0,1238.2 1201.6,1238.9 1203.2,1239.5 1204.8,1240.2 1206.4,1240.9 1208.0,1241.6 1209.7,1242.3 1211.4,1243.0 1213.1,1243.7 1214.9,1244.5 1216.8,1245.3 1218.7,1246.2 1220.6,1247.1 1222.6,1248.0 1224.5,1248.8 1226.5,1249.5 1228.4,1250.2 1230.3,1250.8 1232.2,1251.3 1234.1,1251.8 1236.1,1252.3 1238.0,1252.6 1239.9,1253.0 1241.8,1253.3 1243.7,1253.5 1245.6,1253.7 1247.6,1253.8 1249.6,1253.9 1251.6,1253.9 1253.6,1253.9 1255.5,1253.8 1257.3,1253.7 1259.0,1253.5 1260.6,1253.3 1262.0,1253.0 1263.3,1252.7 1264.6,1252.4 1265.9,1252.0 1267.2,1251.5 1268.5,1251.0 1270.0,1250.5 1271.6,1249.9 1273.2,1249.3 1274.9,1248.7 1276.6,1247.9 1278.3,1247.2 1280.1,1246.4 1281.8,1245.6 1283.5,1244.8 1285.2,1243.9 1286.9,1243.0 1288.6,1242.0 1290.2,1241.0 1291.9,1240.0 1293.6,1239.0 1295.3,1238.0 1297.0,1237.0 1298.7,1236.0 1300.4,1235.1 1302.1,1234.1 1303.8,1233.1 1305.4,1232.2 1307.1,1231.2 1308.8,1230.3 1310.5,1229.3 1312.2,1228.3 1313.9,1227.2 1315.6,1226.2 1317.2,1225.1 1318.9,1224.1 1320.6,1223.1 1322.3,1222.3 1324.0,1221.6 1325.7,1221.1 1327.4,1220.7 1329.1,1220.4 1330.8,1220.2 1332.5,1220.0 1334.2,1219.9 1335.9,1219.8 1337.6,1219.7 1339.3,1219.6 1341.0,1219.4 1342.7,1219.3 1344.4,1219.2 1346.0,1219.2 1347.7,1219.2 1349.4,1219.4 1351.1,1219.7 1352.8,1220.1 1354.5,1220.7 1356.2,1221.4 1357.8,1222.1 1359.5,1222.9 1361.2,1223.8 1362.9,1224.6 1364.6,1225.5 1366.3,1226.4 1368.0,1227.3 1369.7,1228.3 1371.3,1229.4 1373.0,1230.4 1374.7,1231.4 1376.4,1232.3 1378.1,1233.2 1379.8,1234.0 1381.5,1234.9 1383.2,1235.6 1384.8,1236.4 1386.5,1237.1 1388.2,1237.8 1389.9,1238.4 1391.6,1239.0 1393.3,1239.5 1394.9,1240.0 1396.6,1240.5 1398.2,1240.9 1399.9,1241.3 1401.6,1241.6 1403.3,1241.8 1405.1,1241.9 1406.9,1241.9 1408.8,1241.8 1410.7,1241.6 1412.7,1241.4 1414.6,1241.1 1416.6,1240.7 1418.6,1240.3 1420.5,1239.9 1422.4,1239.4 1424.4,1238.9 1426.3,1238.3 1428.2,1237.6 1430.2,1237.0 1432.1,1236.3 1434.1,1235.7 1436.0,1235.1 1437.9,1234.6 1439.9,1234.1 1441.8,1233.6 1443.7,1233.1 1445.6,1232.6 1447.5,1232.1 1449.5,1231.7 1451.4,1231.2 1453.4,1230.7 1455.3,1230.2 1457.3,1229.7 1459.3,1229.2 1461.3,1228.7 1463.2,1228.2 1465.1,1227.8 1466.9,1227.4 1468.7,1227.1 1470.5,1226.7 1472.4,1226.5 1474.1,1226.2 1475.8,1226.0 1477.2,1225.8 1478.5,1225.6 1479.4,1225.5"/>
<polyline fill="none" stroke="#0000ff" stroke-width="4.5" stroke-linejoin="round" stroke-linecap="round" points="598.9,1471.7 613.4,1471.7 633.9,1471.7 658.4,1471.8 684.9,1471.8 711.6,1471.8 736.3,1471.8 757.1,1471.8 772.0,1471.7 780.9,1471.6 785.5,1471.5 786.9,1471.5 786.1,1471.4 784.0,1471.2 781.6,1470.9 779.9,1470.5 780.0,1470.0 781.3,1469.4 782.8,1468.6 784.3,1467.8 785.9,1466.9 787.4,1465.9 789.0,1464.7 790.5,1463.3 792.0,1461.8 793.4,1460.1 794.7,1458.2 796.0,1456.2 797.3,1454.0 798.6,1451.7 799.8,1449.2 801.1,1446.6 802.4,1443.9 803.7,1441.0 805.0,1437.9 806.3,1434.6 807.6,1431.2 809.0,1427.7 810.3,1424.1 811.6,1420.6 812.9,1417.0 814.2,1413.4 815.5,1409.6 816.8,1405.7 818.1,1401.8 819.4,1397.9 820.7,1394.1 822.0,1390.5 823.3,1387.1 824.6,1383.9 826.0,1380.8 827.3,1377.9 828.6,1375.1 830.0,1372.4 831.3,1369.7 832.6,1367.1 833.8,1364.6 835.0,1362.1 836.1,1359.8 837.2,1357.6 838.3,1355.4 839.4,1353.2 840.5,1351.1 841.6,1348.9 842.8,1346.7 844.1,1344.4 845.4,1342.0 846.8,1339.7 848.1,1337.3 849.5,1335.0 850.8,1332.7 852.1,1330.7 853.2,1328.8 854.2,1327.1 855.0,1325.6 855.8,1324.1 856.5,1322.8 857.3,1321.6 858.1,1320.5 859.0,1319.5 860.0,1318.5 861.2,1317.6 862.5,1316.9 864.0,1316.2 865.5,1315.7 867.0,1315.2 868.5,1314.7 869.9,1314.1 871.3,1313.6 872.6,1313.1 873.9,1312.5 875.2,1312.1 876.4,1311.6 877.7,1311.1 878.9,1310.6 880.0,1310.0 881.2,1309.3 882.3,1308.6 883.5,1307.8 884.6,1307.1 885.6,1306.2 886.7,1305.4 887.7,1304.4 888.7,1303.4 889.7,1302.3 890.7,1301.1 891.6,1299.8 892.6,1298.4 893.5,1297.0 894.4,1295.5 895.2,1294.0 896.0,1292.4 896.8,1290.9 897.5,1289.4 898.1,1287.8 898.7,1286.2 899.2,1284.6 899.8,1283.0 900.3,1281.3 900.9,1279.5 901.5,1277.7 902.1,1275.8 902.8,1273.8 903.5,1271.7 904.2,1269.6 904.9,1267.5 905.6,1265.3 906.3,1263.1 907.0,1261.0 907.7,1258.9 908.4,1256.8 909.2,1254.8 909.9,1252.7 910.6,1250.6 911.4,1248.4 912.1,1246.1 912.8,1243.7 913.5,1241.1 914.2,1238.4 914.9,1235.6 915.7,1232.7 916.4,1229.7 917.1,1226.8 917.8,1223.9 918.5,1221.0 919.2,1218.3 919.8,1215.8 920.5,1213.3 921.1,1210.8 921.8,1208.2 922.5,1205.3 923.3,1202.1 924.1,1198.5 925.0,1194.4 926.0,1189.8 927.1,1184.9 928.2,1179.7 929.3,1174.4 930.4,1169.1 931.5,1163.9 932.6,1158.8 933.7,1153.8 934.7,1148.8 935.8,1143.7 936.9,1138.6 937.9,1133.6 939.0,1128.7 940.0,1123.9 941.1,1119.2 942.2,1114.6 943.2,1110.1 944.3,1105.6 945.4,1101.2 946.4,1096.9 947.5,1092.9 948.5,1089.0 949.6,1085.3 950.7,1081.8 951.7,1078.5 952.8,1075.4 953.9,1072.4 954.9,1069.7 956.0,1067.1 957.0,1064.7 958.1,1062.6 959.1,1060.7 960.2,1058.9 961.2,1057.3 962.2,1056.0 963.2,1054.9 964.2,1054.0 965.3,1053.4 966.5,1053.1 967.7,1053.1 969.1,1053.3 970.4,1053.8 971.8,1054.6 973.3,1055.6 974.6,1056.8 976.0,1058.3 977.3,1060.1 978.5,1062.2 979.8,1064.7 981.0,1067.4 982.1,1070.4 983.3,1073.6 984.4,1076.8 985.5,1080.0 986.6,1083.2 987.6,1086.3 988.6,1089.3 989.6,1092.3 990.6,1095.4 991.5,1098.6 992.4,1102.0 993.3,1105.6 994.3,1109.5 995.3,1113.7 996.2,1118.3 997.2,1123.1 998.1,1128.0 999.1,1133.1 1000.1,1138.2 1001.0,1143.2 1002.0,1148.1 1003.0,1153.0 1003.9,1157.9 1004.9,1162.9 1005.9,1167.9 1006.9,1172.8 1007.9,1177.6 1008.8,1182.2 1009.8,1186.7 1010.8,1190.9 1011.7,1195.0 1012.7,1198.9 1013.7,1202.6 1014.6,1206.4 1015.6,1210.1 1016.5,1213.8 1017.5,1217.6 1018.5,1221.4 1019.4,1225.3 1020.3,1229.1 1021.3,1233.0 1022.2,1236.8 1023.2,1240.6 1024.2,1244.5 1025.2,1248.4 1026.3,1252.4 1027.3,1256.6 1028.4,1260.9 1029.6,1265.1 1030.7,1269.3 1031.8,1273.2 1033.0,1276.8 1034.1,1280.0 1035.2,1282.8 1036.3,1285.3 1037.3,1287.5 1038.4,1289.5 1039.5,1291.3 1040.6,1292.9 1041.8,1294.4 1043.1,1295.9 1044.4,1297.3 1045.9,1298.6 1047.3,1299.8 1048.9,1300.8 1050.4,1301.7 1051.9,1302.4 1053.5,1302.9 1055.0,1303.3 1056.5,1303.5 1058.1,1303.4 1059.7,1303.1 1061.2,1302.7 1062.8,1302.2 1064.3,1301.6 1065.7,1301.0 1067.0,1300.4 1068.2,1299.8 1069.1,1299.1 1070.0,1298.4 1070.8,1297.6 1071.7,1296.7 1072.7,1295.9 1073.8,1294.9 1075.3,1294.0 1077.0,1293.0 1079.0,1292.0 1081.2,1290.9 1083.5,1289.7 1085.8,1288.6 1088.2,1287.4 1090.5,1286.3 1092.8,1285.2 1095.0,1284.1 1097.2,1283.1 1099.5,1282.0 1101.7,1281.0 1103.9,1279.9 1106.1,1278.8 1108.2,1277.7 1110.3,1276.5 1112.3,1275.3 1114.3,1274.0 1116.2,1272.7 1118.1,1271.3 1120.0,1270.0 1121.8,1268.5 1123.7,1267.1 1125.6,1265.6 1127.5,1264.1 1129.4,1262.6 1131.3,1261.0 1133.2,1259.4 1135.2,1257.8 1137.1,1256.1 1139.0,1254.3 1140.9,1252.4 1142.8,1250.4 1144.7,1248.3 1146.6,1246.1 1148.6,1243.8 1150.5,1241.5 1152.4,1239.2 1154.3,1237.0 1156.2,1234.9 1158.1,1232.8 1160.0,1230.8 1161.9,1228.7 1163.8,1226.7 1165.8,1224.8 1167.7,1222.9 1169.6,1221.2 1171.5,1219.6 1173.4,1218.2 1175.3,1216.8 1177.2,1215.6 1179.2,1214.4 1181.1,1213.4 1183.0,1212.5 1184.9,1211.6 1186.8,1210.9 1188.7,1210.3 1190.6,1209.8 1192.5,1209.4 1194.4,1209.1 1196.4,1208.9 1198.3,1208.8 1200.2,1208.7 1202.1,1208.7 1204.0,1208.7 1205.9,1208.9 1207.7,1209.1 1209.6,1209.4 1211.5,1209.7 1213.4,1210.1 1215.4,1210.5 1217.4,1210.9 1219.5,1211.3 1221.6,1211.8 1223.8,1212.4 1226.0,1213.0 1228.2,1213.6 1230.5,1214.2 1232.7,1214.7 1234.9,1215.3 1237.1,1215.8 1239.3,1216.4 1241.5,1216.9 1243.6,1217.5 1245.8,1218.0 1248.0,1218.6 1250.2,1219.1 1252.4,1219.6 1254.6,1220.1 1256.8,1220.6 1259.1,1221.0 1261.3,1221.5 1263.6,1221.9 1265.8,1222.4 1267.9,1222.9 1270.0,1223.5 1272.0,1224.1 1274.0,1224.8 1275.9,1225.5 1277.8,1226.3 1279.7,1227.0 1281.6,1227.8 1283.5,1228.6 1285.4,1229.3 1287.3,1230.0 1289.3,1230.8 1291.2,1231.6 1293.2,1232.3 1295.1,1233.1 1297.0,1233.8 1299.0,1234.5 1300.9,1235.1 1302.8,1235.7 1304.8,1236.2 1306.7,1236.7 1308.6,1237.2 1310.5,1237.6 1312.4,1238.1 1314.4,1238.5 1316.3,1239.0 1318.2,1239.5 1320.2,1240.0 1322.1,1240.5 1324.0,1241.0 1326.0,1241.5 1327.9,1242.0 1329.9,1242.4 1331.8,1242.8 1333.7,1243.1 1335.7,1243.4 1337.6,1243.6 1339.5,1243.8 1341.4,1244.0 1343.4,1244.2 1345.3,1244.3 1347.2,1244.4 1349.1,1244.5 1351.0,1244.5 1353.0,1244.5 1354.9,1244.5 1356.8,1244.5 1358.7,1244.5 1360.7,1244.4 1362.6,1244.4 1364.5,1244.4 1366.5,1244.3 1368.4,1244.3 1370.3,1244.2 1372.3,1244.1 1374.2,1244.0 1376.2,1243.9 1378.1,1243.8 1380.0,1243.7 1382.0,1243.5 1383.9,1243.3 1385.8,1243.2 1387.7,1243.0 1389.6,1242.8 1391.6,1242.6 1393.5,1242.4 1395.4,1242.2 1397.4,1242.0 1399.3,1241.8 1401.2,1241.6 1403.2,1241.4 1405.1,1241.2 1407.1,1241.1 1409.0,1240.9 1410.9,1240.8 1412.9,1240.6 1414.8,1240.5 1416.7,1240.4 1418.6,1240.2 1420.6,1240.1 1422.5,1240.0 1424.4,1239.9 1426.3,1239.8 1428.2,1239.7 1430.2,1239.6 1432.1,1239.5 1434.0,1239.3 1435.9,1239.2 1437.9,1239.1 1439.8,1239.0 1441.7,1238.9 1443.7,1238.7 1445.6,1238.6 1447.5,1238.5 1449.5,1238.4 1451.4,1238.2 1453.4,1238.1 1455.3,1238.0 1457.3,1237.9 1459.3,1237.8 1461.4,1237.7 1463.4,1237.7 1465.4,1237.6 1467.3,1237.5 1469.1,1237.5 1470.7,1237.4 1472.2,1237.3 1473.6,1237.3 1474.8,1237.2 1476.0,1237.2 1477.1,1237.1 1478.0,1237.1 1478.8,1237.0 1479.4,1237.0"/>
<polygon fill="#000" fill-opacity="0.175" points="598.9,1471.7 598.9,1471.7 838.0,1471.7 841.3,1439.4 848.8,1425.9 853.2,1439.4 857.7,1458.8 861.5,1469.3 866.7,1461.8 872.7,1439.4 877.2,1409.5 881.6,1387.1 887.6,1367.6 893.6,1349.7 899.6,1379.6 904.1,1402.0 908.5,1442.4 914.5,1437.9 922.0,1431.9 925.0,1394.5 927.2,1349.7 929.5,1320.0 932.1,1275.0 936.7,1240.0 940.0,1180.0 943.0,1120.0 946.4,1040.0 947.8,1020.6 948.6,973.5 952.1,961.2 955.0,920.0 957.5,890.0 959.9,876.8 962.5,862.9 965.5,853.0 968.6,848.2 971.2,862.9 973.8,887.2 976.4,897.6 978.1,915.0 983.4,927.1 986.9,937.6 989.5,961.2 992.6,973.5 994.9,1020.6 996.6,1040.0 997.4,1101.8 999.0,1171.2 1005.1,1194.4 1008.2,1225.3 1010.2,1260.0 1013.2,1319.8 1017.7,1342.2 1026.6,1357.2 1031.1,1364.6 1037.1,1397.5 1040.1,1405.0 1049.1,1405.0 1053.5,1403.5 1059.5,1349.7 1066.6,1302.7 1070.0,1303.3 1077.5,1333.3 1086.2,1355.2 1095.0,1342.1 1103.7,1337.7 1114.7,1335.5 1123.4,1322.4 1127.8,1256.8 1132.2,1254.6 1140.9,1267.7 1147.5,1285.2 1151.8,1300.5 1156.2,1322.4 1159.5,1344.3 1165.0,1300.5 1171.5,1267.7 1175.9,1252.4 1182.5,1245.9 1189.0,1234.9 1195.6,1221.8 1202.1,1202.1 1204.3,1180.3 1208.7,1160.6 1219.6,1165.0 1226.2,1125.6 1232.8,1097.2 1236.7,1084.1 1241.5,1103.7 1245.9,1147.5 1248.1,1191.2 1250.2,1208.7 1254.6,1180.3 1259.0,1151.8 1263.4,1154.0 1269.9,1160.6 1273.9,1163.7 1277.7,1186.9 1281.6,1200.4 1291.2,1206.2 1299.0,1169.5 1308.6,1175.3 1318.3,1181.1 1327.9,1186.9 1337.6,1192.6 1343.3,1196.5 1347.2,1211.9 1351.1,1231.2 1356.9,1242.8 1366.5,1250.5 1374.2,1260.2 1382.0,1273.7 1391.6,1287.2 1401.2,1298.8 1409.0,1293.0 1416.7,1283.4 1424.4,1285.3 1432.1,1287.2 1437.9,1273.7 1445.6,1246.7 1453.4,1252.5 1461.1,1281.4 1468.8,1269.9 1474.6,1254.4 1479.4,1242.8 1479.2,1471.7"/>
<polygon fill="#000" fill-opacity="0.175" points="598.9,1471.7 598.9,1471.7 812.0,1471.7 814.4,1471.5 821.9,1461.8 829.3,1454.3 839.8,1445.4 845.8,1446.9 853.2,1445.4 863.7,1451.3 869.7,1454.3 877.2,1454.3 884.6,1439.4 892.1,1428.9 899.6,1409.5 907.1,1394.5 914.5,1379.6 917.5,1369.1 922.0,1352.7 926.5,1327.3 927.9,1320.0 930.7,1283.9 935.0,1250.0 939.3,1240.0 943.0,1170.0 946.5,1100.0 950.3,1040.0 951.7,1020.6 954.0,973.5 957.0,961.2 962.5,941.1 969.5,922.0 974.7,911.6 978.0,907.0 981.5,906.4 985.1,911.6 988.6,923.7 992.1,939.3 997.3,961.2 1003.4,973.5 1006.5,1020.6 1008.2,1040.0 1012.1,1101.8 1014.4,1148.1 1017.5,1194.4 1021.3,1240.7 1023.6,1260.0 1028.1,1304.8 1034.1,1331.7 1040.1,1349.7 1046.1,1372.1 1050.6,1382.6 1058.0,1382.6 1065.5,1378.1 1070.9,1368.3 1081.9,1350.8 1092.8,1342.1 1103.7,1331.2 1116.9,1326.8 1127.8,1320.2 1136.5,1311.5 1147.5,1307.1 1158.4,1300.5 1169.3,1294.0 1180.3,1287.4 1191.2,1274.3 1202.1,1263.4 1210.9,1250.2 1213.1,1226.2 1217.4,1213.1 1224.0,1197.8 1230.6,1186.8 1234.9,1169.3 1241.5,1156.2 1250.2,1145.3 1263.4,1138.7 1270.0,1140.0 1275.8,1150.2 1283.5,1163.7 1289.3,1173.3 1297.0,1186.9 1306.7,1194.6 1316.3,1202.3 1322.1,1208.1 1327.9,1215.8 1335.6,1215.8 1343.3,1221.6 1351.1,1233.2 1360.7,1237.0 1370.4,1242.8 1380.0,1254.4 1385.8,1262.1 1391.6,1277.6 1399.3,1291.1 1409.0,1300.7 1422.5,1300.7 1430.2,1294.9 1437.9,1285.3 1447.6,1273.7 1457.2,1260.2 1466.9,1252.5 1474.6,1250.5 1479.4,1246.7 1479.2,1471.7"/>
<polyline fill="none" stroke="rgb(0,135,0)" stroke-opacity="0.68" stroke-width="3.2" stroke-linejoin="round" points="598.9,1471.7 838.0,1471.7 841.3,1439.4 848.8,1425.9 853.2,1439.4 857.7,1458.8 861.5,1469.3 866.7,1461.8 872.7,1439.4 877.2,1409.5 881.6,1387.1 887.6,1367.6 893.6,1349.7 899.6,1379.6 904.1,1402.0 908.5,1442.4 914.5,1437.9 922.0,1431.9 925.0,1394.5 927.2,1349.7 929.5,1320.0 932.1,1275.0 936.7,1240.0 940.0,1180.0 943.0,1120.0 946.4,1040.0 947.8,1020.6 948.6,973.5 952.1,961.2 955.0,920.0 957.5,890.0 959.9,876.8 962.5,862.9 965.5,853.0 968.6,848.2 971.2,862.9 973.8,887.2 976.4,897.6 978.1,915.0 983.4,927.1 986.9,937.6 989.5,961.2 992.6,973.5 994.9,1020.6 996.6,1040.0 997.4,1101.8 999.0,1171.2 1005.1,1194.4 1008.2,1225.3 1010.2,1260.0 1013.2,1319.8 1017.7,1342.2 1026.6,1357.2 1031.1,1364.6 1037.1,1397.5 1040.1,1405.0 1049.1,1405.0 1053.5,1403.5 1059.5,1349.7 1066.6,1302.7 1070.0,1303.3 1077.5,1333.3 1086.2,1355.2 1095.0,1342.1 1103.7,1337.7 1114.7,1335.5 1123.4,1322.4 1127.8,1256.8 1132.2,1254.6 1140.9,1267.7 1147.5,1285.2 1151.8,1300.5 1156.2,1322.4 1159.5,1344.3 1165.0,1300.5 1171.5,1267.7 1175.9,1252.4 1182.5,1245.9 1189.0,1234.9 1195.6,1221.8 1202.1,1202.1 1204.3,1180.3 1208.7,1160.6 1219.6,1165.0 1226.2,1125.6 1232.8,1097.2 1236.7,1084.1 1241.5,1103.7 1245.9,1147.5 1248.1,1191.2 1250.2,1208.7 1254.6,1180.3 1259.0,1151.8 1263.4,1154.0 1269.9,1160.6 1273.9,1163.7 1277.7,1186.9 1281.6,1200.4 1291.2,1206.2 1299.0,1169.5 1308.6,1175.3 1318.3,1181.1 1327.9,1186.9 1337.6,1192.6 1343.3,1196.5 1347.2,1211.9 1351.1,1231.2 1356.9,1242.8 1366.5,1250.5 1374.2,1260.2 1382.0,1273.7 1391.6,1287.2 1401.2,1298.8 1409.0,1293.0 1416.7,1283.4 1424.4,1285.3 1432.1,1287.2 1437.9,1273.7 1445.6,1246.7 1453.4,1252.5 1461.1,1281.4 1468.8,1269.9 1474.6,1254.4 1479.4,1242.8"/>
<g fill="rgb(0,140,0)" fill-opacity="0.48"><polygon points="591.4,1471.7 606.4,1462.9 606.4,1480.5"/><polygon points="606.1,1471.7 621.1,1462.9 621.1,1480.5"/><polygon points="620.8,1471.7 635.8,1462.9 635.8,1480.5"/><polygon points="635.5,1471.7 650.5,1462.9 650.5,1480.5"/><polygon points="650.2,1471.7 665.2,1462.9 665.2,1480.5"/><polygon points="664.9,1471.7 679.9,1462.9 679.9,1480.5"/><polygon points="679.6,1471.7 694.6,1462.9 694.6,1480.5"/><polygon points="694.3,1471.7 709.3,1462.9 709.3,1480.5"/><polygon points="709.0,1471.7 724.0,1462.9 724.0,1480.5"/><polygon points="723.7,1471.7 738.7,1462.9 738.7,1480.5"/><polygon points="738.4,1471.7 753.4,1462.9 753.4,1480.5"/><polygon points="753.1,1471.7 768.1,1462.9 768.1,1480.5"/><polygon points="767.8,1471.7 782.8,1462.9 782.8,1480.5"/><polygon points="782.5,1471.7 797.5,1462.9 797.5,1480.5"/><polygon points="797.2,1471.7 812.2,1462.9 812.2,1480.5"/><polygon points="811.9,1471.7 826.9,1462.9 826.9,1480.5"/><polygon points="826.6,1471.7 841.6,1462.9 841.6,1480.5"/><polygon points="839.2,1429.6 854.2,1420.8 854.2,1438.4"/><polygon points="852.8,1466.0 867.8,1457.2 867.8,1474.8"/><polygon points="866.4,1431.5 881.4,1422.7 881.4,1440.3"/><polygon points="878.9,1371.5 893.9,1362.7 893.9,1380.3"/><polygon points="892.0,1379.3 907.0,1370.5 907.0,1388.1"/><polygon points="903.6,1440.4 918.6,1431.6 918.6,1449.2"/><polygon points="916.5,1406.5 931.5,1397.7 931.5,1415.3"/><polygon points="923.1,1301.6 938.1,1292.8 938.1,1310.4"/><polygon points="931.1,1205.7 946.1,1196.9 946.1,1214.5"/><polygon points="936.5,1096.4 951.5,1087.6 951.5,1105.2"/><polygon points="940.9,985.3 955.9,976.5 955.9,994.1"/><polygon points="949.4,896.8 964.4,888.0 964.4,905.6"/><polygon points="962.1,853.9 977.1,845.1 977.1,862.7"/><polygon points="973.6,921.8 988.6,913.0 988.6,930.6"/><polygon points="985.5,982.0 1000.5,973.2 1000.5,990.8"/><polygon points="989.8,1092.2 1004.8,1083.4 1004.8,1101.0"/><polygon points="995.7,1187.2 1010.7,1178.4 1010.7,1196.0"/><polygon points="1003.8,1281.4 1018.8,1272.6 1018.8,1290.2"/><polygon points="1014.3,1349.2 1029.3,1340.4 1029.3,1358.0"/><polygon points="1027.9,1388.3 1042.9,1379.5 1042.9,1397.1"/><polygon points="1042.1,1404.8 1057.1,1396.0 1057.1,1413.6"/><polygon points="1053.4,1340.5 1068.4,1331.7 1068.4,1349.3"/><polygon points="1066.0,1317.2 1081.0,1308.4 1081.0,1326.0"/><polygon points="1079.8,1353.6 1094.8,1344.8 1094.8,1362.4"/><polygon points="1094.3,1338.6 1109.3,1329.8 1109.3,1347.4"/><polygon points="1109.0,1332.8 1124.0,1324.0 1124.0,1341.6"/><polygon points="1119.5,1268.4 1134.5,1259.6 1134.5,1277.2"/><polygon points="1133.2,1267.4 1148.2,1258.6 1148.2,1276.2"/><polygon points="1146.7,1312.5 1161.7,1303.7 1161.7,1321.3"/><polygon points="1157.8,1299.2 1172.8,1290.4 1172.8,1308.0"/><polygon points="1170.9,1249.9 1185.9,1241.1 1185.9,1258.7"/><polygon points="1185.3,1227.3 1200.3,1218.5 1200.3,1236.1"/><polygon points="1198.0,1174.9 1213.0,1166.1 1213.0,1183.7"/><polygon points="1212.2,1164.4 1227.2,1155.6 1227.2,1173.2"/><polygon points="1224.5,1100.6 1239.5,1091.8 1239.5,1109.4"/><polygon points="1236.6,1129.7 1251.6,1120.9 1251.6,1138.5"/><polygon points="1245.0,1194.0 1260.0,1185.2 1260.0,1202.8"/><polygon points="1257.8,1155.9 1272.8,1147.1 1272.8,1164.7"/><polygon points="1271.3,1190.9 1286.3,1182.1 1286.3,1199.7"/><polygon points="1285.5,1197.8 1300.5,1189.0 1300.5,1206.6"/><polygon points="1299.2,1174.2 1314.2,1165.4 1314.2,1183.0"/><polygon points="1313.9,1183.0 1328.9,1174.2 1328.9,1191.8"/><polygon points="1328.5,1191.7 1343.5,1182.9 1343.5,1200.5"/><polygon points="1342.3,1224.7 1357.3,1215.9 1357.3,1233.5"/><polygon points="1356.5,1248.5 1371.5,1239.7 1371.5,1257.3"/><polygon points="1371.0,1267.7 1386.0,1258.9 1386.0,1276.5"/><polygon points="1385.5,1288.9 1400.5,1280.1 1400.5,1297.7"/><polygon points="1400.1,1294.1 1415.1,1285.3 1415.1,1302.9"/><polygon points="1414.7,1284.8 1429.7,1276.0 1429.7,1293.6"/><polygon points="1429.2,1276.5 1444.2,1267.7 1444.2,1285.3"/><polygon points="1443.1,1250.4 1458.1,1241.6 1458.1,1259.2"/><polygon points="1456.9,1276.4 1471.9,1267.6 1471.9,1285.2"/><polygon points="1471.1,1244.8 1486.1,1236.0 1486.1,1253.6"/></g>
<polyline fill="none" stroke="rgb(243,140,40)" stroke-opacity="0.8" stroke-width="3.2" stroke-linejoin="round" points="598.9,1471.7 812.0,1471.7 814.4,1471.5 821.9,1461.8 829.3,1454.3 839.8,1445.4 845.8,1446.9 853.2,1445.4 863.7,1451.3 869.7,1454.3 877.2,1454.3 884.6,1439.4 892.1,1428.9 899.6,1409.5 907.1,1394.5 914.5,1379.6 917.5,1369.1 922.0,1352.7 926.5,1327.3 927.9,1320.0 930.7,1283.9 935.0,1250.0 939.3,1240.0 943.0,1170.0 946.5,1100.0 950.3,1040.0 951.7,1020.6 954.0,973.5 957.0,961.2 962.5,941.1 969.5,922.0 974.7,911.6 978.0,907.0 981.5,906.4 985.1,911.6 988.6,923.7 992.1,939.3 997.3,961.2 1003.4,973.5 1006.5,1020.6 1008.2,1040.0 1012.1,1101.8 1014.4,1148.1 1017.5,1194.4 1021.3,1240.7 1023.6,1260.0 1028.1,1304.8 1034.1,1331.7 1040.1,1349.7 1046.1,1372.1 1050.6,1382.6 1058.0,1382.6 1065.5,1378.1 1070.9,1368.3 1081.9,1350.8 1092.8,1342.1 1103.7,1331.2 1116.9,1326.8 1127.8,1320.2 1136.5,1311.5 1147.5,1307.1 1158.4,1300.5 1169.3,1294.0 1180.3,1287.4 1191.2,1274.3 1202.1,1263.4 1210.9,1250.2 1213.1,1226.2 1217.4,1213.1 1224.0,1197.8 1230.6,1186.8 1234.9,1169.3 1241.5,1156.2 1250.2,1145.3 1263.4,1138.7 1270.0,1140.0 1275.8,1150.2 1283.5,1163.7 1289.3,1173.3 1297.0,1186.9 1306.7,1194.6 1316.3,1202.3 1322.1,1208.1 1327.9,1215.8 1335.6,1215.8 1343.3,1221.6 1351.1,1233.2 1360.7,1237.0 1370.4,1242.8 1380.0,1254.4 1385.8,1262.1 1391.6,1277.6 1399.3,1291.1 1409.0,1300.7 1422.5,1300.7 1430.2,1294.9 1437.9,1285.3 1447.6,1273.7 1457.2,1260.2 1466.9,1252.5 1474.6,1250.5 1479.4,1246.7"/>
<g fill="rgb(250,150,30)" fill-opacity="0.55"><polygon points="836.8,1454.3 821.8,1445.5 821.8,1463.1"/><polygon points="873.8,1452.6 858.8,1443.8 858.8,1461.4"/><polygon points="905.5,1413.6 890.5,1404.8 890.5,1422.4"/><polygon points="930.6,1346.6 915.6,1337.8 915.6,1355.4"/><polygon points="941.3,1259.5 926.3,1250.7 926.3,1268.3"/><polygon points="950.3,1173.7 935.3,1164.9 935.3,1182.5"/><polygon points="955.1,1083.2 940.1,1074.4 940.1,1092.0"/><polygon points="960.5,993.0 945.5,984.2 945.5,1001.8"/><polygon points="979.5,917.0 964.5,908.2 964.5,925.8"/><polygon points="1004.3,959.0 989.3,950.2 989.3,967.8"/><polygon points="1015.8,1042.0 1000.8,1033.2 1000.8,1050.8"/><polygon points="1021.1,1132.3 1006.1,1123.5 1006.1,1141.1"/><polygon points="1027.3,1222.3 1012.3,1213.5 1012.3,1231.1"/><polygon points="1036.8,1310.4 1021.8,1301.6 1021.8,1319.2"/><polygon points="1059.0,1382.6 1044.0,1373.8 1044.0,1391.4"/><polygon points="1093.0,1347.9 1078.0,1339.1 1078.0,1356.7"/><polygon points="1129.5,1323.7 1114.5,1314.9 1114.5,1332.5"/><polygon points="1166.0,1300.4 1151.0,1291.6 1151.0,1309.2"/><polygon points="1201.8,1271.2 1186.8,1262.4 1186.8,1280.0"/><polygon points="1226.4,1209.7 1211.4,1200.9 1211.4,1218.5"/><polygon points="1254.1,1149.8 1239.1,1141.0 1239.1,1158.6"/><polygon points="1288.7,1159.6 1273.7,1150.8 1273.7,1168.4"/><polygon points="1322.1,1200.9 1307.1,1192.1 1307.1,1209.7"/><polygon points="1357.2,1231.1 1342.2,1222.3 1342.2,1239.9"/><polygon points="1392.6,1261.2 1377.6,1252.4 1377.6,1270.0"/><polygon points="1425.0,1300.7 1410.0,1291.9 1410.0,1309.5"/><polygon points="1459.8,1267.1 1444.8,1258.3 1444.8,1275.9"/></g>
<rect x="598.9" y="960.9" width="880.3000000000001" height="14.399999999999977" fill="#fff"/>
</g>
<line x1="598.9" y1="799.2" x2="598.9" y2="960.9" stroke="#000" stroke-width="2.2"/>
<line x1="1479.2" y1="799.2" x2="1479.2" y2="960.9" stroke="#000" stroke-width="2.2"/>
<line x1="598.9" y1="975.3" x2="598.9" y2="1471.7" stroke="#000" stroke-width="2.2"/>
<line x1="1479.2" y1="975.3" x2="1479.2" y2="1471.7" stroke="#000" stroke-width="2.2"/>
<line x1="597.8" y1="799.2" x2="1480.3" y2="799.2" stroke="#000" stroke-width="2.2"/>
<line x1="597.8" y1="1471.7" x2="1480.3" y2="1471.7" stroke="#000" stroke-width="2.2"/>
<line x1="586.9" y1="968.1" x2="611.4" y2="956.5000000000001" stroke="#000" stroke-width="2.2" stroke-linecap="round"/>
<line x1="1467.2" y1="968.1" x2="1491.7" y2="956.5000000000001" stroke="#000" stroke-width="2.2" stroke-linecap="round"/>
<line x1="586.9" y1="979.6999999999999" x2="611.4" y2="968.1" stroke="#000" stroke-width="2.2" stroke-linecap="round"/>
<line x1="1467.2" y1="979.6999999999999" x2="1491.7" y2="968.1" stroke="#000" stroke-width="2.2" stroke-linecap="round"/>
<text x="598.9" y="1504.7" font-size="26.5" text-anchor="middle">0</text>
<line x1="628.2" y1="1471.7" x2="628.2" y2="1464.7" stroke="#000" stroke-width="2"/>
<line x1="628.2" y1="799.2" x2="628.2" y2="806.2" stroke="#000" stroke-width="2"/>
<line x1="657.6" y1="1471.7" x2="657.6" y2="1464.7" stroke="#000" stroke-width="2"/>
<line x1="657.6" y1="799.2" x2="657.6" y2="806.2" stroke="#000" stroke-width="2"/>
<line x1="686.9" y1="1471.7" x2="686.9" y2="1464.7" stroke="#000" stroke-width="2"/>
<line x1="686.9" y1="799.2" x2="686.9" y2="806.2" stroke="#000" stroke-width="2"/>
<line x1="716.3" y1="1471.7" x2="716.3" y2="1464.7" stroke="#000" stroke-width="2"/>
<line x1="716.3" y1="799.2" x2="716.3" y2="806.2" stroke="#000" stroke-width="2"/>
<line x1="745.6" y1="1471.7" x2="745.6" y2="1459.7" stroke="#000" stroke-width="2"/>
<line x1="745.6" y1="799.2" x2="745.6" y2="811.2" stroke="#000" stroke-width="2"/>
<text x="745.6" y="1504.7" font-size="26.5" text-anchor="middle">1</text>
<line x1="775.0" y1="1471.7" x2="775.0" y2="1464.7" stroke="#000" stroke-width="2"/>
<line x1="775.0" y1="799.2" x2="775.0" y2="806.2" stroke="#000" stroke-width="2"/>
<line x1="804.3" y1="1471.7" x2="804.3" y2="1464.7" stroke="#000" stroke-width="2"/>
<line x1="804.3" y1="799.2" x2="804.3" y2="806.2" stroke="#000" stroke-width="2"/>
<line x1="833.7" y1="1471.7" x2="833.7" y2="1464.7" stroke="#000" stroke-width="2"/>
<line x1="833.7" y1="799.2" x2="833.7" y2="806.2" stroke="#000" stroke-width="2"/>
<line x1="863.0" y1="1471.7" x2="863.0" y2="1464.7" stroke="#000" stroke-width="2"/>
<line x1="863.0" y1="799.2" x2="863.0" y2="806.2" stroke="#000" stroke-width="2"/>
<line x1="892.3" y1="1471.7" x2="892.3" y2="1459.7" stroke="#000" stroke-width="2"/>
<line x1="892.3" y1="799.2" x2="892.3" y2="811.2" stroke="#000" stroke-width="2"/>
<text x="892.3" y="1504.7" font-size="26.5" text-anchor="middle">2</text>
<line x1="921.7" y1="1471.7" x2="921.7" y2="1464.7" stroke="#000" stroke-width="2"/>
<line x1="921.7" y1="799.2" x2="921.7" y2="806.2" stroke="#000" stroke-width="2"/>
<line x1="951.0" y1="1471.7" x2="951.0" y2="1464.7" stroke="#000" stroke-width="2"/>
<line x1="951.0" y1="799.2" x2="951.0" y2="806.2" stroke="#000" stroke-width="2"/>
<line x1="980.4" y1="1471.7" x2="980.4" y2="1464.7" stroke="#000" stroke-width="2"/>
<line x1="980.4" y1="799.2" x2="980.4" y2="806.2" stroke="#000" stroke-width="2"/>
<line x1="1009.7" y1="1471.7" x2="1009.7" y2="1464.7" stroke="#000" stroke-width="2"/>
<line x1="1009.7" y1="799.2" x2="1009.7" y2="806.2" stroke="#000" stroke-width="2"/>
<line x1="1039.1" y1="1471.7" x2="1039.1" y2="1459.7" stroke="#000" stroke-width="2"/>
<line x1="1039.1" y1="799.2" x2="1039.1" y2="811.2" stroke="#000" stroke-width="2"/>
<text x="1039.1" y="1504.7" font-size="26.5" text-anchor="middle">3</text>
<line x1="1068.4" y1="1471.7" x2="1068.4" y2="1464.7" stroke="#000" stroke-width="2"/>
<line x1="1068.4" y1="799.2" x2="1068.4" y2="806.2" stroke="#000" stroke-width="2"/>
<line x1="1097.7" y1="1471.7" x2="1097.7" y2="1464.7" stroke="#000" stroke-width="2"/>
<line x1="1097.7" y1="799.2" x2="1097.7" y2="806.2" stroke="#000" stroke-width="2"/>
<line x1="1127.1" y1="1471.7" x2="1127.1" y2="1464.7" stroke="#000" stroke-width="2"/>
<line x1="1127.1" y1="799.2" x2="1127.1" y2="806.2" stroke="#000" stroke-width="2"/>
<line x1="1156.4" y1="1471.7" x2="1156.4" y2="1464.7" stroke="#000" stroke-width="2"/>
<line x1="1156.4" y1="799.2" x2="1156.4" y2="806.2" stroke="#000" stroke-width="2"/>
<line x1="1185.8" y1="1471.7" x2="1185.8" y2="1459.7" stroke="#000" stroke-width="2"/>
<line x1="1185.8" y1="799.2" x2="1185.8" y2="811.2" stroke="#000" stroke-width="2"/>
<text x="1185.8" y="1504.7" font-size="26.5" text-anchor="middle">4</text>
<line x1="1215.1" y1="1471.7" x2="1215.1" y2="1464.7" stroke="#000" stroke-width="2"/>
<line x1="1215.1" y1="799.2" x2="1215.1" y2="806.2" stroke="#000" stroke-width="2"/>
<line x1="1244.5" y1="1471.7" x2="1244.5" y2="1464.7" stroke="#000" stroke-width="2"/>
<line x1="1244.5" y1="799.2" x2="1244.5" y2="806.2" stroke="#000" stroke-width="2"/>
<line x1="1273.8" y1="1471.7" x2="1273.8" y2="1464.7" stroke="#000" stroke-width="2"/>
<line x1="1273.8" y1="799.2" x2="1273.8" y2="806.2" stroke="#000" stroke-width="2"/>
<line x1="1303.2" y1="1471.7" x2="1303.2" y2="1464.7" stroke="#000" stroke-width="2"/>
<line x1="1303.2" y1="799.2" x2="1303.2" y2="806.2" stroke="#000" stroke-width="2"/>
<line x1="1332.5" y1="1471.7" x2="1332.5" y2="1459.7" stroke="#000" stroke-width="2"/>
<line x1="1332.5" y1="799.2" x2="1332.5" y2="811.2" stroke="#000" stroke-width="2"/>
<text x="1332.5" y="1504.7" font-size="26.5" text-anchor="middle">5</text>
<line x1="1361.8" y1="1471.7" x2="1361.8" y2="1464.7" stroke="#000" stroke-width="2"/>
<line x1="1361.8" y1="799.2" x2="1361.8" y2="806.2" stroke="#000" stroke-width="2"/>
<line x1="1391.2" y1="1471.7" x2="1391.2" y2="1464.7" stroke="#000" stroke-width="2"/>
<line x1="1391.2" y1="799.2" x2="1391.2" y2="806.2" stroke="#000" stroke-width="2"/>
<line x1="1420.5" y1="1471.7" x2="1420.5" y2="1464.7" stroke="#000" stroke-width="2"/>
<line x1="1420.5" y1="799.2" x2="1420.5" y2="806.2" stroke="#000" stroke-width="2"/>
<line x1="1449.9" y1="1471.7" x2="1449.9" y2="1464.7" stroke="#000" stroke-width="2"/>
<line x1="1449.9" y1="799.2" x2="1449.9" y2="806.2" stroke="#000" stroke-width="2"/>
<text x="1479.2" y="1504.7" font-size="26.5" text-anchor="middle">6</text>
<line x1="598.9" y1="1448.0" x2="605.9" y2="1448.0" stroke="#000" stroke-width="2"/>
<line x1="1479.2" y1="1448.0" x2="1472.2" y2="1448.0" stroke="#000" stroke-width="2"/>
<line x1="598.9" y1="1424.3" x2="605.9" y2="1424.3" stroke="#000" stroke-width="2"/>
<line x1="1479.2" y1="1424.3" x2="1472.2" y2="1424.3" stroke="#000" stroke-width="2"/>
<line x1="598.9" y1="1400.6" x2="605.9" y2="1400.6" stroke="#000" stroke-width="2"/>
<line x1="1479.2" y1="1400.6" x2="1472.2" y2="1400.6" stroke="#000" stroke-width="2"/>
<line x1="598.9" y1="1376.9" x2="605.9" y2="1376.9" stroke="#000" stroke-width="2"/>
<line x1="1479.2" y1="1376.9" x2="1472.2" y2="1376.9" stroke="#000" stroke-width="2"/>
<line x1="598.9" y1="1353.2" x2="610.9" y2="1353.2" stroke="#000" stroke-width="2"/>
<line x1="1479.2" y1="1353.2" x2="1467.2" y2="1353.2" stroke="#000" stroke-width="2"/>
<text x="585.4" y="1360.8" font-size="26.5" text-anchor="end">0.5</text>
<line x1="598.9" y1="1329.6" x2="605.9" y2="1329.6" stroke="#000" stroke-width="2"/>
<line x1="1479.2" y1="1329.6" x2="1472.2" y2="1329.6" stroke="#000" stroke-width="2"/>
<line x1="598.9" y1="1305.9" x2="605.9" y2="1305.9" stroke="#000" stroke-width="2"/>
<line x1="1479.2" y1="1305.9" x2="1472.2" y2="1305.9" stroke="#000" stroke-width="2"/>
<line x1="598.9" y1="1282.2" x2="605.9" y2="1282.2" stroke="#000" stroke-width="2"/>
<line x1="1479.2" y1="1282.2" x2="1472.2" y2="1282.2" stroke="#000" stroke-width="2"/>
<line x1="598.9" y1="1258.5" x2="605.9" y2="1258.5" stroke="#000" stroke-width="2"/>
<line x1="1479.2" y1="1258.5" x2="1472.2" y2="1258.5" stroke="#000" stroke-width="2"/>
<line x1="598.9" y1="1234.8" x2="610.9" y2="1234.8" stroke="#000" stroke-width="2"/>
<line x1="1479.2" y1="1234.8" x2="1467.2" y2="1234.8" stroke="#000" stroke-width="2"/>
<text x="585.4" y="1242.3" font-size="26.5" text-anchor="end">1.0</text>
<line x1="598.9" y1="1211.1" x2="605.9" y2="1211.1" stroke="#000" stroke-width="2"/>
<line x1="1479.2" y1="1211.1" x2="1472.2" y2="1211.1" stroke="#000" stroke-width="2"/>
<line x1="598.9" y1="1187.4" x2="605.9" y2="1187.4" stroke="#000" stroke-width="2"/>
<line x1="1479.2" y1="1187.4" x2="1472.2" y2="1187.4" stroke="#000" stroke-width="2"/>
<line x1="598.9" y1="1163.7" x2="605.9" y2="1163.7" stroke="#000" stroke-width="2"/>
<line x1="1479.2" y1="1163.7" x2="1472.2" y2="1163.7" stroke="#000" stroke-width="2"/>
<line x1="598.9" y1="1140.0" x2="605.9" y2="1140.0" stroke="#000" stroke-width="2"/>
<line x1="1479.2" y1="1140.0" x2="1472.2" y2="1140.0" stroke="#000" stroke-width="2"/>
<line x1="598.9" y1="1116.3" x2="610.9" y2="1116.3" stroke="#000" stroke-width="2"/>
<line x1="1479.2" y1="1116.3" x2="1467.2" y2="1116.3" stroke="#000" stroke-width="2"/>
<text x="585.4" y="1123.8" font-size="26.5" text-anchor="end">1.5</text>
<line x1="598.9" y1="1092.7" x2="605.9" y2="1092.7" stroke="#000" stroke-width="2"/>
<line x1="1479.2" y1="1092.7" x2="1472.2" y2="1092.7" stroke="#000" stroke-width="2"/>
<line x1="598.9" y1="1069.0" x2="605.9" y2="1069.0" stroke="#000" stroke-width="2"/>
<line x1="1479.2" y1="1069.0" x2="1472.2" y2="1069.0" stroke="#000" stroke-width="2"/>
<line x1="598.9" y1="1045.3" x2="605.9" y2="1045.3" stroke="#000" stroke-width="2"/>
<line x1="1479.2" y1="1045.3" x2="1472.2" y2="1045.3" stroke="#000" stroke-width="2"/>
<line x1="598.9" y1="1021.6" x2="605.9" y2="1021.6" stroke="#000" stroke-width="2"/>
<line x1="1479.2" y1="1021.6" x2="1472.2" y2="1021.6" stroke="#000" stroke-width="2"/>
<line x1="598.9" y1="997.9" x2="610.9" y2="997.9" stroke="#000" stroke-width="2"/>
<line x1="1479.2" y1="997.9" x2="1467.2" y2="997.9" stroke="#000" stroke-width="2"/>
<text x="585.4" y="1005.4" font-size="26.5" text-anchor="end">2.0</text>
<line x1="598.9" y1="1471.7" x2="610.9" y2="1471.7" stroke="#000" stroke-width="2"/>
<line x1="1479.2" y1="1471.7" x2="1467.2" y2="1471.7" stroke="#000" stroke-width="2"/>
<text x="585.4" y="1479.2" font-size="26.5" text-anchor="end">0.0</text>
<line x1="598.9" y1="929.7" x2="610.9" y2="929.7" stroke="#000" stroke-width="2"/>
<line x1="1479.2" y1="929.7" x2="1467.2" y2="929.7" stroke="#000" stroke-width="2"/>
<text x="585.4" y="937.2" font-size="26.5" text-anchor="end">3.0</text>
<line x1="598.9" y1="897.1" x2="605.9" y2="897.1" stroke="#000" stroke-width="2"/>
<line x1="1479.2" y1="897.1" x2="1472.2" y2="897.1" stroke="#000" stroke-width="2"/>
<line x1="598.9" y1="864.5" x2="610.9" y2="864.5" stroke="#000" stroke-width="2"/>
<line x1="1479.2" y1="864.5" x2="1467.2" y2="864.5" stroke="#000" stroke-width="2"/>
<text x="585.4" y="872.0" font-size="26.5" text-anchor="end">4.0</text>
<line x1="598.9" y1="831.9" x2="605.9" y2="831.9" stroke="#000" stroke-width="2"/>
<line x1="1479.2" y1="831.9" x2="1472.2" y2="831.9" stroke="#000" stroke-width="2"/>
<line x1="598.9" y1="799.3" x2="610.9" y2="799.3" stroke="#000" stroke-width="2"/>
<line x1="1479.2" y1="799.3" x2="1467.2" y2="799.3" stroke="#000" stroke-width="2"/>
<text x="585.4" y="806.8" font-size="26.5" text-anchor="end">5.0</text>
<text x="492.6" y="846.8000000000001" font-size="50" font-weight="bold" letter-spacing="1.2">(c)</text>
<text x="614.1" y="851.4" font-size="42">B-B</text>
<text x="1039.0" y="1543.2" font-size="33" text-anchor="middle">r (Å)</text>
<text transform="translate(527.6,1122.6) rotate(-90)" font-size="32" text-anchor="middle">pPDF</text>
<rect x="1077.5" y="799.2" width="392.4" height="214.5" fill="#fff" stroke="#6f6f6f" stroke-width="1.3"/>
<line x1="597.8" y1="799.2" x2="1480.3" y2="799.2" stroke="#000" stroke-width="2.2"/>
<line x1="1081.9" y1="825.4000000000001" x2="1151.7" y2="825.4000000000001" stroke="#000" stroke-width="4.5" stroke-linecap="round"/>
<text x="1161.0" y="836.6000000000001" font-size="32">This work 2.04 g cm<tspan dy="-15.5" font-size="19.5">-3</tspan></text>
<line x1="1081.9" y1="869.8000000000001" x2="1151.7" y2="869.8000000000001" stroke="#ff0000" stroke-width="4.5" stroke-linecap="round"/>
<text x="1161.0" y="881.0000000000001" font-size="32">This work 2.80 g cm<tspan dy="-15.5" font-size="19.5">-3</tspan></text>
<line x1="1081.9" y1="913.9000000000001" x2="1151.7" y2="913.9000000000001" stroke="#0000ff" stroke-width="4.5" stroke-linecap="round"/>
<text x="1161.0" y="925.1000000000001" font-size="32">This work 3.48 g cm<tspan dy="-15.5" font-size="19.5">-3</tspan></text>
<line x1="1080.2" y1="953.0" x2="1107.8" y2="953.0" stroke="#4ea84e" stroke-width="3.2" stroke-linecap="round"/>
<line x1="1127.5" y1="953.0" x2="1153.0" y2="953.0" stroke="#4ea84e" stroke-width="3.2" stroke-linecap="round"/>
<polygon fill="#82c882" points="1108.1,953.0 1122.3,943.7 1122.3,962.3"/>
<text x="1161.0" y="964.2" font-size="32">Durandurdu, 2015</text>
<line x1="1080.2" y1="992.4000000000001" x2="1107.5" y2="992.4000000000001" stroke="#f6a556" stroke-width="3.2" stroke-linecap="round"/>
<line x1="1127.0" y1="992.4000000000001" x2="1153.0" y2="992.4000000000001" stroke="#f6a556" stroke-width="3.2" stroke-linecap="round"/>
<polygon fill="#fcc680" points="1126.3,992.4000000000001 1111.4,982.8000000000001 1111.4,1002.0000000000001"/>
<text x="1161.0" y="1003.6000000000001" font-size="32">Durandurdu, 2020</text>
</svg></body></html>
